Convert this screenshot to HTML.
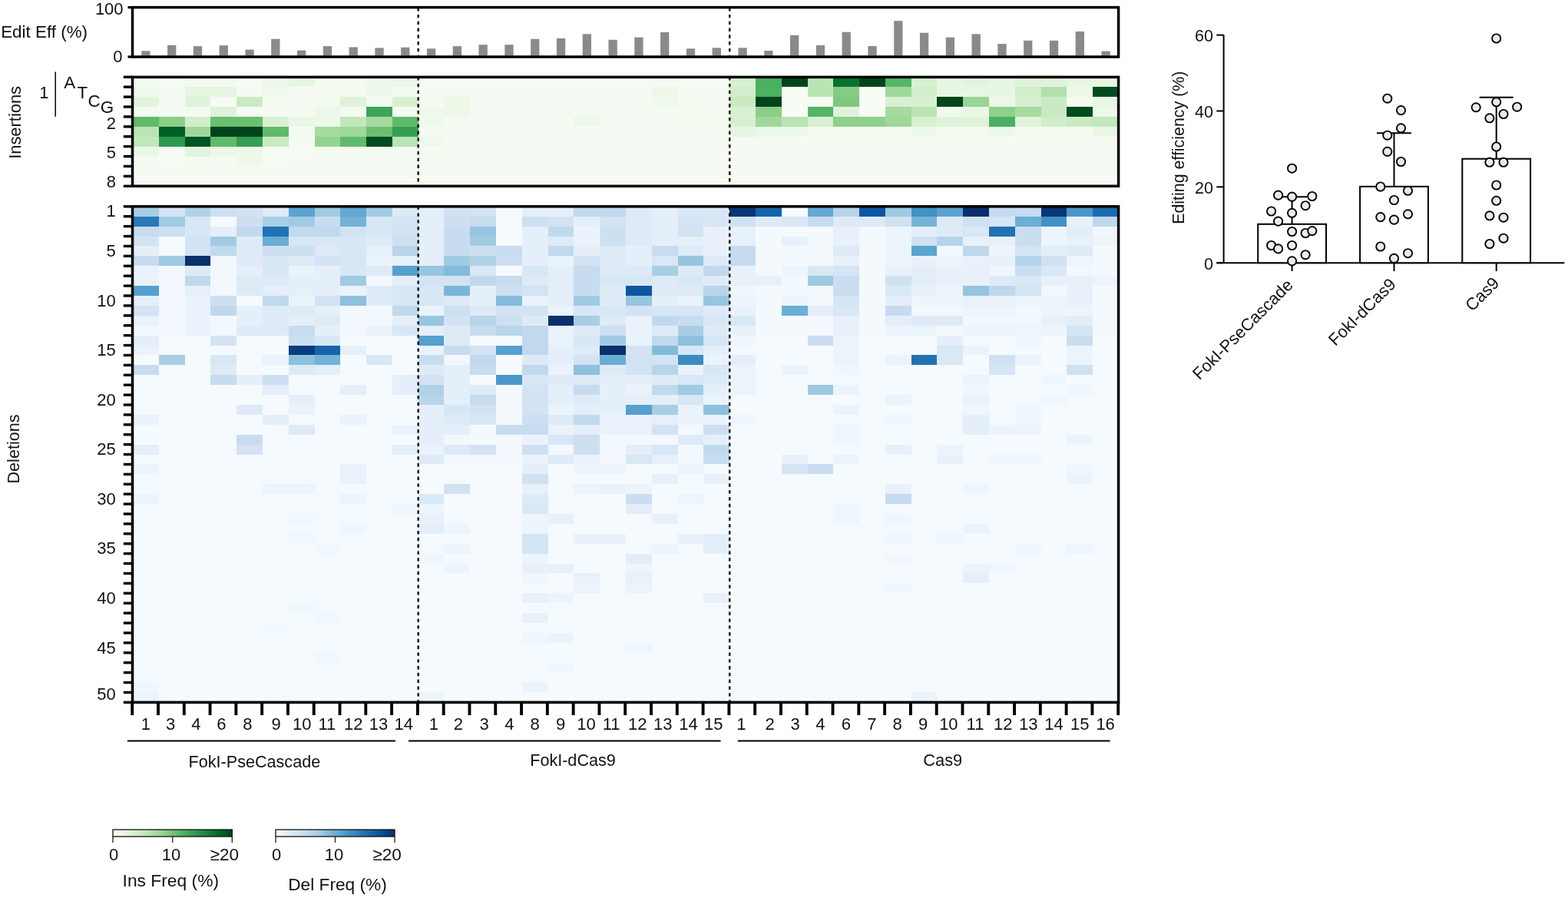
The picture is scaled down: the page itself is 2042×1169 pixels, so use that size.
<!DOCTYPE html>
<html><head><meta charset="utf-8"><title>Editing outcomes heatmap</title>
<style>
html,body{margin:0;padding:0;background:#fff;}
body{width:2042px;height:1169px;overflow:hidden;}
svg{display:block;}
svg text{font-family:'Liberation Sans',Arial,Helvetica,sans-serif;fill:#111;}
</style></head><body>
<svg width="2042" height="1169" viewBox="0 0 2042 1169">
<rect width="2042" height="1169" fill="#fff"/>
<g shape-rendering="crispEdges">
<rect x="173" y="100.3" width="34.39" height="13.51" fill="#f3fbf1"/>
<rect x="206.79" y="100.3" width="34.39" height="13.51" fill="#f5fbf2"/>
<rect x="240.58" y="100.3" width="34.39" height="13.51" fill="#f3fbf1"/>
<rect x="274.37" y="100.3" width="34.39" height="13.51" fill="#f3fbf1"/>
<rect x="308.16" y="100.3" width="34.39" height="13.51" fill="#f5fbf2"/>
<rect x="341.95" y="100.3" width="34.39" height="13.51" fill="#eef9eb"/>
<rect x="375.74" y="100.3" width="34.39" height="13.51" fill="#e7f6e2"/>
<rect x="409.53" y="100.3" width="34.39" height="13.51" fill="#f3fbf1"/>
<rect x="443.32" y="100.3" width="34.39" height="13.51" fill="#f3fbf1"/>
<rect x="477.11" y="100.3" width="34.39" height="13.51" fill="#eef9eb"/>
<rect x="510.9" y="100.3" width="34.39" height="13.51" fill="#ecf8e8"/>
<rect x="544.69" y="100.3" width="34.39" height="13.51" fill="#f5fbf2"/>
<rect x="578.48" y="100.3" width="34.39" height="13.51" fill="#f5fbf2"/>
<rect x="612.27" y="100.3" width="34.39" height="13.51" fill="#f5fbf2"/>
<rect x="646.06" y="100.3" width="34.39" height="13.51" fill="#f5fbf2"/>
<rect x="679.85" y="100.3" width="34.39" height="13.51" fill="#f5fbf2"/>
<rect x="713.64" y="100.3" width="34.39" height="13.51" fill="#f5fbf2"/>
<rect x="747.43" y="100.3" width="34.39" height="13.51" fill="#f5fbf2"/>
<rect x="781.22" y="100.3" width="34.39" height="13.51" fill="#f5fbf2"/>
<rect x="815.01" y="100.3" width="34.39" height="13.51" fill="#f5fbf2"/>
<rect x="848.8" y="100.3" width="34.39" height="13.51" fill="#f5fbf2"/>
<rect x="882.59" y="100.3" width="34.39" height="13.51" fill="#f5fbf2"/>
<rect x="916.38" y="100.3" width="34.39" height="13.51" fill="#f5fbf2"/>
<rect x="950.17" y="100.3" width="34.39" height="13.51" fill="#d8f0d2"/>
<rect x="983.96" y="100.3" width="34.39" height="13.51" fill="#4bb062"/>
<rect x="1017.75" y="100.3" width="34.39" height="13.51" fill="#00441b"/>
<rect x="1051.54" y="100.3" width="34.39" height="13.51" fill="#bae4b3"/>
<rect x="1085.33" y="100.3" width="34.39" height="13.51" fill="#077331"/>
<rect x="1119.12" y="100.3" width="34.39" height="13.51" fill="#00441b"/>
<rect x="1152.91" y="100.3" width="34.39" height="13.51" fill="#55b567"/>
<rect x="1186.7" y="100.3" width="34.39" height="13.51" fill="#d8f0d2"/>
<rect x="1220.49" y="100.3" width="34.39" height="13.51" fill="#e7f6e2"/>
<rect x="1254.28" y="100.3" width="34.39" height="13.51" fill="#e3f4de"/>
<rect x="1288.07" y="100.3" width="34.39" height="13.51" fill="#e7f6e2"/>
<rect x="1321.86" y="100.3" width="34.39" height="13.51" fill="#e0f3da"/>
<rect x="1355.65" y="100.3" width="34.39" height="13.51" fill="#e0f3da"/>
<rect x="1389.44" y="100.3" width="34.39" height="13.51" fill="#e7f6e2"/>
<rect x="1423.23" y="100.3" width="34.39" height="13.51" fill="#e7f6e2"/>
<rect x="173" y="113.21" width="34.39" height="13.51" fill="#eef9eb"/>
<rect x="206.79" y="113.21" width="34.39" height="13.51" fill="#f5fbf2"/>
<rect x="240.58" y="113.21" width="34.39" height="13.51" fill="#e7f6e2"/>
<rect x="274.37" y="113.21" width="34.39" height="13.51" fill="#e7f6e2"/>
<rect x="308.16" y="113.21" width="34.39" height="13.51" fill="#f5fbf2"/>
<rect x="341.95" y="113.21" width="34.39" height="13.51" fill="#eef9eb"/>
<rect x="375.74" y="113.21" width="34.39" height="13.51" fill="#f5fbf2"/>
<rect x="409.53" y="113.21" width="34.39" height="13.51" fill="#f3fbf1"/>
<rect x="443.32" y="113.21" width="34.39" height="13.51" fill="#f3fbf1"/>
<rect x="477.11" y="113.21" width="34.39" height="13.51" fill="#ecf8e8"/>
<rect x="510.9" y="113.21" width="34.39" height="13.51" fill="#f3fbf1"/>
<rect x="544.69" y="113.21" width="34.39" height="13.51" fill="#f5fbf2"/>
<rect x="578.48" y="113.21" width="34.39" height="13.51" fill="#f5fbf2"/>
<rect x="612.27" y="113.21" width="34.39" height="13.51" fill="#f5fbf2"/>
<rect x="646.06" y="113.21" width="34.39" height="13.51" fill="#f5fbf2"/>
<rect x="679.85" y="113.21" width="34.39" height="13.51" fill="#f5fbf2"/>
<rect x="713.64" y="113.21" width="34.39" height="13.51" fill="#f5fbf2"/>
<rect x="747.43" y="113.21" width="34.39" height="13.51" fill="#f5fbf2"/>
<rect x="781.22" y="113.21" width="34.39" height="13.51" fill="#f5fbf2"/>
<rect x="815.01" y="113.21" width="34.39" height="13.51" fill="#f5fbf2"/>
<rect x="848.8" y="113.21" width="34.39" height="13.51" fill="#edf8e9"/>
<rect x="882.59" y="113.21" width="34.39" height="13.51" fill="#f5fbf2"/>
<rect x="916.38" y="113.21" width="34.39" height="13.51" fill="#f5fbf2"/>
<rect x="950.17" y="113.21" width="34.39" height="13.51" fill="#d1edca"/>
<rect x="983.96" y="113.21" width="34.39" height="13.51" fill="#4bb062"/>
<rect x="1017.75" y="113.21" width="34.39" height="13.51" fill="#f7fcf5"/>
<rect x="1051.54" y="113.21" width="34.39" height="13.51" fill="#bae4b3"/>
<rect x="1085.33" y="113.21" width="34.39" height="13.51" fill="#86cc85"/>
<rect x="1119.12" y="113.21" width="34.39" height="13.51" fill="#f7fcf5"/>
<rect x="1152.91" y="113.21" width="34.39" height="13.51" fill="#9fd89a"/>
<rect x="1186.7" y="113.21" width="34.39" height="13.51" fill="#d1edca"/>
<rect x="1220.49" y="113.21" width="34.39" height="13.51" fill="#e7f6e2"/>
<rect x="1254.28" y="113.21" width="34.39" height="13.51" fill="#e7f6e2"/>
<rect x="1288.07" y="113.21" width="34.39" height="13.51" fill="#e7f6e2"/>
<rect x="1321.86" y="113.21" width="34.39" height="13.51" fill="#d1edca"/>
<rect x="1355.65" y="113.21" width="34.39" height="13.51" fill="#b3e0ac"/>
<rect x="1389.44" y="113.21" width="34.39" height="13.51" fill="#ecf8e8"/>
<rect x="1423.23" y="113.21" width="34.39" height="13.51" fill="#004c1e"/>
<rect x="173" y="126.12" width="34.39" height="13.51" fill="#e3f4de"/>
<rect x="206.79" y="126.12" width="34.39" height="13.51" fill="#f5fbf2"/>
<rect x="240.58" y="126.12" width="34.39" height="13.51" fill="#e0f3da"/>
<rect x="274.37" y="126.12" width="34.39" height="13.51" fill="#f6fbf3"/>
<rect x="308.16" y="126.12" width="34.39" height="13.51" fill="#caeac3"/>
<rect x="341.95" y="126.12" width="34.39" height="13.51" fill="#f3fbf1"/>
<rect x="375.74" y="126.12" width="34.39" height="13.51" fill="#f5fbf2"/>
<rect x="409.53" y="126.12" width="34.39" height="13.51" fill="#f3fbf1"/>
<rect x="443.32" y="126.12" width="34.39" height="13.51" fill="#e0f3da"/>
<rect x="477.11" y="126.12" width="34.39" height="13.51" fill="#f3fbf1"/>
<rect x="510.9" y="126.12" width="34.39" height="13.51" fill="#d8f0d2"/>
<rect x="544.69" y="126.12" width="34.39" height="13.51" fill="#f5fbf2"/>
<rect x="578.48" y="126.12" width="34.39" height="13.51" fill="#edf8e9"/>
<rect x="612.27" y="126.12" width="34.39" height="13.51" fill="#f5fbf2"/>
<rect x="646.06" y="126.12" width="34.39" height="13.51" fill="#f5fbf2"/>
<rect x="679.85" y="126.12" width="34.39" height="13.51" fill="#f5fbf2"/>
<rect x="713.64" y="126.12" width="34.39" height="13.51" fill="#f5fbf2"/>
<rect x="747.43" y="126.12" width="34.39" height="13.51" fill="#f5fbf2"/>
<rect x="781.22" y="126.12" width="34.39" height="13.51" fill="#f5fbf2"/>
<rect x="815.01" y="126.12" width="34.39" height="13.51" fill="#f5fbf2"/>
<rect x="848.8" y="126.12" width="34.39" height="13.51" fill="#eff9ec"/>
<rect x="882.59" y="126.12" width="34.39" height="13.51" fill="#f5fbf2"/>
<rect x="916.38" y="126.12" width="34.39" height="13.51" fill="#f5fbf2"/>
<rect x="950.17" y="126.12" width="34.39" height="13.51" fill="#caeac3"/>
<rect x="983.96" y="126.12" width="34.39" height="13.51" fill="#00441b"/>
<rect x="1017.75" y="126.12" width="34.39" height="13.51" fill="#f7fcf5"/>
<rect x="1051.54" y="126.12" width="34.39" height="13.51" fill="#f5fbf2"/>
<rect x="1085.33" y="126.12" width="34.39" height="13.51" fill="#7dc87d"/>
<rect x="1119.12" y="126.12" width="34.39" height="13.51" fill="#f7fcf5"/>
<rect x="1152.91" y="126.12" width="34.39" height="13.51" fill="#d8f0d2"/>
<rect x="1186.7" y="126.12" width="34.39" height="13.51" fill="#d8f0d2"/>
<rect x="1220.49" y="126.12" width="34.39" height="13.51" fill="#00441b"/>
<rect x="1254.28" y="126.12" width="34.39" height="13.51" fill="#99d595"/>
<rect x="1288.07" y="126.12" width="34.39" height="13.51" fill="#ecf8e8"/>
<rect x="1321.86" y="126.12" width="34.39" height="13.51" fill="#d8f0d2"/>
<rect x="1355.65" y="126.12" width="34.39" height="13.51" fill="#caeac3"/>
<rect x="1389.44" y="126.12" width="34.39" height="13.51" fill="#f5fbf2"/>
<rect x="1423.23" y="126.12" width="34.39" height="13.51" fill="#e7f6e2"/>
<rect x="173" y="139.03" width="34.39" height="13.51" fill="#f3fbf1"/>
<rect x="206.79" y="139.03" width="34.39" height="13.51" fill="#f5fbf2"/>
<rect x="240.58" y="139.03" width="34.39" height="13.51" fill="#f3fbf1"/>
<rect x="274.37" y="139.03" width="34.39" height="13.51" fill="#e0f3da"/>
<rect x="308.16" y="139.03" width="34.39" height="13.51" fill="#f5fbf2"/>
<rect x="341.95" y="139.03" width="34.39" height="13.51" fill="#f5fbf2"/>
<rect x="375.74" y="139.03" width="34.39" height="13.51" fill="#f5fbf2"/>
<rect x="409.53" y="139.03" width="34.39" height="13.51" fill="#ecf8e8"/>
<rect x="443.32" y="139.03" width="34.39" height="13.51" fill="#f3fbf1"/>
<rect x="477.11" y="139.03" width="34.39" height="13.51" fill="#3ba558"/>
<rect x="510.9" y="139.03" width="34.39" height="13.51" fill="#f3fbf1"/>
<rect x="544.69" y="139.03" width="34.39" height="13.51" fill="#eef9eb"/>
<rect x="578.48" y="139.03" width="34.39" height="13.51" fill="#edf8e9"/>
<rect x="612.27" y="139.03" width="34.39" height="13.51" fill="#f5fbf2"/>
<rect x="646.06" y="139.03" width="34.39" height="13.51" fill="#f5fbf2"/>
<rect x="679.85" y="139.03" width="34.39" height="13.51" fill="#f5fbf2"/>
<rect x="713.64" y="139.03" width="34.39" height="13.51" fill="#f5fbf2"/>
<rect x="747.43" y="139.03" width="34.39" height="13.51" fill="#f5fbf2"/>
<rect x="781.22" y="139.03" width="34.39" height="13.51" fill="#f5fbf2"/>
<rect x="815.01" y="139.03" width="34.39" height="13.51" fill="#f5fbf2"/>
<rect x="848.8" y="139.03" width="34.39" height="13.51" fill="#f5fbf2"/>
<rect x="882.59" y="139.03" width="34.39" height="13.51" fill="#f3faf0"/>
<rect x="916.38" y="139.03" width="34.39" height="13.51" fill="#f5fbf2"/>
<rect x="950.17" y="139.03" width="34.39" height="13.51" fill="#d8f0d2"/>
<rect x="983.96" y="139.03" width="34.39" height="13.51" fill="#8ace88"/>
<rect x="1017.75" y="139.03" width="34.39" height="13.51" fill="#f7fcf5"/>
<rect x="1051.54" y="139.03" width="34.39" height="13.51" fill="#55b567"/>
<rect x="1085.33" y="139.03" width="34.39" height="13.51" fill="#e0f3da"/>
<rect x="1119.12" y="139.03" width="34.39" height="13.51" fill="#f7fcf5"/>
<rect x="1152.91" y="139.03" width="34.39" height="13.51" fill="#a6db9f"/>
<rect x="1186.7" y="139.03" width="34.39" height="13.51" fill="#bae4b3"/>
<rect x="1220.49" y="139.03" width="34.39" height="13.51" fill="#eef9eb"/>
<rect x="1254.28" y="139.03" width="34.39" height="13.51" fill="#eaf7e6"/>
<rect x="1288.07" y="139.03" width="34.39" height="13.51" fill="#8ed08c"/>
<rect x="1321.86" y="139.03" width="34.39" height="13.51" fill="#a6db9f"/>
<rect x="1355.65" y="139.03" width="34.39" height="13.51" fill="#caeac3"/>
<rect x="1389.44" y="139.03" width="34.39" height="13.51" fill="#004c1e"/>
<rect x="1423.23" y="139.03" width="34.39" height="13.51" fill="#ecf8e8"/>
<rect x="173" y="151.94" width="34.39" height="13.51" fill="#60ba6c"/>
<rect x="206.79" y="151.94" width="34.39" height="13.51" fill="#8ace88"/>
<rect x="240.58" y="151.94" width="34.39" height="13.51" fill="#d1edca"/>
<rect x="274.37" y="151.94" width="34.39" height="13.51" fill="#6abf71"/>
<rect x="308.16" y="151.94" width="34.39" height="13.51" fill="#6abf71"/>
<rect x="341.95" y="151.94" width="34.39" height="13.51" fill="#d8f0d2"/>
<rect x="375.74" y="151.94" width="34.39" height="13.51" fill="#eaf7e6"/>
<rect x="409.53" y="151.94" width="34.39" height="13.51" fill="#ecf8e8"/>
<rect x="443.32" y="151.94" width="34.39" height="13.51" fill="#c2e7bb"/>
<rect x="477.11" y="151.94" width="34.39" height="13.51" fill="#a6db9f"/>
<rect x="510.9" y="151.94" width="34.39" height="13.51" fill="#60ba6c"/>
<rect x="544.69" y="151.94" width="34.39" height="13.51" fill="#eef9eb"/>
<rect x="578.48" y="151.94" width="34.39" height="13.51" fill="#f5fbf2"/>
<rect x="612.27" y="151.94" width="34.39" height="13.51" fill="#f5fbf2"/>
<rect x="646.06" y="151.94" width="34.39" height="13.51" fill="#f5fbf2"/>
<rect x="679.85" y="151.94" width="34.39" height="13.51" fill="#f5fbf2"/>
<rect x="713.64" y="151.94" width="34.39" height="13.51" fill="#f5fbf2"/>
<rect x="747.43" y="151.94" width="34.39" height="13.51" fill="#edf8e9"/>
<rect x="781.22" y="151.94" width="34.39" height="13.51" fill="#f5fbf2"/>
<rect x="815.01" y="151.94" width="34.39" height="13.51" fill="#f5fbf2"/>
<rect x="848.8" y="151.94" width="34.39" height="13.51" fill="#f5fbf2"/>
<rect x="882.59" y="151.94" width="34.39" height="13.51" fill="#f5fbf2"/>
<rect x="916.38" y="151.94" width="34.39" height="13.51" fill="#f3faf0"/>
<rect x="950.17" y="151.94" width="34.39" height="13.51" fill="#d8f0d2"/>
<rect x="983.96" y="151.94" width="34.39" height="13.51" fill="#9fd89a"/>
<rect x="1017.75" y="151.94" width="34.39" height="13.51" fill="#bae4b3"/>
<rect x="1051.54" y="151.94" width="34.39" height="13.51" fill="#d8f0d2"/>
<rect x="1085.33" y="151.94" width="34.39" height="13.51" fill="#8ed08c"/>
<rect x="1119.12" y="151.94" width="34.39" height="13.51" fill="#8ed08c"/>
<rect x="1152.91" y="151.94" width="34.39" height="13.51" fill="#9fd89a"/>
<rect x="1186.7" y="151.94" width="34.39" height="13.51" fill="#d8f0d2"/>
<rect x="1220.49" y="151.94" width="34.39" height="13.51" fill="#e0f3da"/>
<rect x="1254.28" y="151.94" width="34.39" height="13.51" fill="#e0f3da"/>
<rect x="1288.07" y="151.94" width="34.39" height="13.51" fill="#4bb062"/>
<rect x="1321.86" y="151.94" width="34.39" height="13.51" fill="#e0f3da"/>
<rect x="1355.65" y="151.94" width="34.39" height="13.51" fill="#d1edca"/>
<rect x="1389.44" y="151.94" width="34.39" height="13.51" fill="#caeac3"/>
<rect x="1423.23" y="151.94" width="34.39" height="13.51" fill="#c2e7bb"/>
<rect x="173" y="164.85" width="34.39" height="13.51" fill="#bae4b3"/>
<rect x="206.79" y="164.85" width="34.39" height="13.51" fill="#005d25"/>
<rect x="240.58" y="164.85" width="34.39" height="13.51" fill="#9fd89a"/>
<rect x="274.37" y="164.85" width="34.39" height="13.51" fill="#00441b"/>
<rect x="308.16" y="164.85" width="34.39" height="13.51" fill="#00441b"/>
<rect x="341.95" y="164.85" width="34.39" height="13.51" fill="#60ba6c"/>
<rect x="375.74" y="164.85" width="34.39" height="13.51" fill="#f3fbf1"/>
<rect x="409.53" y="164.85" width="34.39" height="13.51" fill="#a6db9f"/>
<rect x="443.32" y="164.85" width="34.39" height="13.51" fill="#9fd89a"/>
<rect x="477.11" y="164.85" width="34.39" height="13.51" fill="#6abf71"/>
<rect x="510.9" y="164.85" width="34.39" height="13.51" fill="#359e53"/>
<rect x="544.69" y="164.85" width="34.39" height="13.51" fill="#f5fbf2"/>
<rect x="578.48" y="164.85" width="34.39" height="13.51" fill="#f5fbf2"/>
<rect x="612.27" y="164.85" width="34.39" height="13.51" fill="#f5fbf2"/>
<rect x="646.06" y="164.85" width="34.39" height="13.51" fill="#f5fbf2"/>
<rect x="679.85" y="164.85" width="34.39" height="13.51" fill="#f5fbf2"/>
<rect x="713.64" y="164.85" width="34.39" height="13.51" fill="#f5fbf2"/>
<rect x="747.43" y="164.85" width="34.39" height="13.51" fill="#f5fbf2"/>
<rect x="781.22" y="164.85" width="34.39" height="13.51" fill="#f5fbf2"/>
<rect x="815.01" y="164.85" width="34.39" height="13.51" fill="#f5fbf2"/>
<rect x="848.8" y="164.85" width="34.39" height="13.51" fill="#f5fbf2"/>
<rect x="882.59" y="164.85" width="34.39" height="13.51" fill="#f5fbf2"/>
<rect x="916.38" y="164.85" width="34.39" height="13.51" fill="#f5fbf2"/>
<rect x="950.17" y="164.85" width="34.39" height="13.51" fill="#e7f6e2"/>
<rect x="983.96" y="164.85" width="34.39" height="13.51" fill="#ecf8e8"/>
<rect x="1017.75" y="164.85" width="34.39" height="13.51" fill="#ecf8e8"/>
<rect x="1051.54" y="164.85" width="34.39" height="13.51" fill="#f3fbf1"/>
<rect x="1085.33" y="164.85" width="34.39" height="13.51" fill="#f3fbf1"/>
<rect x="1119.12" y="164.85" width="34.39" height="13.51" fill="#f3fbf1"/>
<rect x="1152.91" y="164.85" width="34.39" height="13.51" fill="#f3fbf1"/>
<rect x="1186.7" y="164.85" width="34.39" height="13.51" fill="#ecf8e8"/>
<rect x="1220.49" y="164.85" width="34.39" height="13.51" fill="#f3fbf1"/>
<rect x="1254.28" y="164.85" width="34.39" height="13.51" fill="#f3fbf1"/>
<rect x="1288.07" y="164.85" width="34.39" height="13.51" fill="#ecf8e8"/>
<rect x="1321.86" y="164.85" width="34.39" height="13.51" fill="#f3fbf1"/>
<rect x="1355.65" y="164.85" width="34.39" height="13.51" fill="#f3fbf1"/>
<rect x="1389.44" y="164.85" width="34.39" height="13.51" fill="#f3fbf1"/>
<rect x="1423.23" y="164.85" width="34.39" height="13.51" fill="#eaf7e6"/>
<rect x="173" y="177.76" width="34.39" height="13.51" fill="#c2e7bb"/>
<rect x="206.79" y="177.76" width="34.39" height="13.51" fill="#2f984f"/>
<rect x="240.58" y="177.76" width="34.39" height="13.51" fill="#005422"/>
<rect x="274.37" y="177.76" width="34.39" height="13.51" fill="#60ba6c"/>
<rect x="308.16" y="177.76" width="34.39" height="13.51" fill="#359e53"/>
<rect x="341.95" y="177.76" width="34.39" height="13.51" fill="#caeac3"/>
<rect x="375.74" y="177.76" width="34.39" height="13.51" fill="#f5fbf2"/>
<rect x="409.53" y="177.76" width="34.39" height="13.51" fill="#94d390"/>
<rect x="443.32" y="177.76" width="34.39" height="13.51" fill="#60ba6c"/>
<rect x="477.11" y="177.76" width="34.39" height="13.51" fill="#004c1e"/>
<rect x="510.9" y="177.76" width="34.39" height="13.51" fill="#bae4b3"/>
<rect x="544.69" y="177.76" width="34.39" height="13.51" fill="#eef9eb"/>
<rect x="578.48" y="177.76" width="34.39" height="13.51" fill="#f5fbf2"/>
<rect x="612.27" y="177.76" width="34.39" height="13.51" fill="#f5fbf2"/>
<rect x="646.06" y="177.76" width="34.39" height="13.51" fill="#f5fbf2"/>
<rect x="679.85" y="177.76" width="34.39" height="13.51" fill="#f5fbf2"/>
<rect x="713.64" y="177.76" width="34.39" height="13.51" fill="#f5fbf2"/>
<rect x="747.43" y="177.76" width="34.39" height="13.51" fill="#f5fbf2"/>
<rect x="781.22" y="177.76" width="34.39" height="13.51" fill="#f5fbf2"/>
<rect x="815.01" y="177.76" width="34.39" height="13.51" fill="#f5fbf2"/>
<rect x="848.8" y="177.76" width="34.39" height="13.51" fill="#f5fbf2"/>
<rect x="882.59" y="177.76" width="34.39" height="13.51" fill="#f5fbf2"/>
<rect x="916.38" y="177.76" width="34.39" height="13.51" fill="#f5fbf2"/>
<rect x="950.17" y="177.76" width="34.39" height="13.51" fill="#f5fbf2"/>
<rect x="983.96" y="177.76" width="34.39" height="13.51" fill="#f5fbf2"/>
<rect x="1017.75" y="177.76" width="34.39" height="13.51" fill="#f5fbf2"/>
<rect x="1051.54" y="177.76" width="34.39" height="13.51" fill="#f5fbf2"/>
<rect x="1085.33" y="177.76" width="34.39" height="13.51" fill="#f5fbf2"/>
<rect x="1119.12" y="177.76" width="34.39" height="13.51" fill="#f5fbf2"/>
<rect x="1152.91" y="177.76" width="34.39" height="13.51" fill="#f5fbf2"/>
<rect x="1186.7" y="177.76" width="34.39" height="13.51" fill="#f5fbf2"/>
<rect x="1220.49" y="177.76" width="34.39" height="13.51" fill="#f5fbf2"/>
<rect x="1254.28" y="177.76" width="34.39" height="13.51" fill="#f5fbf2"/>
<rect x="1288.07" y="177.76" width="34.39" height="13.51" fill="#f5fbf2"/>
<rect x="1321.86" y="177.76" width="34.39" height="13.51" fill="#f5fbf2"/>
<rect x="1355.65" y="177.76" width="34.39" height="13.51" fill="#f5fbf2"/>
<rect x="1389.44" y="177.76" width="34.39" height="13.51" fill="#f5fbf2"/>
<rect x="1423.23" y="177.76" width="34.39" height="13.51" fill="#f5fbf2"/>
<rect x="173" y="190.67" width="34.39" height="13.51" fill="#eaf7e6"/>
<rect x="206.79" y="190.67" width="34.39" height="13.51" fill="#f5fbf2"/>
<rect x="240.58" y="190.67" width="34.39" height="13.51" fill="#e3f4de"/>
<rect x="274.37" y="190.67" width="34.39" height="13.51" fill="#ecf8e8"/>
<rect x="308.16" y="190.67" width="34.39" height="13.51" fill="#ecf8e8"/>
<rect x="341.95" y="190.67" width="34.39" height="13.51" fill="#f5fbf2"/>
<rect x="375.74" y="190.67" width="34.39" height="13.51" fill="#f6fbf3"/>
<rect x="409.53" y="190.67" width="34.39" height="13.51" fill="#f5fbf2"/>
<rect x="443.32" y="190.67" width="34.39" height="13.51" fill="#f5fbf2"/>
<rect x="477.11" y="190.67" width="34.39" height="13.51" fill="#f3faf0"/>
<rect x="510.9" y="190.67" width="34.39" height="13.51" fill="#f5fbf2"/>
<rect x="544.69" y="190.67" width="34.39" height="13.51" fill="#f5fbf2"/>
<rect x="578.48" y="190.67" width="34.39" height="13.51" fill="#f5fbf2"/>
<rect x="612.27" y="190.67" width="34.39" height="13.51" fill="#f5fbf2"/>
<rect x="646.06" y="190.67" width="34.39" height="13.51" fill="#f5fbf2"/>
<rect x="679.85" y="190.67" width="34.39" height="13.51" fill="#f5fbf2"/>
<rect x="713.64" y="190.67" width="34.39" height="13.51" fill="#f5fbf2"/>
<rect x="747.43" y="190.67" width="34.39" height="13.51" fill="#f5fbf2"/>
<rect x="781.22" y="190.67" width="34.39" height="13.51" fill="#f5fbf2"/>
<rect x="815.01" y="190.67" width="34.39" height="13.51" fill="#f5fbf2"/>
<rect x="848.8" y="190.67" width="34.39" height="13.51" fill="#f5fbf2"/>
<rect x="882.59" y="190.67" width="34.39" height="13.51" fill="#f5fbf2"/>
<rect x="916.38" y="190.67" width="34.39" height="13.51" fill="#f5fbf2"/>
<rect x="950.17" y="190.67" width="34.39" height="13.51" fill="#f5fbf2"/>
<rect x="983.96" y="190.67" width="34.39" height="13.51" fill="#f5fbf2"/>
<rect x="1017.75" y="190.67" width="34.39" height="13.51" fill="#f5fbf2"/>
<rect x="1051.54" y="190.67" width="34.39" height="13.51" fill="#f5fbf2"/>
<rect x="1085.33" y="190.67" width="34.39" height="13.51" fill="#f5fbf2"/>
<rect x="1119.12" y="190.67" width="34.39" height="13.51" fill="#f5fbf2"/>
<rect x="1152.91" y="190.67" width="34.39" height="13.51" fill="#f5fbf2"/>
<rect x="1186.7" y="190.67" width="34.39" height="13.51" fill="#f5fbf2"/>
<rect x="1220.49" y="190.67" width="34.39" height="13.51" fill="#f5fbf2"/>
<rect x="1254.28" y="190.67" width="34.39" height="13.51" fill="#f5fbf2"/>
<rect x="1288.07" y="190.67" width="34.39" height="13.51" fill="#f5fbf2"/>
<rect x="1321.86" y="190.67" width="34.39" height="13.51" fill="#f5fbf2"/>
<rect x="1355.65" y="190.67" width="34.39" height="13.51" fill="#f5fbf2"/>
<rect x="1389.44" y="190.67" width="34.39" height="13.51" fill="#f5fbf2"/>
<rect x="1423.23" y="190.67" width="34.39" height="13.51" fill="#f5fbf2"/>
<rect x="173" y="203.58" width="34.39" height="13.51" fill="#f5fbf2"/>
<rect x="206.79" y="203.58" width="34.39" height="13.51" fill="#f6fbf3"/>
<rect x="240.58" y="203.58" width="34.39" height="13.51" fill="#f3fbf1"/>
<rect x="274.37" y="203.58" width="34.39" height="13.51" fill="#f5fbf2"/>
<rect x="308.16" y="203.58" width="34.39" height="13.51" fill="#eef9eb"/>
<rect x="341.95" y="203.58" width="34.39" height="13.51" fill="#f6fbf3"/>
<rect x="375.74" y="203.58" width="34.39" height="13.51" fill="#f5fbf2"/>
<rect x="409.53" y="203.58" width="34.39" height="13.51" fill="#f5fbf2"/>
<rect x="443.32" y="203.58" width="34.39" height="13.51" fill="#f5fbf2"/>
<rect x="477.11" y="203.58" width="34.39" height="13.51" fill="#f5fbf2"/>
<rect x="510.9" y="203.58" width="34.39" height="13.51" fill="#f5fbf2"/>
<rect x="544.69" y="203.58" width="34.39" height="13.51" fill="#f5fbf2"/>
<rect x="578.48" y="203.58" width="34.39" height="13.51" fill="#f5fbf2"/>
<rect x="612.27" y="203.58" width="34.39" height="13.51" fill="#f5fbf2"/>
<rect x="646.06" y="203.58" width="34.39" height="13.51" fill="#f5fbf2"/>
<rect x="679.85" y="203.58" width="34.39" height="13.51" fill="#f5fbf2"/>
<rect x="713.64" y="203.58" width="34.39" height="13.51" fill="#f5fbf2"/>
<rect x="747.43" y="203.58" width="34.39" height="13.51" fill="#f5fbf2"/>
<rect x="781.22" y="203.58" width="34.39" height="13.51" fill="#f5fbf2"/>
<rect x="815.01" y="203.58" width="34.39" height="13.51" fill="#f5fbf2"/>
<rect x="848.8" y="203.58" width="34.39" height="13.51" fill="#f5fbf2"/>
<rect x="882.59" y="203.58" width="34.39" height="13.51" fill="#f5fbf2"/>
<rect x="916.38" y="203.58" width="34.39" height="13.51" fill="#f5fbf2"/>
<rect x="950.17" y="203.58" width="34.39" height="13.51" fill="#f5fbf2"/>
<rect x="983.96" y="203.58" width="34.39" height="13.51" fill="#f5fbf2"/>
<rect x="1017.75" y="203.58" width="34.39" height="13.51" fill="#f5fbf2"/>
<rect x="1051.54" y="203.58" width="34.39" height="13.51" fill="#f5fbf2"/>
<rect x="1085.33" y="203.58" width="34.39" height="13.51" fill="#f5fbf2"/>
<rect x="1119.12" y="203.58" width="34.39" height="13.51" fill="#f5fbf2"/>
<rect x="1152.91" y="203.58" width="34.39" height="13.51" fill="#f5fbf2"/>
<rect x="1186.7" y="203.58" width="34.39" height="13.51" fill="#f5fbf2"/>
<rect x="1220.49" y="203.58" width="34.39" height="13.51" fill="#f5fbf2"/>
<rect x="1254.28" y="203.58" width="34.39" height="13.51" fill="#f5fbf2"/>
<rect x="1288.07" y="203.58" width="34.39" height="13.51" fill="#f5fbf2"/>
<rect x="1321.86" y="203.58" width="34.39" height="13.51" fill="#f5fbf2"/>
<rect x="1355.65" y="203.58" width="34.39" height="13.51" fill="#f5fbf2"/>
<rect x="1389.44" y="203.58" width="34.39" height="13.51" fill="#f5fbf2"/>
<rect x="1423.23" y="203.58" width="34.39" height="13.51" fill="#f5fbf2"/>
<rect x="173" y="216.49" width="34.39" height="13.51" fill="#f5fbf2"/>
<rect x="206.79" y="216.49" width="34.39" height="13.51" fill="#f5fbf2"/>
<rect x="240.58" y="216.49" width="34.39" height="13.51" fill="#f5fbf2"/>
<rect x="274.37" y="216.49" width="34.39" height="13.51" fill="#f5fbf2"/>
<rect x="308.16" y="216.49" width="34.39" height="13.51" fill="#f5fbf2"/>
<rect x="341.95" y="216.49" width="34.39" height="13.51" fill="#f5fbf2"/>
<rect x="375.74" y="216.49" width="34.39" height="13.51" fill="#f5fbf2"/>
<rect x="409.53" y="216.49" width="34.39" height="13.51" fill="#f5fbf2"/>
<rect x="443.32" y="216.49" width="34.39" height="13.51" fill="#f5fbf2"/>
<rect x="477.11" y="216.49" width="34.39" height="13.51" fill="#f5fbf2"/>
<rect x="510.9" y="216.49" width="34.39" height="13.51" fill="#f5fbf2"/>
<rect x="544.69" y="216.49" width="34.39" height="13.51" fill="#f5fbf2"/>
<rect x="578.48" y="216.49" width="34.39" height="13.51" fill="#f5fbf2"/>
<rect x="612.27" y="216.49" width="34.39" height="13.51" fill="#f5fbf2"/>
<rect x="646.06" y="216.49" width="34.39" height="13.51" fill="#f5fbf2"/>
<rect x="679.85" y="216.49" width="34.39" height="13.51" fill="#f5fbf2"/>
<rect x="713.64" y="216.49" width="34.39" height="13.51" fill="#f5fbf2"/>
<rect x="747.43" y="216.49" width="34.39" height="13.51" fill="#f5fbf2"/>
<rect x="781.22" y="216.49" width="34.39" height="13.51" fill="#f5fbf2"/>
<rect x="815.01" y="216.49" width="34.39" height="13.51" fill="#f5fbf2"/>
<rect x="848.8" y="216.49" width="34.39" height="13.51" fill="#f5fbf2"/>
<rect x="882.59" y="216.49" width="34.39" height="13.51" fill="#f5fbf2"/>
<rect x="916.38" y="216.49" width="34.39" height="13.51" fill="#f5fbf2"/>
<rect x="950.17" y="216.49" width="34.39" height="13.51" fill="#f5fbf2"/>
<rect x="983.96" y="216.49" width="34.39" height="13.51" fill="#f5fbf2"/>
<rect x="1017.75" y="216.49" width="34.39" height="13.51" fill="#f5fbf2"/>
<rect x="1051.54" y="216.49" width="34.39" height="13.51" fill="#f5fbf2"/>
<rect x="1085.33" y="216.49" width="34.39" height="13.51" fill="#f5fbf2"/>
<rect x="1119.12" y="216.49" width="34.39" height="13.51" fill="#f5fbf2"/>
<rect x="1152.91" y="216.49" width="34.39" height="13.51" fill="#f5fbf2"/>
<rect x="1186.7" y="216.49" width="34.39" height="13.51" fill="#f5fbf2"/>
<rect x="1220.49" y="216.49" width="34.39" height="13.51" fill="#f5fbf2"/>
<rect x="1254.28" y="216.49" width="34.39" height="13.51" fill="#f5fbf2"/>
<rect x="1288.07" y="216.49" width="34.39" height="13.51" fill="#f5fbf2"/>
<rect x="1321.86" y="216.49" width="34.39" height="13.51" fill="#f5fbf2"/>
<rect x="1355.65" y="216.49" width="34.39" height="13.51" fill="#f5fbf2"/>
<rect x="1389.44" y="216.49" width="34.39" height="13.51" fill="#f5fbf2"/>
<rect x="1423.23" y="216.49" width="34.39" height="13.51" fill="#f5fbf2"/>
<rect x="173" y="229.4" width="34.39" height="13.51" fill="#f5fbf2"/>
<rect x="206.79" y="229.4" width="34.39" height="13.51" fill="#f5fbf2"/>
<rect x="240.58" y="229.4" width="34.39" height="13.51" fill="#f5fbf2"/>
<rect x="274.37" y="229.4" width="34.39" height="13.51" fill="#f5fbf2"/>
<rect x="308.16" y="229.4" width="34.39" height="13.51" fill="#f5fbf2"/>
<rect x="341.95" y="229.4" width="34.39" height="13.51" fill="#f5fbf2"/>
<rect x="375.74" y="229.4" width="34.39" height="13.51" fill="#f5fbf2"/>
<rect x="409.53" y="229.4" width="34.39" height="13.51" fill="#f5fbf2"/>
<rect x="443.32" y="229.4" width="34.39" height="13.51" fill="#f5fbf2"/>
<rect x="477.11" y="229.4" width="34.39" height="13.51" fill="#f5fbf2"/>
<rect x="510.9" y="229.4" width="34.39" height="13.51" fill="#f5fbf2"/>
<rect x="544.69" y="229.4" width="34.39" height="13.51" fill="#f5fbf2"/>
<rect x="578.48" y="229.4" width="34.39" height="13.51" fill="#f5fbf2"/>
<rect x="612.27" y="229.4" width="34.39" height="13.51" fill="#f5fbf2"/>
<rect x="646.06" y="229.4" width="34.39" height="13.51" fill="#f5fbf2"/>
<rect x="679.85" y="229.4" width="34.39" height="13.51" fill="#f5fbf2"/>
<rect x="713.64" y="229.4" width="34.39" height="13.51" fill="#f5fbf2"/>
<rect x="747.43" y="229.4" width="34.39" height="13.51" fill="#f5fbf2"/>
<rect x="781.22" y="229.4" width="34.39" height="13.51" fill="#f5fbf2"/>
<rect x="815.01" y="229.4" width="34.39" height="13.51" fill="#f5fbf2"/>
<rect x="848.8" y="229.4" width="34.39" height="13.51" fill="#f5fbf2"/>
<rect x="882.59" y="229.4" width="34.39" height="13.51" fill="#f5fbf2"/>
<rect x="916.38" y="229.4" width="34.39" height="13.51" fill="#f5fbf2"/>
<rect x="950.17" y="229.4" width="34.39" height="13.51" fill="#f5fbf2"/>
<rect x="983.96" y="229.4" width="34.39" height="13.51" fill="#f5fbf2"/>
<rect x="1017.75" y="229.4" width="34.39" height="13.51" fill="#f5fbf2"/>
<rect x="1051.54" y="229.4" width="34.39" height="13.51" fill="#f5fbf2"/>
<rect x="1085.33" y="229.4" width="34.39" height="13.51" fill="#f5fbf2"/>
<rect x="1119.12" y="229.4" width="34.39" height="13.51" fill="#f5fbf2"/>
<rect x="1152.91" y="229.4" width="34.39" height="13.51" fill="#f5fbf2"/>
<rect x="1186.7" y="229.4" width="34.39" height="13.51" fill="#f5fbf2"/>
<rect x="1220.49" y="229.4" width="34.39" height="13.51" fill="#f5fbf2"/>
<rect x="1254.28" y="229.4" width="34.39" height="13.51" fill="#f5fbf2"/>
<rect x="1288.07" y="229.4" width="34.39" height="13.51" fill="#f5fbf2"/>
<rect x="1321.86" y="229.4" width="34.39" height="13.51" fill="#f5fbf2"/>
<rect x="1355.65" y="229.4" width="34.39" height="13.51" fill="#f5fbf2"/>
<rect x="1389.44" y="229.4" width="34.39" height="13.51" fill="#f5fbf2"/>
<rect x="1423.23" y="229.4" width="34.39" height="13.51" fill="#f5fbf2"/>
<rect x="173" y="268.8" width="34.39" height="13.51" fill="#a8cee4"/>
<rect x="206.79" y="268.8" width="34.39" height="13.51" fill="#d3e3f3"/>
<rect x="240.58" y="268.8" width="34.39" height="13.51" fill="#b0d2e7"/>
<rect x="274.37" y="268.8" width="34.39" height="13.51" fill="#cde0f1"/>
<rect x="308.16" y="268.8" width="34.39" height="13.51" fill="#d3e3f3"/>
<rect x="341.95" y="268.8" width="34.39" height="13.51" fill="#deebf7"/>
<rect x="375.74" y="268.8" width="34.39" height="13.51" fill="#5ca4d0"/>
<rect x="409.53" y="268.8" width="34.39" height="13.51" fill="#a0cbe2"/>
<rect x="443.32" y="268.8" width="34.39" height="13.51" fill="#63a8d3"/>
<rect x="477.11" y="268.8" width="34.39" height="13.51" fill="#a0cbe2"/>
<rect x="510.9" y="268.8" width="34.39" height="13.51" fill="#deebf7"/>
<rect x="544.69" y="268.8" width="34.39" height="13.51" fill="#e4eff9"/>
<rect x="578.48" y="268.8" width="34.39" height="13.51" fill="#d3e3f3"/>
<rect x="612.27" y="268.8" width="34.39" height="13.51" fill="#d3e3f3"/>
<rect x="646.06" y="268.8" width="34.39" height="13.51" fill="#f5fafe"/>
<rect x="679.85" y="268.8" width="34.39" height="13.51" fill="#e4eff9"/>
<rect x="713.64" y="268.8" width="34.39" height="13.51" fill="#e4eff9"/>
<rect x="747.43" y="268.8" width="34.39" height="13.51" fill="#c0d9ed"/>
<rect x="781.22" y="268.8" width="34.39" height="13.51" fill="#c0d9ed"/>
<rect x="815.01" y="268.8" width="34.39" height="13.51" fill="#deebf7"/>
<rect x="848.8" y="268.8" width="34.39" height="13.51" fill="#e4eff9"/>
<rect x="882.59" y="268.8" width="34.39" height="13.51" fill="#d8e7f5"/>
<rect x="916.38" y="268.8" width="34.39" height="13.51" fill="#d8e7f5"/>
<rect x="950.17" y="268.8" width="34.39" height="13.51" fill="#083775"/>
<rect x="983.96" y="268.8" width="34.39" height="13.51" fill="#1764ab"/>
<rect x="1017.75" y="268.8" width="34.39" height="13.51" fill="#f7fbff"/>
<rect x="1051.54" y="268.8" width="34.39" height="13.51" fill="#63a8d3"/>
<rect x="1085.33" y="268.8" width="34.39" height="13.51" fill="#b6d4e9"/>
<rect x="1119.12" y="268.8" width="34.39" height="13.51" fill="#0d57a1"/>
<rect x="1152.91" y="268.8" width="34.39" height="13.51" fill="#9ecae1"/>
<rect x="1186.7" y="268.8" width="34.39" height="13.51" fill="#4292c6"/>
<rect x="1220.49" y="268.8" width="34.39" height="13.51" fill="#5ba3d0"/>
<rect x="1254.28" y="268.8" width="34.39" height="13.51" fill="#08306b"/>
<rect x="1288.07" y="268.8" width="34.39" height="13.51" fill="#c6dbef"/>
<rect x="1321.86" y="268.8" width="34.39" height="13.51" fill="#c6dbef"/>
<rect x="1355.65" y="268.8" width="34.39" height="13.51" fill="#083775"/>
<rect x="1389.44" y="268.8" width="34.39" height="13.51" fill="#4a98c9"/>
<rect x="1423.23" y="268.8" width="34.39" height="13.51" fill="#1c6bb0"/>
<rect x="173" y="281.71" width="34.39" height="13.51" fill="#2878b8"/>
<rect x="206.79" y="281.71" width="34.39" height="13.51" fill="#a0cbe2"/>
<rect x="240.58" y="281.71" width="34.39" height="13.51" fill="#d8e7f5"/>
<rect x="274.37" y="281.71" width="34.39" height="13.51" fill="#f5fafe"/>
<rect x="308.16" y="281.71" width="34.39" height="13.51" fill="#cde0f1"/>
<rect x="341.95" y="281.71" width="34.39" height="13.51" fill="#a8cee4"/>
<rect x="375.74" y="281.71" width="34.39" height="13.51" fill="#a0cbe2"/>
<rect x="409.53" y="281.71" width="34.39" height="13.51" fill="#c8dcf0"/>
<rect x="443.32" y="281.71" width="34.39" height="13.51" fill="#72b2d7"/>
<rect x="477.11" y="281.71" width="34.39" height="13.51" fill="#d8e7f5"/>
<rect x="510.9" y="281.71" width="34.39" height="13.51" fill="#d3e3f3"/>
<rect x="544.69" y="281.71" width="34.39" height="13.51" fill="#e4eff9"/>
<rect x="578.48" y="281.71" width="34.39" height="13.51" fill="#cde0f1"/>
<rect x="612.27" y="281.71" width="34.39" height="13.51" fill="#c8dcf0"/>
<rect x="646.06" y="281.71" width="34.39" height="13.51" fill="#f5fafe"/>
<rect x="679.85" y="281.71" width="34.39" height="13.51" fill="#cde0f1"/>
<rect x="713.64" y="281.71" width="34.39" height="13.51" fill="#d3e3f3"/>
<rect x="747.43" y="281.71" width="34.39" height="13.51" fill="#e4eff9"/>
<rect x="781.22" y="281.71" width="34.39" height="13.51" fill="#d3e3f3"/>
<rect x="815.01" y="281.71" width="34.39" height="13.51" fill="#deebf7"/>
<rect x="848.8" y="281.71" width="34.39" height="13.51" fill="#e4eff9"/>
<rect x="882.59" y="281.71" width="34.39" height="13.51" fill="#d3e3f3"/>
<rect x="916.38" y="281.71" width="34.39" height="13.51" fill="#d8e7f5"/>
<rect x="950.17" y="281.71" width="34.39" height="13.51" fill="#d0e1f2"/>
<rect x="983.96" y="281.71" width="34.39" height="13.51" fill="#deebf7"/>
<rect x="1017.75" y="281.71" width="34.39" height="13.51" fill="#d9e8f5"/>
<rect x="1051.54" y="281.71" width="34.39" height="13.51" fill="#c6dbef"/>
<rect x="1085.33" y="281.71" width="34.39" height="13.51" fill="#deebf7"/>
<rect x="1119.12" y="281.71" width="34.39" height="13.51" fill="#deebf7"/>
<rect x="1152.91" y="281.71" width="34.39" height="13.51" fill="#d0e1f2"/>
<rect x="1186.7" y="281.71" width="34.39" height="13.51" fill="#75b4d8"/>
<rect x="1220.49" y="281.71" width="34.39" height="13.51" fill="#deebf7"/>
<rect x="1254.28" y="281.71" width="34.39" height="13.51" fill="#d0e1f2"/>
<rect x="1288.07" y="281.71" width="34.39" height="13.51" fill="#d4e5f4"/>
<rect x="1321.86" y="281.71" width="34.39" height="13.51" fill="#6baed6"/>
<rect x="1355.65" y="281.71" width="34.39" height="13.51" fill="#4292c6"/>
<rect x="1389.44" y="281.71" width="34.39" height="13.51" fill="#e8f1fa"/>
<rect x="1423.23" y="281.71" width="34.39" height="13.51" fill="#bed8ec"/>
<rect x="173" y="294.62" width="34.39" height="13.51" fill="#c8dcf0"/>
<rect x="206.79" y="294.62" width="34.39" height="13.51" fill="#cde0f1"/>
<rect x="240.58" y="294.62" width="34.39" height="13.51" fill="#d8e7f5"/>
<rect x="274.37" y="294.62" width="34.39" height="13.51" fill="#e4eff9"/>
<rect x="308.16" y="294.62" width="34.39" height="13.51" fill="#c0d9ed"/>
<rect x="341.95" y="294.62" width="34.39" height="13.51" fill="#2171b5"/>
<rect x="375.74" y="294.62" width="34.39" height="13.51" fill="#c0d9ed"/>
<rect x="409.53" y="294.62" width="34.39" height="13.51" fill="#c0d9ed"/>
<rect x="443.32" y="294.62" width="34.39" height="13.51" fill="#d3e3f3"/>
<rect x="477.11" y="294.62" width="34.39" height="13.51" fill="#d8e7f5"/>
<rect x="510.9" y="294.62" width="34.39" height="13.51" fill="#d3e3f3"/>
<rect x="544.69" y="294.62" width="34.39" height="13.51" fill="#e4eff9"/>
<rect x="578.48" y="294.62" width="34.39" height="13.51" fill="#c8dcf0"/>
<rect x="612.27" y="294.62" width="34.39" height="13.51" fill="#96c6df"/>
<rect x="646.06" y="294.62" width="34.39" height="13.51" fill="#f5fafe"/>
<rect x="679.85" y="294.62" width="34.39" height="13.51" fill="#e4eff9"/>
<rect x="713.64" y="294.62" width="34.39" height="13.51" fill="#c0d9ed"/>
<rect x="747.43" y="294.62" width="34.39" height="13.51" fill="#eaf3fb"/>
<rect x="781.22" y="294.62" width="34.39" height="13.51" fill="#cde0f1"/>
<rect x="815.01" y="294.62" width="34.39" height="13.51" fill="#deebf7"/>
<rect x="848.8" y="294.62" width="34.39" height="13.51" fill="#e4eff9"/>
<rect x="882.59" y="294.62" width="34.39" height="13.51" fill="#d3e3f3"/>
<rect x="916.38" y="294.62" width="34.39" height="13.51" fill="#e8f1fa"/>
<rect x="950.17" y="294.62" width="34.39" height="13.51" fill="#e8f1fa"/>
<rect x="983.96" y="294.62" width="34.39" height="13.51" fill="#f4f9fe"/>
<rect x="1017.75" y="294.62" width="34.39" height="13.51" fill="#f4f9fe"/>
<rect x="1051.54" y="294.62" width="34.39" height="13.51" fill="#f4f9fe"/>
<rect x="1085.33" y="294.62" width="34.39" height="13.51" fill="#e8f1fa"/>
<rect x="1119.12" y="294.62" width="34.39" height="13.51" fill="#f4f9fe"/>
<rect x="1152.91" y="294.62" width="34.39" height="13.51" fill="#edf5fc"/>
<rect x="1186.7" y="294.62" width="34.39" height="13.51" fill="#e3eef9"/>
<rect x="1220.49" y="294.62" width="34.39" height="13.51" fill="#deebf7"/>
<rect x="1254.28" y="294.62" width="34.39" height="13.51" fill="#d9e8f5"/>
<rect x="1288.07" y="294.62" width="34.39" height="13.51" fill="#2171b5"/>
<rect x="1321.86" y="294.62" width="34.39" height="13.51" fill="#cbdef1"/>
<rect x="1355.65" y="294.62" width="34.39" height="13.51" fill="#edf5fc"/>
<rect x="1389.44" y="294.62" width="34.39" height="13.51" fill="#e3eef9"/>
<rect x="1423.23" y="294.62" width="34.39" height="13.51" fill="#eff6fc"/>
<rect x="173" y="307.53" width="34.39" height="13.51" fill="#d3e3f3"/>
<rect x="206.79" y="307.53" width="34.39" height="13.51" fill="#f5fafe"/>
<rect x="240.58" y="307.53" width="34.39" height="13.51" fill="#d3e3f3"/>
<rect x="274.37" y="307.53" width="34.39" height="13.51" fill="#a0cbe2"/>
<rect x="308.16" y="307.53" width="34.39" height="13.51" fill="#deebf7"/>
<rect x="341.95" y="307.53" width="34.39" height="13.51" fill="#69add5"/>
<rect x="375.74" y="307.53" width="34.39" height="13.51" fill="#d8e7f5"/>
<rect x="409.53" y="307.53" width="34.39" height="13.51" fill="#d8e7f5"/>
<rect x="443.32" y="307.53" width="34.39" height="13.51" fill="#d8e7f5"/>
<rect x="477.11" y="307.53" width="34.39" height="13.51" fill="#deebf7"/>
<rect x="510.9" y="307.53" width="34.39" height="13.51" fill="#cde0f1"/>
<rect x="544.69" y="307.53" width="34.39" height="13.51" fill="#e4eff9"/>
<rect x="578.48" y="307.53" width="34.39" height="13.51" fill="#c8dcf0"/>
<rect x="612.27" y="307.53" width="34.39" height="13.51" fill="#a0cbe2"/>
<rect x="646.06" y="307.53" width="34.39" height="13.51" fill="#f5fafe"/>
<rect x="679.85" y="307.53" width="34.39" height="13.51" fill="#e4eff9"/>
<rect x="713.64" y="307.53" width="34.39" height="13.51" fill="#deebf7"/>
<rect x="747.43" y="307.53" width="34.39" height="13.51" fill="#eaf3fb"/>
<rect x="781.22" y="307.53" width="34.39" height="13.51" fill="#cde0f1"/>
<rect x="815.01" y="307.53" width="34.39" height="13.51" fill="#deebf7"/>
<rect x="848.8" y="307.53" width="34.39" height="13.51" fill="#e4eff9"/>
<rect x="882.59" y="307.53" width="34.39" height="13.51" fill="#e4eff9"/>
<rect x="916.38" y="307.53" width="34.39" height="13.51" fill="#e8f1fa"/>
<rect x="950.17" y="307.53" width="34.39" height="13.51" fill="#e8f1fa"/>
<rect x="983.96" y="307.53" width="34.39" height="13.51" fill="#f4f9fe"/>
<rect x="1017.75" y="307.53" width="34.39" height="13.51" fill="#e8f1fa"/>
<rect x="1051.54" y="307.53" width="34.39" height="13.51" fill="#f4f9fe"/>
<rect x="1085.33" y="307.53" width="34.39" height="13.51" fill="#e8f1fa"/>
<rect x="1119.12" y="307.53" width="34.39" height="13.51" fill="#f4f9fe"/>
<rect x="1152.91" y="307.53" width="34.39" height="13.51" fill="#edf5fc"/>
<rect x="1186.7" y="307.53" width="34.39" height="13.51" fill="#d0e1f2"/>
<rect x="1220.49" y="307.53" width="34.39" height="13.51" fill="#b6d4e9"/>
<rect x="1254.28" y="307.53" width="34.39" height="13.51" fill="#e8f1fa"/>
<rect x="1288.07" y="307.53" width="34.39" height="13.51" fill="#e8f1fa"/>
<rect x="1321.86" y="307.53" width="34.39" height="13.51" fill="#cbdef1"/>
<rect x="1355.65" y="307.53" width="34.39" height="13.51" fill="#edf5fc"/>
<rect x="1389.44" y="307.53" width="34.39" height="13.51" fill="#e8f1fa"/>
<rect x="1423.23" y="307.53" width="34.39" height="13.51" fill="#edf5fc"/>
<rect x="173" y="320.44" width="34.39" height="13.51" fill="#e4eff9"/>
<rect x="206.79" y="320.44" width="34.39" height="13.51" fill="#f5fafe"/>
<rect x="240.58" y="320.44" width="34.39" height="13.51" fill="#d3e3f3"/>
<rect x="274.37" y="320.44" width="34.39" height="13.51" fill="#c0d9ed"/>
<rect x="308.16" y="320.44" width="34.39" height="13.51" fill="#deebf7"/>
<rect x="341.95" y="320.44" width="34.39" height="13.51" fill="#cde0f1"/>
<rect x="375.74" y="320.44" width="34.39" height="13.51" fill="#cde0f1"/>
<rect x="409.53" y="320.44" width="34.39" height="13.51" fill="#deebf7"/>
<rect x="443.32" y="320.44" width="34.39" height="13.51" fill="#d8e7f5"/>
<rect x="477.11" y="320.44" width="34.39" height="13.51" fill="#e4eff9"/>
<rect x="510.9" y="320.44" width="34.39" height="13.51" fill="#b8d5ea"/>
<rect x="544.69" y="320.44" width="34.39" height="13.51" fill="#e4eff9"/>
<rect x="578.48" y="320.44" width="34.39" height="13.51" fill="#c8dcf0"/>
<rect x="612.27" y="320.44" width="34.39" height="13.51" fill="#cde0f1"/>
<rect x="646.06" y="320.44" width="34.39" height="13.51" fill="#c8dcf0"/>
<rect x="679.85" y="320.44" width="34.39" height="13.51" fill="#e4eff9"/>
<rect x="713.64" y="320.44" width="34.39" height="13.51" fill="#c0d9ed"/>
<rect x="747.43" y="320.44" width="34.39" height="13.51" fill="#e4eff9"/>
<rect x="781.22" y="320.44" width="34.39" height="13.51" fill="#deebf7"/>
<rect x="815.01" y="320.44" width="34.39" height="13.51" fill="#e4eff9"/>
<rect x="848.8" y="320.44" width="34.39" height="13.51" fill="#c8dcf0"/>
<rect x="882.59" y="320.44" width="34.39" height="13.51" fill="#deebf7"/>
<rect x="916.38" y="320.44" width="34.39" height="13.51" fill="#e8f1fa"/>
<rect x="950.17" y="320.44" width="34.39" height="13.51" fill="#c6dbef"/>
<rect x="983.96" y="320.44" width="34.39" height="13.51" fill="#f4f9fe"/>
<rect x="1017.75" y="320.44" width="34.39" height="13.51" fill="#f4f9fe"/>
<rect x="1051.54" y="320.44" width="34.39" height="13.51" fill="#f4f9fe"/>
<rect x="1085.33" y="320.44" width="34.39" height="13.51" fill="#deebf7"/>
<rect x="1119.12" y="320.44" width="34.39" height="13.51" fill="#f4f9fe"/>
<rect x="1152.91" y="320.44" width="34.39" height="13.51" fill="#edf5fc"/>
<rect x="1186.7" y="320.44" width="34.39" height="13.51" fill="#5ba3d0"/>
<rect x="1220.49" y="320.44" width="34.39" height="13.51" fill="#f2f8fd"/>
<rect x="1254.28" y="320.44" width="34.39" height="13.51" fill="#bed8ec"/>
<rect x="1288.07" y="320.44" width="34.39" height="13.51" fill="#edf5fc"/>
<rect x="1321.86" y="320.44" width="34.39" height="13.51" fill="#d4e5f4"/>
<rect x="1355.65" y="320.44" width="34.39" height="13.51" fill="#e3eef9"/>
<rect x="1389.44" y="320.44" width="34.39" height="13.51" fill="#deebf7"/>
<rect x="1423.23" y="320.44" width="34.39" height="13.51" fill="#f4f9fe"/>
<rect x="173" y="333.35" width="34.39" height="13.51" fill="#c8dcf0"/>
<rect x="206.79" y="333.35" width="34.39" height="13.51" fill="#a0cbe2"/>
<rect x="240.58" y="333.35" width="34.39" height="13.51" fill="#08306b"/>
<rect x="274.37" y="333.35" width="34.39" height="13.51" fill="#f2f8fd"/>
<rect x="308.16" y="333.35" width="34.39" height="13.51" fill="#deebf7"/>
<rect x="341.95" y="333.35" width="34.39" height="13.51" fill="#d8e7f5"/>
<rect x="375.74" y="333.35" width="34.39" height="13.51" fill="#deebf7"/>
<rect x="409.53" y="333.35" width="34.39" height="13.51" fill="#d3e3f3"/>
<rect x="443.32" y="333.35" width="34.39" height="13.51" fill="#d8e7f5"/>
<rect x="477.11" y="333.35" width="34.39" height="13.51" fill="#eaf3fb"/>
<rect x="510.9" y="333.35" width="34.39" height="13.51" fill="#e4eff9"/>
<rect x="544.69" y="333.35" width="34.39" height="13.51" fill="#e4eff9"/>
<rect x="578.48" y="333.35" width="34.39" height="13.51" fill="#a0cbe2"/>
<rect x="612.27" y="333.35" width="34.39" height="13.51" fill="#b0d2e7"/>
<rect x="646.06" y="333.35" width="34.39" height="13.51" fill="#cde0f1"/>
<rect x="679.85" y="333.35" width="34.39" height="13.51" fill="#e4eff9"/>
<rect x="713.64" y="333.35" width="34.39" height="13.51" fill="#eaf3fb"/>
<rect x="747.43" y="333.35" width="34.39" height="13.51" fill="#d3e3f3"/>
<rect x="781.22" y="333.35" width="34.39" height="13.51" fill="#deebf7"/>
<rect x="815.01" y="333.35" width="34.39" height="13.51" fill="#e4eff9"/>
<rect x="848.8" y="333.35" width="34.39" height="13.51" fill="#d8e7f5"/>
<rect x="882.59" y="333.35" width="34.39" height="13.51" fill="#96c6df"/>
<rect x="916.38" y="333.35" width="34.39" height="13.51" fill="#deebf7"/>
<rect x="950.17" y="333.35" width="34.39" height="13.51" fill="#c6dbef"/>
<rect x="983.96" y="333.35" width="34.39" height="13.51" fill="#f4f9fe"/>
<rect x="1017.75" y="333.35" width="34.39" height="13.51" fill="#f4f9fe"/>
<rect x="1051.54" y="333.35" width="34.39" height="13.51" fill="#f4f9fe"/>
<rect x="1085.33" y="333.35" width="34.39" height="13.51" fill="#e8f1fa"/>
<rect x="1119.12" y="333.35" width="34.39" height="13.51" fill="#f4f9fe"/>
<rect x="1152.91" y="333.35" width="34.39" height="13.51" fill="#edf5fc"/>
<rect x="1186.7" y="333.35" width="34.39" height="13.51" fill="#e8f1fa"/>
<rect x="1220.49" y="333.35" width="34.39" height="13.51" fill="#edf5fc"/>
<rect x="1254.28" y="333.35" width="34.39" height="13.51" fill="#e8f1fa"/>
<rect x="1288.07" y="333.35" width="34.39" height="13.51" fill="#e8f1fa"/>
<rect x="1321.86" y="333.35" width="34.39" height="13.51" fill="#b6d4e9"/>
<rect x="1355.65" y="333.35" width="34.39" height="13.51" fill="#d0e1f2"/>
<rect x="1389.44" y="333.35" width="34.39" height="13.51" fill="#edf5fc"/>
<rect x="1423.23" y="333.35" width="34.39" height="13.51" fill="#f4f9fe"/>
<rect x="173" y="346.26" width="34.39" height="13.51" fill="#eaf3fb"/>
<rect x="206.79" y="346.26" width="34.39" height="13.51" fill="#f2f8fd"/>
<rect x="240.58" y="346.26" width="34.39" height="13.51" fill="#deebf7"/>
<rect x="274.37" y="346.26" width="34.39" height="13.51" fill="#f2f8fd"/>
<rect x="308.16" y="346.26" width="34.39" height="13.51" fill="#e4eff9"/>
<rect x="341.95" y="346.26" width="34.39" height="13.51" fill="#d8e7f5"/>
<rect x="375.74" y="346.26" width="34.39" height="13.51" fill="#eaf3fb"/>
<rect x="409.53" y="346.26" width="34.39" height="13.51" fill="#e4eff9"/>
<rect x="443.32" y="346.26" width="34.39" height="13.51" fill="#d8e7f5"/>
<rect x="477.11" y="346.26" width="34.39" height="13.51" fill="#deebf7"/>
<rect x="510.9" y="346.26" width="34.39" height="13.51" fill="#56a0ce"/>
<rect x="544.69" y="346.26" width="34.39" height="13.51" fill="#96c6df"/>
<rect x="578.48" y="346.26" width="34.39" height="13.51" fill="#83bbdb"/>
<rect x="612.27" y="346.26" width="34.39" height="13.51" fill="#d8e7f5"/>
<rect x="646.06" y="346.26" width="34.39" height="13.51" fill="#f5fafe"/>
<rect x="679.85" y="346.26" width="34.39" height="13.51" fill="#d8e7f5"/>
<rect x="713.64" y="346.26" width="34.39" height="13.51" fill="#e4eff9"/>
<rect x="747.43" y="346.26" width="34.39" height="13.51" fill="#c8dcf0"/>
<rect x="781.22" y="346.26" width="34.39" height="13.51" fill="#deebf7"/>
<rect x="815.01" y="346.26" width="34.39" height="13.51" fill="#deebf7"/>
<rect x="848.8" y="346.26" width="34.39" height="13.51" fill="#a8cee4"/>
<rect x="882.59" y="346.26" width="34.39" height="13.51" fill="#deebf7"/>
<rect x="916.38" y="346.26" width="34.39" height="13.51" fill="#c0d9ed"/>
<rect x="950.17" y="346.26" width="34.39" height="13.51" fill="#e8f1fa"/>
<rect x="983.96" y="346.26" width="34.39" height="13.51" fill="#f4f9fe"/>
<rect x="1017.75" y="346.26" width="34.39" height="13.51" fill="#edf5fc"/>
<rect x="1051.54" y="346.26" width="34.39" height="13.51" fill="#d9e8f5"/>
<rect x="1085.33" y="346.26" width="34.39" height="13.51" fill="#d4e5f4"/>
<rect x="1119.12" y="346.26" width="34.39" height="13.51" fill="#f4f9fe"/>
<rect x="1152.91" y="346.26" width="34.39" height="13.51" fill="#e8f1fa"/>
<rect x="1186.7" y="346.26" width="34.39" height="13.51" fill="#e3eef9"/>
<rect x="1220.49" y="346.26" width="34.39" height="13.51" fill="#e8f1fa"/>
<rect x="1254.28" y="346.26" width="34.39" height="13.51" fill="#e8f1fa"/>
<rect x="1288.07" y="346.26" width="34.39" height="13.51" fill="#eff6fc"/>
<rect x="1321.86" y="346.26" width="34.39" height="13.51" fill="#cbdef1"/>
<rect x="1355.65" y="346.26" width="34.39" height="13.51" fill="#d9e8f5"/>
<rect x="1389.44" y="346.26" width="34.39" height="13.51" fill="#f2f8fd"/>
<rect x="1423.23" y="346.26" width="34.39" height="13.51" fill="#f4f9fe"/>
<rect x="173" y="359.17" width="34.39" height="13.51" fill="#eaf3fb"/>
<rect x="206.79" y="359.17" width="34.39" height="13.51" fill="#f2f8fd"/>
<rect x="240.58" y="359.17" width="34.39" height="13.51" fill="#c0d9ed"/>
<rect x="274.37" y="359.17" width="34.39" height="13.51" fill="#f2f8fd"/>
<rect x="308.16" y="359.17" width="34.39" height="13.51" fill="#deebf7"/>
<rect x="341.95" y="359.17" width="34.39" height="13.51" fill="#deebf7"/>
<rect x="375.74" y="359.17" width="34.39" height="13.51" fill="#e4eff9"/>
<rect x="409.53" y="359.17" width="34.39" height="13.51" fill="#e4eff9"/>
<rect x="443.32" y="359.17" width="34.39" height="13.51" fill="#a0cbe2"/>
<rect x="477.11" y="359.17" width="34.39" height="13.51" fill="#f2f8fd"/>
<rect x="510.9" y="359.17" width="34.39" height="13.51" fill="#e4eff9"/>
<rect x="544.69" y="359.17" width="34.39" height="13.51" fill="#d3e3f3"/>
<rect x="578.48" y="359.17" width="34.39" height="13.51" fill="#d3e3f3"/>
<rect x="612.27" y="359.17" width="34.39" height="13.51" fill="#c0d9ed"/>
<rect x="646.06" y="359.17" width="34.39" height="13.51" fill="#c8dcf0"/>
<rect x="679.85" y="359.17" width="34.39" height="13.51" fill="#deebf7"/>
<rect x="713.64" y="359.17" width="34.39" height="13.51" fill="#e4eff9"/>
<rect x="747.43" y="359.17" width="34.39" height="13.51" fill="#c8dcf0"/>
<rect x="781.22" y="359.17" width="34.39" height="13.51" fill="#d8e7f5"/>
<rect x="815.01" y="359.17" width="34.39" height="13.51" fill="#d8e7f5"/>
<rect x="848.8" y="359.17" width="34.39" height="13.51" fill="#deebf7"/>
<rect x="882.59" y="359.17" width="34.39" height="13.51" fill="#d8e7f5"/>
<rect x="916.38" y="359.17" width="34.39" height="13.51" fill="#deebf7"/>
<rect x="950.17" y="359.17" width="34.39" height="13.51" fill="#e8f1fa"/>
<rect x="983.96" y="359.17" width="34.39" height="13.51" fill="#e8f1fa"/>
<rect x="1017.75" y="359.17" width="34.39" height="13.51" fill="#f4f9fe"/>
<rect x="1051.54" y="359.17" width="34.39" height="13.51" fill="#9ecae1"/>
<rect x="1085.33" y="359.17" width="34.39" height="13.51" fill="#cbdef1"/>
<rect x="1119.12" y="359.17" width="34.39" height="13.51" fill="#f4f9fe"/>
<rect x="1152.91" y="359.17" width="34.39" height="13.51" fill="#d0e1f2"/>
<rect x="1186.7" y="359.17" width="34.39" height="13.51" fill="#e3eef9"/>
<rect x="1220.49" y="359.17" width="34.39" height="13.51" fill="#e8f1fa"/>
<rect x="1254.28" y="359.17" width="34.39" height="13.51" fill="#e8f1fa"/>
<rect x="1288.07" y="359.17" width="34.39" height="13.51" fill="#deebf7"/>
<rect x="1321.86" y="359.17" width="34.39" height="13.51" fill="#d9e8f5"/>
<rect x="1355.65" y="359.17" width="34.39" height="13.51" fill="#e8f1fa"/>
<rect x="1389.44" y="359.17" width="34.39" height="13.51" fill="#e8f1fa"/>
<rect x="1423.23" y="359.17" width="34.39" height="13.51" fill="#edf5fc"/>
<rect x="173" y="372.08" width="34.39" height="13.51" fill="#56a0ce"/>
<rect x="206.79" y="372.08" width="34.39" height="13.51" fill="#f2f8fd"/>
<rect x="240.58" y="372.08" width="34.39" height="13.51" fill="#e4eff9"/>
<rect x="274.37" y="372.08" width="34.39" height="13.51" fill="#f2f8fd"/>
<rect x="308.16" y="372.08" width="34.39" height="13.51" fill="#deebf7"/>
<rect x="341.95" y="372.08" width="34.39" height="13.51" fill="#e4eff9"/>
<rect x="375.74" y="372.08" width="34.39" height="13.51" fill="#e4eff9"/>
<rect x="409.53" y="372.08" width="34.39" height="13.51" fill="#e4eff9"/>
<rect x="443.32" y="372.08" width="34.39" height="13.51" fill="#eaf3fb"/>
<rect x="477.11" y="372.08" width="34.39" height="13.51" fill="#deebf7"/>
<rect x="510.9" y="372.08" width="34.39" height="13.51" fill="#d8e7f5"/>
<rect x="544.69" y="372.08" width="34.39" height="13.51" fill="#d8e7f5"/>
<rect x="578.48" y="372.08" width="34.39" height="13.51" fill="#7ab6d9"/>
<rect x="612.27" y="372.08" width="34.39" height="13.51" fill="#e4eff9"/>
<rect x="646.06" y="372.08" width="34.39" height="13.51" fill="#cde0f1"/>
<rect x="679.85" y="372.08" width="34.39" height="13.51" fill="#d3e3f3"/>
<rect x="713.64" y="372.08" width="34.39" height="13.51" fill="#e4eff9"/>
<rect x="747.43" y="372.08" width="34.39" height="13.51" fill="#c8dcf0"/>
<rect x="781.22" y="372.08" width="34.39" height="13.51" fill="#deebf7"/>
<rect x="815.01" y="372.08" width="34.39" height="13.51" fill="#0d57a1"/>
<rect x="848.8" y="372.08" width="34.39" height="13.51" fill="#deebf7"/>
<rect x="882.59" y="372.08" width="34.39" height="13.51" fill="#deebf7"/>
<rect x="916.38" y="372.08" width="34.39" height="13.51" fill="#b8d5ea"/>
<rect x="950.17" y="372.08" width="34.39" height="13.51" fill="#eff6fc"/>
<rect x="983.96" y="372.08" width="34.39" height="13.51" fill="#f4f9fe"/>
<rect x="1017.75" y="372.08" width="34.39" height="13.51" fill="#f4f9fe"/>
<rect x="1051.54" y="372.08" width="34.39" height="13.51" fill="#f4f9fe"/>
<rect x="1085.33" y="372.08" width="34.39" height="13.51" fill="#cbdef1"/>
<rect x="1119.12" y="372.08" width="34.39" height="13.51" fill="#f4f9fe"/>
<rect x="1152.91" y="372.08" width="34.39" height="13.51" fill="#d9e8f5"/>
<rect x="1186.7" y="372.08" width="34.39" height="13.51" fill="#e8f1fa"/>
<rect x="1220.49" y="372.08" width="34.39" height="13.51" fill="#edf5fc"/>
<rect x="1254.28" y="372.08" width="34.39" height="13.51" fill="#94c4df"/>
<rect x="1288.07" y="372.08" width="34.39" height="13.51" fill="#bed8ec"/>
<rect x="1321.86" y="372.08" width="34.39" height="13.51" fill="#d4e5f4"/>
<rect x="1355.65" y="372.08" width="34.39" height="13.51" fill="#f2f8fd"/>
<rect x="1389.44" y="372.08" width="34.39" height="13.51" fill="#e8f1fa"/>
<rect x="1423.23" y="372.08" width="34.39" height="13.51" fill="#f4f9fe"/>
<rect x="173" y="384.99" width="34.39" height="13.51" fill="#e4eff9"/>
<rect x="206.79" y="384.99" width="34.39" height="13.51" fill="#f2f8fd"/>
<rect x="240.58" y="384.99" width="34.39" height="13.51" fill="#eaf3fb"/>
<rect x="274.37" y="384.99" width="34.39" height="13.51" fill="#cde0f1"/>
<rect x="308.16" y="384.99" width="34.39" height="13.51" fill="#f5fafe"/>
<rect x="341.95" y="384.99" width="34.39" height="13.51" fill="#c0d9ed"/>
<rect x="375.74" y="384.99" width="34.39" height="13.51" fill="#eaf3fb"/>
<rect x="409.53" y="384.99" width="34.39" height="13.51" fill="#d3e3f3"/>
<rect x="443.32" y="384.99" width="34.39" height="13.51" fill="#8dc1dd"/>
<rect x="477.11" y="384.99" width="34.39" height="13.51" fill="#deebf7"/>
<rect x="510.9" y="384.99" width="34.39" height="13.51" fill="#d8e7f5"/>
<rect x="544.69" y="384.99" width="34.39" height="13.51" fill="#d8e7f5"/>
<rect x="578.48" y="384.99" width="34.39" height="13.51" fill="#deebf7"/>
<rect x="612.27" y="384.99" width="34.39" height="13.51" fill="#e4eff9"/>
<rect x="646.06" y="384.99" width="34.39" height="13.51" fill="#83bbdb"/>
<rect x="679.85" y="384.99" width="34.39" height="13.51" fill="#eaf3fb"/>
<rect x="713.64" y="384.99" width="34.39" height="13.51" fill="#e4eff9"/>
<rect x="747.43" y="384.99" width="34.39" height="13.51" fill="#a0cbe2"/>
<rect x="781.22" y="384.99" width="34.39" height="13.51" fill="#deebf7"/>
<rect x="815.01" y="384.99" width="34.39" height="13.51" fill="#96c6df"/>
<rect x="848.8" y="384.99" width="34.39" height="13.51" fill="#e4eff9"/>
<rect x="882.59" y="384.99" width="34.39" height="13.51" fill="#eaf3fb"/>
<rect x="916.38" y="384.99" width="34.39" height="13.51" fill="#96c6df"/>
<rect x="950.17" y="384.99" width="34.39" height="13.51" fill="#edf5fc"/>
<rect x="983.96" y="384.99" width="34.39" height="13.51" fill="#f4f9fe"/>
<rect x="1017.75" y="384.99" width="34.39" height="13.51" fill="#edf5fc"/>
<rect x="1051.54" y="384.99" width="34.39" height="13.51" fill="#f4f9fe"/>
<rect x="1085.33" y="384.99" width="34.39" height="13.51" fill="#d4e5f4"/>
<rect x="1119.12" y="384.99" width="34.39" height="13.51" fill="#f4f9fe"/>
<rect x="1152.91" y="384.99" width="34.39" height="13.51" fill="#e3eef9"/>
<rect x="1186.7" y="384.99" width="34.39" height="13.51" fill="#edf5fc"/>
<rect x="1220.49" y="384.99" width="34.39" height="13.51" fill="#edf5fc"/>
<rect x="1254.28" y="384.99" width="34.39" height="13.51" fill="#e8f1fa"/>
<rect x="1288.07" y="384.99" width="34.39" height="13.51" fill="#e8f1fa"/>
<rect x="1321.86" y="384.99" width="34.39" height="13.51" fill="#edf5fc"/>
<rect x="1355.65" y="384.99" width="34.39" height="13.51" fill="#edf5fc"/>
<rect x="1389.44" y="384.99" width="34.39" height="13.51" fill="#e8f1fa"/>
<rect x="1423.23" y="384.99" width="34.39" height="13.51" fill="#f4f9fe"/>
<rect x="173" y="397.9" width="34.39" height="13.51" fill="#d3e3f3"/>
<rect x="206.79" y="397.9" width="34.39" height="13.51" fill="#f2f8fd"/>
<rect x="240.58" y="397.9" width="34.39" height="13.51" fill="#eaf3fb"/>
<rect x="274.37" y="397.9" width="34.39" height="13.51" fill="#c0d9ed"/>
<rect x="308.16" y="397.9" width="34.39" height="13.51" fill="#e4eff9"/>
<rect x="341.95" y="397.9" width="34.39" height="13.51" fill="#deebf7"/>
<rect x="375.74" y="397.9" width="34.39" height="13.51" fill="#deebf7"/>
<rect x="409.53" y="397.9" width="34.39" height="13.51" fill="#e4eff9"/>
<rect x="443.32" y="397.9" width="34.39" height="13.51" fill="#f2f8fd"/>
<rect x="477.11" y="397.9" width="34.39" height="13.51" fill="#f2f8fd"/>
<rect x="510.9" y="397.9" width="34.39" height="13.51" fill="#c0d9ed"/>
<rect x="544.69" y="397.9" width="34.39" height="13.51" fill="#eaf3fb"/>
<rect x="578.48" y="397.9" width="34.39" height="13.51" fill="#cde0f1"/>
<rect x="612.27" y="397.9" width="34.39" height="13.51" fill="#deebf7"/>
<rect x="646.06" y="397.9" width="34.39" height="13.51" fill="#d3e3f3"/>
<rect x="679.85" y="397.9" width="34.39" height="13.51" fill="#d3e3f3"/>
<rect x="713.64" y="397.9" width="34.39" height="13.51" fill="#eaf3fb"/>
<rect x="747.43" y="397.9" width="34.39" height="13.51" fill="#d8e7f5"/>
<rect x="781.22" y="397.9" width="34.39" height="13.51" fill="#d8e7f5"/>
<rect x="815.01" y="397.9" width="34.39" height="13.51" fill="#d3e3f3"/>
<rect x="848.8" y="397.9" width="34.39" height="13.51" fill="#d8e7f5"/>
<rect x="882.59" y="397.9" width="34.39" height="13.51" fill="#d8e7f5"/>
<rect x="916.38" y="397.9" width="34.39" height="13.51" fill="#deebf7"/>
<rect x="950.17" y="397.9" width="34.39" height="13.51" fill="#e8f1fa"/>
<rect x="983.96" y="397.9" width="34.39" height="13.51" fill="#f4f9fe"/>
<rect x="1017.75" y="397.9" width="34.39" height="13.51" fill="#6baed6"/>
<rect x="1051.54" y="397.9" width="34.39" height="13.51" fill="#e3eef9"/>
<rect x="1085.33" y="397.9" width="34.39" height="13.51" fill="#d9e8f5"/>
<rect x="1119.12" y="397.9" width="34.39" height="13.51" fill="#f4f9fe"/>
<rect x="1152.91" y="397.9" width="34.39" height="13.51" fill="#c6dbef"/>
<rect x="1186.7" y="397.9" width="34.39" height="13.51" fill="#f2f8fd"/>
<rect x="1220.49" y="397.9" width="34.39" height="13.51" fill="#f2f8fd"/>
<rect x="1254.28" y="397.9" width="34.39" height="13.51" fill="#edf5fc"/>
<rect x="1288.07" y="397.9" width="34.39" height="13.51" fill="#edf5fc"/>
<rect x="1321.86" y="397.9" width="34.39" height="13.51" fill="#f2f8fd"/>
<rect x="1355.65" y="397.9" width="34.39" height="13.51" fill="#edf5fc"/>
<rect x="1389.44" y="397.9" width="34.39" height="13.51" fill="#edf5fc"/>
<rect x="1423.23" y="397.9" width="34.39" height="13.51" fill="#f4f9fe"/>
<rect x="173" y="410.81" width="34.39" height="13.51" fill="#eaf3fb"/>
<rect x="206.79" y="410.81" width="34.39" height="13.51" fill="#f2f8fd"/>
<rect x="240.58" y="410.81" width="34.39" height="13.51" fill="#eaf3fb"/>
<rect x="274.37" y="410.81" width="34.39" height="13.51" fill="#f2f8fd"/>
<rect x="308.16" y="410.81" width="34.39" height="13.51" fill="#e4eff9"/>
<rect x="341.95" y="410.81" width="34.39" height="13.51" fill="#deebf7"/>
<rect x="375.74" y="410.81" width="34.39" height="13.51" fill="#e4eff9"/>
<rect x="409.53" y="410.81" width="34.39" height="13.51" fill="#deebf7"/>
<rect x="443.32" y="410.81" width="34.39" height="13.51" fill="#f2f8fd"/>
<rect x="477.11" y="410.81" width="34.39" height="13.51" fill="#f2f8fd"/>
<rect x="510.9" y="410.81" width="34.39" height="13.51" fill="#e4eff9"/>
<rect x="544.69" y="410.81" width="34.39" height="13.51" fill="#96c6df"/>
<rect x="578.48" y="410.81" width="34.39" height="13.51" fill="#d3e3f3"/>
<rect x="612.27" y="410.81" width="34.39" height="13.51" fill="#b8d5ea"/>
<rect x="646.06" y="410.81" width="34.39" height="13.51" fill="#cde0f1"/>
<rect x="679.85" y="410.81" width="34.39" height="13.51" fill="#deebf7"/>
<rect x="713.64" y="410.81" width="34.39" height="13.51" fill="#08306b"/>
<rect x="747.43" y="410.81" width="34.39" height="13.51" fill="#a8cee4"/>
<rect x="781.22" y="410.81" width="34.39" height="13.51" fill="#deebf7"/>
<rect x="815.01" y="410.81" width="34.39" height="13.51" fill="#eaf3fb"/>
<rect x="848.8" y="410.81" width="34.39" height="13.51" fill="#c0d9ed"/>
<rect x="882.59" y="410.81" width="34.39" height="13.51" fill="#c8dcf0"/>
<rect x="916.38" y="410.81" width="34.39" height="13.51" fill="#d8e7f5"/>
<rect x="950.17" y="410.81" width="34.39" height="13.51" fill="#d9e8f5"/>
<rect x="983.96" y="410.81" width="34.39" height="13.51" fill="#f4f9fe"/>
<rect x="1017.75" y="410.81" width="34.39" height="13.51" fill="#f4f9fe"/>
<rect x="1051.54" y="410.81" width="34.39" height="13.51" fill="#f4f9fe"/>
<rect x="1085.33" y="410.81" width="34.39" height="13.51" fill="#e8f1fa"/>
<rect x="1119.12" y="410.81" width="34.39" height="13.51" fill="#f4f9fe"/>
<rect x="1152.91" y="410.81" width="34.39" height="13.51" fill="#e3eef9"/>
<rect x="1186.7" y="410.81" width="34.39" height="13.51" fill="#deebf7"/>
<rect x="1220.49" y="410.81" width="34.39" height="13.51" fill="#deebf7"/>
<rect x="1254.28" y="410.81" width="34.39" height="13.51" fill="#f2f8fd"/>
<rect x="1288.07" y="410.81" width="34.39" height="13.51" fill="#f2f8fd"/>
<rect x="1321.86" y="410.81" width="34.39" height="13.51" fill="#f2f8fd"/>
<rect x="1355.65" y="410.81" width="34.39" height="13.51" fill="#e8f1fa"/>
<rect x="1389.44" y="410.81" width="34.39" height="13.51" fill="#e3eef9"/>
<rect x="1423.23" y="410.81" width="34.39" height="13.51" fill="#f4f9fe"/>
<rect x="173" y="423.72" width="34.39" height="13.51" fill="#f2f8fd"/>
<rect x="206.79" y="423.72" width="34.39" height="13.51" fill="#f2f8fd"/>
<rect x="240.58" y="423.72" width="34.39" height="13.51" fill="#eaf3fb"/>
<rect x="274.37" y="423.72" width="34.39" height="13.51" fill="#f2f8fd"/>
<rect x="308.16" y="423.72" width="34.39" height="13.51" fill="#deebf7"/>
<rect x="341.95" y="423.72" width="34.39" height="13.51" fill="#deebf7"/>
<rect x="375.74" y="423.72" width="34.39" height="13.51" fill="#c8dcf0"/>
<rect x="409.53" y="423.72" width="34.39" height="13.51" fill="#e4eff9"/>
<rect x="443.32" y="423.72" width="34.39" height="13.51" fill="#f2f8fd"/>
<rect x="477.11" y="423.72" width="34.39" height="13.51" fill="#eaf3fb"/>
<rect x="510.9" y="423.72" width="34.39" height="13.51" fill="#d8e7f5"/>
<rect x="544.69" y="423.72" width="34.39" height="13.51" fill="#e4eff9"/>
<rect x="578.48" y="423.72" width="34.39" height="13.51" fill="#deebf7"/>
<rect x="612.27" y="423.72" width="34.39" height="13.51" fill="#c8dcf0"/>
<rect x="646.06" y="423.72" width="34.39" height="13.51" fill="#b8d5ea"/>
<rect x="679.85" y="423.72" width="34.39" height="13.51" fill="#c0d9ed"/>
<rect x="713.64" y="423.72" width="34.39" height="13.51" fill="#eaf3fb"/>
<rect x="747.43" y="423.72" width="34.39" height="13.51" fill="#deebf7"/>
<rect x="781.22" y="423.72" width="34.39" height="13.51" fill="#cde0f1"/>
<rect x="815.01" y="423.72" width="34.39" height="13.51" fill="#eaf3fb"/>
<rect x="848.8" y="423.72" width="34.39" height="13.51" fill="#deebf7"/>
<rect x="882.59" y="423.72" width="34.39" height="13.51" fill="#a8cee4"/>
<rect x="916.38" y="423.72" width="34.39" height="13.51" fill="#deebf7"/>
<rect x="950.17" y="423.72" width="34.39" height="13.51" fill="#e8f1fa"/>
<rect x="983.96" y="423.72" width="34.39" height="13.51" fill="#f4f9fe"/>
<rect x="1017.75" y="423.72" width="34.39" height="13.51" fill="#f4f9fe"/>
<rect x="1051.54" y="423.72" width="34.39" height="13.51" fill="#f4f9fe"/>
<rect x="1085.33" y="423.72" width="34.39" height="13.51" fill="#e8f1fa"/>
<rect x="1119.12" y="423.72" width="34.39" height="13.51" fill="#f4f9fe"/>
<rect x="1152.91" y="423.72" width="34.39" height="13.51" fill="#edf5fc"/>
<rect x="1186.7" y="423.72" width="34.39" height="13.51" fill="#edf5fc"/>
<rect x="1220.49" y="423.72" width="34.39" height="13.51" fill="#f2f8fd"/>
<rect x="1254.28" y="423.72" width="34.39" height="13.51" fill="#edf5fc"/>
<rect x="1288.07" y="423.72" width="34.39" height="13.51" fill="#edf5fc"/>
<rect x="1321.86" y="423.72" width="34.39" height="13.51" fill="#edf5fc"/>
<rect x="1355.65" y="423.72" width="34.39" height="13.51" fill="#edf5fc"/>
<rect x="1389.44" y="423.72" width="34.39" height="13.51" fill="#d4e5f4"/>
<rect x="1423.23" y="423.72" width="34.39" height="13.51" fill="#f4f9fe"/>
<rect x="173" y="436.63" width="34.39" height="13.51" fill="#e4eff9"/>
<rect x="206.79" y="436.63" width="34.39" height="13.51" fill="#f5fafe"/>
<rect x="240.58" y="436.63" width="34.39" height="13.51" fill="#f5fafe"/>
<rect x="274.37" y="436.63" width="34.39" height="13.51" fill="#d3e3f3"/>
<rect x="308.16" y="436.63" width="34.39" height="13.51" fill="#f5fafe"/>
<rect x="341.95" y="436.63" width="34.39" height="13.51" fill="#f5fafe"/>
<rect x="375.74" y="436.63" width="34.39" height="13.51" fill="#cde0f1"/>
<rect x="409.53" y="436.63" width="34.39" height="13.51" fill="#d8e7f5"/>
<rect x="443.32" y="436.63" width="34.39" height="13.51" fill="#f5fafe"/>
<rect x="477.11" y="436.63" width="34.39" height="13.51" fill="#f5fafe"/>
<rect x="510.9" y="436.63" width="34.39" height="13.51" fill="#f5fafe"/>
<rect x="544.69" y="436.63" width="34.39" height="13.51" fill="#56a0ce"/>
<rect x="578.48" y="436.63" width="34.39" height="13.51" fill="#deebf7"/>
<rect x="612.27" y="436.63" width="34.39" height="13.51" fill="#f5fafe"/>
<rect x="646.06" y="436.63" width="34.39" height="13.51" fill="#f5fafe"/>
<rect x="679.85" y="436.63" width="34.39" height="13.51" fill="#c0d9ed"/>
<rect x="713.64" y="436.63" width="34.39" height="13.51" fill="#eaf3fb"/>
<rect x="747.43" y="436.63" width="34.39" height="13.51" fill="#d8e7f5"/>
<rect x="781.22" y="436.63" width="34.39" height="13.51" fill="#a0cbe2"/>
<rect x="815.01" y="436.63" width="34.39" height="13.51" fill="#eaf3fb"/>
<rect x="848.8" y="436.63" width="34.39" height="13.51" fill="#c0d9ed"/>
<rect x="882.59" y="436.63" width="34.39" height="13.51" fill="#8dc1dd"/>
<rect x="916.38" y="436.63" width="34.39" height="13.51" fill="#d8e7f5"/>
<rect x="950.17" y="436.63" width="34.39" height="13.51" fill="#f0f6fd"/>
<rect x="983.96" y="436.63" width="34.39" height="13.51" fill="#f5fafe"/>
<rect x="1017.75" y="436.63" width="34.39" height="13.51" fill="#f5fafe"/>
<rect x="1051.54" y="436.63" width="34.39" height="13.51" fill="#cbdef1"/>
<rect x="1085.33" y="436.63" width="34.39" height="13.51" fill="#ecf4fb"/>
<rect x="1119.12" y="436.63" width="34.39" height="13.51" fill="#f5fafe"/>
<rect x="1152.91" y="436.63" width="34.39" height="13.51" fill="#f5fafe"/>
<rect x="1186.7" y="436.63" width="34.39" height="13.51" fill="#f5fafe"/>
<rect x="1220.49" y="436.63" width="34.39" height="13.51" fill="#e4eff9"/>
<rect x="1254.28" y="436.63" width="34.39" height="13.51" fill="#f5fafe"/>
<rect x="1288.07" y="436.63" width="34.39" height="13.51" fill="#f5fafe"/>
<rect x="1321.86" y="436.63" width="34.39" height="13.51" fill="#f0f6fd"/>
<rect x="1355.65" y="436.63" width="34.39" height="13.51" fill="#f5fafe"/>
<rect x="1389.44" y="436.63" width="34.39" height="13.51" fill="#cbdef1"/>
<rect x="1423.23" y="436.63" width="34.39" height="13.51" fill="#f5fafe"/>
<rect x="173" y="449.54" width="34.39" height="13.51" fill="#eaf3fb"/>
<rect x="206.79" y="449.54" width="34.39" height="13.51" fill="#f5fafe"/>
<rect x="240.58" y="449.54" width="34.39" height="13.51" fill="#f5fafe"/>
<rect x="274.37" y="449.54" width="34.39" height="13.51" fill="#f5fafe"/>
<rect x="308.16" y="449.54" width="34.39" height="13.51" fill="#f5fafe"/>
<rect x="341.95" y="449.54" width="34.39" height="13.51" fill="#f5fafe"/>
<rect x="375.74" y="449.54" width="34.39" height="13.51" fill="#083d7f"/>
<rect x="409.53" y="449.54" width="34.39" height="13.51" fill="#1764ab"/>
<rect x="443.32" y="449.54" width="34.39" height="13.51" fill="#e4eff9"/>
<rect x="477.11" y="449.54" width="34.39" height="13.51" fill="#f5fafe"/>
<rect x="510.9" y="449.54" width="34.39" height="13.51" fill="#f5fafe"/>
<rect x="544.69" y="449.54" width="34.39" height="13.51" fill="#eaf3fb"/>
<rect x="578.48" y="449.54" width="34.39" height="13.51" fill="#c8dcf0"/>
<rect x="612.27" y="449.54" width="34.39" height="13.51" fill="#d3e3f3"/>
<rect x="646.06" y="449.54" width="34.39" height="13.51" fill="#56a0ce"/>
<rect x="679.85" y="449.54" width="34.39" height="13.51" fill="#c0d9ed"/>
<rect x="713.64" y="449.54" width="34.39" height="13.51" fill="#e4eff9"/>
<rect x="747.43" y="449.54" width="34.39" height="13.51" fill="#deebf7"/>
<rect x="781.22" y="449.54" width="34.39" height="13.51" fill="#08306b"/>
<rect x="815.01" y="449.54" width="34.39" height="13.51" fill="#d3e3f3"/>
<rect x="848.8" y="449.54" width="34.39" height="13.51" fill="#83bbdb"/>
<rect x="882.59" y="449.54" width="34.39" height="13.51" fill="#d8e7f5"/>
<rect x="916.38" y="449.54" width="34.39" height="13.51" fill="#e4eff9"/>
<rect x="950.17" y="449.54" width="34.39" height="13.51" fill="#f5fafe"/>
<rect x="983.96" y="449.54" width="34.39" height="13.51" fill="#f5fafe"/>
<rect x="1017.75" y="449.54" width="34.39" height="13.51" fill="#f5fafe"/>
<rect x="1051.54" y="449.54" width="34.39" height="13.51" fill="#f5fafe"/>
<rect x="1085.33" y="449.54" width="34.39" height="13.51" fill="#ecf4fb"/>
<rect x="1119.12" y="449.54" width="34.39" height="13.51" fill="#f5fafe"/>
<rect x="1152.91" y="449.54" width="34.39" height="13.51" fill="#f5fafe"/>
<rect x="1186.7" y="449.54" width="34.39" height="13.51" fill="#f5fafe"/>
<rect x="1220.49" y="449.54" width="34.39" height="13.51" fill="#d9e8f5"/>
<rect x="1254.28" y="449.54" width="34.39" height="13.51" fill="#ecf4fb"/>
<rect x="1288.07" y="449.54" width="34.39" height="13.51" fill="#f5fafe"/>
<rect x="1321.86" y="449.54" width="34.39" height="13.51" fill="#f5fafe"/>
<rect x="1355.65" y="449.54" width="34.39" height="13.51" fill="#f5fafe"/>
<rect x="1389.44" y="449.54" width="34.39" height="13.51" fill="#ecf4fb"/>
<rect x="1423.23" y="449.54" width="34.39" height="13.51" fill="#f5fafe"/>
<rect x="173" y="462.45" width="34.39" height="13.51" fill="#f5fafe"/>
<rect x="206.79" y="462.45" width="34.39" height="13.51" fill="#a8cee4"/>
<rect x="240.58" y="462.45" width="34.39" height="13.51" fill="#f5fafe"/>
<rect x="274.37" y="462.45" width="34.39" height="13.51" fill="#d8e7f5"/>
<rect x="308.16" y="462.45" width="34.39" height="13.51" fill="#f5fafe"/>
<rect x="341.95" y="462.45" width="34.39" height="13.51" fill="#eaf3fb"/>
<rect x="375.74" y="462.45" width="34.39" height="13.51" fill="#8dc1dd"/>
<rect x="409.53" y="462.45" width="34.39" height="13.51" fill="#72b2d7"/>
<rect x="443.32" y="462.45" width="34.39" height="13.51" fill="#f5fafe"/>
<rect x="477.11" y="462.45" width="34.39" height="13.51" fill="#d8e7f5"/>
<rect x="510.9" y="462.45" width="34.39" height="13.51" fill="#f5fafe"/>
<rect x="544.69" y="462.45" width="34.39" height="13.51" fill="#c8dcf0"/>
<rect x="578.48" y="462.45" width="34.39" height="13.51" fill="#f2f8fd"/>
<rect x="612.27" y="462.45" width="34.39" height="13.51" fill="#c0d9ed"/>
<rect x="646.06" y="462.45" width="34.39" height="13.51" fill="#f5fafe"/>
<rect x="679.85" y="462.45" width="34.39" height="13.51" fill="#deebf7"/>
<rect x="713.64" y="462.45" width="34.39" height="13.51" fill="#e4eff9"/>
<rect x="747.43" y="462.45" width="34.39" height="13.51" fill="#d3e3f3"/>
<rect x="781.22" y="462.45" width="34.39" height="13.51" fill="#69add5"/>
<rect x="815.01" y="462.45" width="34.39" height="13.51" fill="#d3e3f3"/>
<rect x="848.8" y="462.45" width="34.39" height="13.51" fill="#d3e3f3"/>
<rect x="882.59" y="462.45" width="34.39" height="13.51" fill="#3b8bc3"/>
<rect x="916.38" y="462.45" width="34.39" height="13.51" fill="#eaf3fb"/>
<rect x="950.17" y="462.45" width="34.39" height="13.51" fill="#e4eff9"/>
<rect x="983.96" y="462.45" width="34.39" height="13.51" fill="#f5fafe"/>
<rect x="1017.75" y="462.45" width="34.39" height="13.51" fill="#f5fafe"/>
<rect x="1051.54" y="462.45" width="34.39" height="13.51" fill="#f5fafe"/>
<rect x="1085.33" y="462.45" width="34.39" height="13.51" fill="#ecf4fb"/>
<rect x="1119.12" y="462.45" width="34.39" height="13.51" fill="#f5fafe"/>
<rect x="1152.91" y="462.45" width="34.39" height="13.51" fill="#ecf4fb"/>
<rect x="1186.7" y="462.45" width="34.39" height="13.51" fill="#2171b5"/>
<rect x="1220.49" y="462.45" width="34.39" height="13.51" fill="#d9e8f5"/>
<rect x="1254.28" y="462.45" width="34.39" height="13.51" fill="#f5fafe"/>
<rect x="1288.07" y="462.45" width="34.39" height="13.51" fill="#d0e1f2"/>
<rect x="1321.86" y="462.45" width="34.39" height="13.51" fill="#ecf4fb"/>
<rect x="1355.65" y="462.45" width="34.39" height="13.51" fill="#f5fafe"/>
<rect x="1389.44" y="462.45" width="34.39" height="13.51" fill="#ecf4fb"/>
<rect x="1423.23" y="462.45" width="34.39" height="13.51" fill="#f5fafe"/>
<rect x="173" y="475.36" width="34.39" height="13.51" fill="#c8dcf0"/>
<rect x="206.79" y="475.36" width="34.39" height="13.51" fill="#f5fafe"/>
<rect x="240.58" y="475.36" width="34.39" height="13.51" fill="#f5fafe"/>
<rect x="274.37" y="475.36" width="34.39" height="13.51" fill="#deebf7"/>
<rect x="308.16" y="475.36" width="34.39" height="13.51" fill="#f5fafe"/>
<rect x="341.95" y="475.36" width="34.39" height="13.51" fill="#f5fafe"/>
<rect x="375.74" y="475.36" width="34.39" height="13.51" fill="#deebf7"/>
<rect x="409.53" y="475.36" width="34.39" height="13.51" fill="#e4eff9"/>
<rect x="443.32" y="475.36" width="34.39" height="13.51" fill="#f5fafe"/>
<rect x="477.11" y="475.36" width="34.39" height="13.51" fill="#f5fafe"/>
<rect x="510.9" y="475.36" width="34.39" height="13.51" fill="#f5fafe"/>
<rect x="544.69" y="475.36" width="34.39" height="13.51" fill="#deebf7"/>
<rect x="578.48" y="475.36" width="34.39" height="13.51" fill="#e4eff9"/>
<rect x="612.27" y="475.36" width="34.39" height="13.51" fill="#c8dcf0"/>
<rect x="646.06" y="475.36" width="34.39" height="13.51" fill="#f5fafe"/>
<rect x="679.85" y="475.36" width="34.39" height="13.51" fill="#c0d9ed"/>
<rect x="713.64" y="475.36" width="34.39" height="13.51" fill="#eaf3fb"/>
<rect x="747.43" y="475.36" width="34.39" height="13.51" fill="#8dc1dd"/>
<rect x="781.22" y="475.36" width="34.39" height="13.51" fill="#deebf7"/>
<rect x="815.01" y="475.36" width="34.39" height="13.51" fill="#d3e3f3"/>
<rect x="848.8" y="475.36" width="34.39" height="13.51" fill="#b8d5ea"/>
<rect x="882.59" y="475.36" width="34.39" height="13.51" fill="#eaf3fb"/>
<rect x="916.38" y="475.36" width="34.39" height="13.51" fill="#d8e7f5"/>
<rect x="950.17" y="475.36" width="34.39" height="13.51" fill="#ecf4fb"/>
<rect x="983.96" y="475.36" width="34.39" height="13.51" fill="#f5fafe"/>
<rect x="1017.75" y="475.36" width="34.39" height="13.51" fill="#ecf4fb"/>
<rect x="1051.54" y="475.36" width="34.39" height="13.51" fill="#f5fafe"/>
<rect x="1085.33" y="475.36" width="34.39" height="13.51" fill="#f0f6fd"/>
<rect x="1119.12" y="475.36" width="34.39" height="13.51" fill="#f5fafe"/>
<rect x="1152.91" y="475.36" width="34.39" height="13.51" fill="#f5fafe"/>
<rect x="1186.7" y="475.36" width="34.39" height="13.51" fill="#f5fafe"/>
<rect x="1220.49" y="475.36" width="34.39" height="13.51" fill="#f5fafe"/>
<rect x="1254.28" y="475.36" width="34.39" height="13.51" fill="#f5fafe"/>
<rect x="1288.07" y="475.36" width="34.39" height="13.51" fill="#d4e5f4"/>
<rect x="1321.86" y="475.36" width="34.39" height="13.51" fill="#f5fafe"/>
<rect x="1355.65" y="475.36" width="34.39" height="13.51" fill="#f5fafe"/>
<rect x="1389.44" y="475.36" width="34.39" height="13.51" fill="#d0e1f2"/>
<rect x="1423.23" y="475.36" width="34.39" height="13.51" fill="#f5fafe"/>
<rect x="173" y="488.27" width="34.39" height="13.51" fill="#f5fafe"/>
<rect x="206.79" y="488.27" width="34.39" height="13.51" fill="#f5fafe"/>
<rect x="240.58" y="488.27" width="34.39" height="13.51" fill="#f5fafe"/>
<rect x="274.37" y="488.27" width="34.39" height="13.51" fill="#c8dcf0"/>
<rect x="308.16" y="488.27" width="34.39" height="13.51" fill="#e4eff9"/>
<rect x="341.95" y="488.27" width="34.39" height="13.51" fill="#cde0f1"/>
<rect x="375.74" y="488.27" width="34.39" height="13.51" fill="#f5fafe"/>
<rect x="409.53" y="488.27" width="34.39" height="13.51" fill="#f5fafe"/>
<rect x="443.32" y="488.27" width="34.39" height="13.51" fill="#f5fafe"/>
<rect x="477.11" y="488.27" width="34.39" height="13.51" fill="#f5fafe"/>
<rect x="510.9" y="488.27" width="34.39" height="13.51" fill="#e4eff9"/>
<rect x="544.69" y="488.27" width="34.39" height="13.51" fill="#d3e3f3"/>
<rect x="578.48" y="488.27" width="34.39" height="13.51" fill="#e4eff9"/>
<rect x="612.27" y="488.27" width="34.39" height="13.51" fill="#f5fafe"/>
<rect x="646.06" y="488.27" width="34.39" height="13.51" fill="#4a98c9"/>
<rect x="679.85" y="488.27" width="34.39" height="13.51" fill="#d8e7f5"/>
<rect x="713.64" y="488.27" width="34.39" height="13.51" fill="#deebf7"/>
<rect x="747.43" y="488.27" width="34.39" height="13.51" fill="#deebf7"/>
<rect x="781.22" y="488.27" width="34.39" height="13.51" fill="#e4eff9"/>
<rect x="815.01" y="488.27" width="34.39" height="13.51" fill="#e4eff9"/>
<rect x="848.8" y="488.27" width="34.39" height="13.51" fill="#deebf7"/>
<rect x="882.59" y="488.27" width="34.39" height="13.51" fill="#d8e7f5"/>
<rect x="916.38" y="488.27" width="34.39" height="13.51" fill="#deebf7"/>
<rect x="950.17" y="488.27" width="34.39" height="13.51" fill="#ecf4fb"/>
<rect x="983.96" y="488.27" width="34.39" height="13.51" fill="#f5fafe"/>
<rect x="1017.75" y="488.27" width="34.39" height="13.51" fill="#f5fafe"/>
<rect x="1051.54" y="488.27" width="34.39" height="13.51" fill="#f5fafe"/>
<rect x="1085.33" y="488.27" width="34.39" height="13.51" fill="#f5fafe"/>
<rect x="1119.12" y="488.27" width="34.39" height="13.51" fill="#f5fafe"/>
<rect x="1152.91" y="488.27" width="34.39" height="13.51" fill="#f5fafe"/>
<rect x="1186.7" y="488.27" width="34.39" height="13.51" fill="#f5fafe"/>
<rect x="1220.49" y="488.27" width="34.39" height="13.51" fill="#f5fafe"/>
<rect x="1254.28" y="488.27" width="34.39" height="13.51" fill="#ecf4fb"/>
<rect x="1288.07" y="488.27" width="34.39" height="13.51" fill="#f5fafe"/>
<rect x="1321.86" y="488.27" width="34.39" height="13.51" fill="#f5fafe"/>
<rect x="1355.65" y="488.27" width="34.39" height="13.51" fill="#f0f6fd"/>
<rect x="1389.44" y="488.27" width="34.39" height="13.51" fill="#f5fafe"/>
<rect x="1423.23" y="488.27" width="34.39" height="13.51" fill="#f5fafe"/>
<rect x="173" y="501.18" width="34.39" height="13.51" fill="#f5fafe"/>
<rect x="206.79" y="501.18" width="34.39" height="13.51" fill="#f5fafe"/>
<rect x="240.58" y="501.18" width="34.39" height="13.51" fill="#f5fafe"/>
<rect x="274.37" y="501.18" width="34.39" height="13.51" fill="#f5fafe"/>
<rect x="308.16" y="501.18" width="34.39" height="13.51" fill="#f5fafe"/>
<rect x="341.95" y="501.18" width="34.39" height="13.51" fill="#e4eff9"/>
<rect x="375.74" y="501.18" width="34.39" height="13.51" fill="#f5fafe"/>
<rect x="409.53" y="501.18" width="34.39" height="13.51" fill="#f5fafe"/>
<rect x="443.32" y="501.18" width="34.39" height="13.51" fill="#e4eff9"/>
<rect x="477.11" y="501.18" width="34.39" height="13.51" fill="#f5fafe"/>
<rect x="510.9" y="501.18" width="34.39" height="13.51" fill="#e4eff9"/>
<rect x="544.69" y="501.18" width="34.39" height="13.51" fill="#b0d2e7"/>
<rect x="578.48" y="501.18" width="34.39" height="13.51" fill="#e4eff9"/>
<rect x="612.27" y="501.18" width="34.39" height="13.51" fill="#deebf7"/>
<rect x="646.06" y="501.18" width="34.39" height="13.51" fill="#f4f9fe"/>
<rect x="679.85" y="501.18" width="34.39" height="13.51" fill="#d3e3f3"/>
<rect x="713.64" y="501.18" width="34.39" height="13.51" fill="#e4eff9"/>
<rect x="747.43" y="501.18" width="34.39" height="13.51" fill="#c8dcf0"/>
<rect x="781.22" y="501.18" width="34.39" height="13.51" fill="#e4eff9"/>
<rect x="815.01" y="501.18" width="34.39" height="13.51" fill="#eaf3fb"/>
<rect x="848.8" y="501.18" width="34.39" height="13.51" fill="#c0d9ed"/>
<rect x="882.59" y="501.18" width="34.39" height="13.51" fill="#a0cbe2"/>
<rect x="916.38" y="501.18" width="34.39" height="13.51" fill="#e4eff9"/>
<rect x="950.17" y="501.18" width="34.39" height="13.51" fill="#ecf4fb"/>
<rect x="983.96" y="501.18" width="34.39" height="13.51" fill="#f5fafe"/>
<rect x="1017.75" y="501.18" width="34.39" height="13.51" fill="#f5fafe"/>
<rect x="1051.54" y="501.18" width="34.39" height="13.51" fill="#9ecae1"/>
<rect x="1085.33" y="501.18" width="34.39" height="13.51" fill="#ecf4fb"/>
<rect x="1119.12" y="501.18" width="34.39" height="13.51" fill="#f5fafe"/>
<rect x="1152.91" y="501.18" width="34.39" height="13.51" fill="#f5fafe"/>
<rect x="1186.7" y="501.18" width="34.39" height="13.51" fill="#f5fafe"/>
<rect x="1220.49" y="501.18" width="34.39" height="13.51" fill="#f5fafe"/>
<rect x="1254.28" y="501.18" width="34.39" height="13.51" fill="#f0f6fd"/>
<rect x="1288.07" y="501.18" width="34.39" height="13.51" fill="#f5fafe"/>
<rect x="1321.86" y="501.18" width="34.39" height="13.51" fill="#f5fafe"/>
<rect x="1355.65" y="501.18" width="34.39" height="13.51" fill="#f5fafe"/>
<rect x="1389.44" y="501.18" width="34.39" height="13.51" fill="#f0f6fd"/>
<rect x="1423.23" y="501.18" width="34.39" height="13.51" fill="#f5fafe"/>
<rect x="173" y="514.09" width="34.39" height="13.51" fill="#f5fafe"/>
<rect x="206.79" y="514.09" width="34.39" height="13.51" fill="#f5fafe"/>
<rect x="240.58" y="514.09" width="34.39" height="13.51" fill="#f5fafe"/>
<rect x="274.37" y="514.09" width="34.39" height="13.51" fill="#f5fafe"/>
<rect x="308.16" y="514.09" width="34.39" height="13.51" fill="#f5fafe"/>
<rect x="341.95" y="514.09" width="34.39" height="13.51" fill="#f5fafe"/>
<rect x="375.74" y="514.09" width="34.39" height="13.51" fill="#e4eff9"/>
<rect x="409.53" y="514.09" width="34.39" height="13.51" fill="#f5fafe"/>
<rect x="443.32" y="514.09" width="34.39" height="13.51" fill="#f5fafe"/>
<rect x="477.11" y="514.09" width="34.39" height="13.51" fill="#f5fafe"/>
<rect x="510.9" y="514.09" width="34.39" height="13.51" fill="#f5fafe"/>
<rect x="544.69" y="514.09" width="34.39" height="13.51" fill="#b8d5ea"/>
<rect x="578.48" y="514.09" width="34.39" height="13.51" fill="#e4eff9"/>
<rect x="612.27" y="514.09" width="34.39" height="13.51" fill="#c8dcf0"/>
<rect x="646.06" y="514.09" width="34.39" height="13.51" fill="#f4f9fe"/>
<rect x="679.85" y="514.09" width="34.39" height="13.51" fill="#d3e3f3"/>
<rect x="713.64" y="514.09" width="34.39" height="13.51" fill="#e4eff9"/>
<rect x="747.43" y="514.09" width="34.39" height="13.51" fill="#deebf7"/>
<rect x="781.22" y="514.09" width="34.39" height="13.51" fill="#e4eff9"/>
<rect x="815.01" y="514.09" width="34.39" height="13.51" fill="#e4eff9"/>
<rect x="848.8" y="514.09" width="34.39" height="13.51" fill="#e4eff9"/>
<rect x="882.59" y="514.09" width="34.39" height="13.51" fill="#d8e7f5"/>
<rect x="916.38" y="514.09" width="34.39" height="13.51" fill="#eaf3fb"/>
<rect x="950.17" y="514.09" width="34.39" height="13.51" fill="#f5fafe"/>
<rect x="983.96" y="514.09" width="34.39" height="13.51" fill="#f5fafe"/>
<rect x="1017.75" y="514.09" width="34.39" height="13.51" fill="#f5fafe"/>
<rect x="1051.54" y="514.09" width="34.39" height="13.51" fill="#f5fafe"/>
<rect x="1085.33" y="514.09" width="34.39" height="13.51" fill="#f5fafe"/>
<rect x="1119.12" y="514.09" width="34.39" height="13.51" fill="#f5fafe"/>
<rect x="1152.91" y="514.09" width="34.39" height="13.51" fill="#ecf4fb"/>
<rect x="1186.7" y="514.09" width="34.39" height="13.51" fill="#f5fafe"/>
<rect x="1220.49" y="514.09" width="34.39" height="13.51" fill="#f5fafe"/>
<rect x="1254.28" y="514.09" width="34.39" height="13.51" fill="#ecf4fb"/>
<rect x="1288.07" y="514.09" width="34.39" height="13.51" fill="#f5fafe"/>
<rect x="1321.86" y="514.09" width="34.39" height="13.51" fill="#f5fafe"/>
<rect x="1355.65" y="514.09" width="34.39" height="13.51" fill="#f0f6fd"/>
<rect x="1389.44" y="514.09" width="34.39" height="13.51" fill="#f5fafe"/>
<rect x="1423.23" y="514.09" width="34.39" height="13.51" fill="#f5fafe"/>
<rect x="173" y="527" width="34.39" height="13.51" fill="#f5fafe"/>
<rect x="206.79" y="527" width="34.39" height="13.51" fill="#f5fafe"/>
<rect x="240.58" y="527" width="34.39" height="13.51" fill="#f5fafe"/>
<rect x="274.37" y="527" width="34.39" height="13.51" fill="#f5fafe"/>
<rect x="308.16" y="527" width="34.39" height="13.51" fill="#deebf7"/>
<rect x="341.95" y="527" width="34.39" height="13.51" fill="#f5fafe"/>
<rect x="375.74" y="527" width="34.39" height="13.51" fill="#eaf3fb"/>
<rect x="409.53" y="527" width="34.39" height="13.51" fill="#f5fafe"/>
<rect x="443.32" y="527" width="34.39" height="13.51" fill="#f5fafe"/>
<rect x="477.11" y="527" width="34.39" height="13.51" fill="#f5fafe"/>
<rect x="510.9" y="527" width="34.39" height="13.51" fill="#f5fafe"/>
<rect x="544.69" y="527" width="34.39" height="13.51" fill="#e4eff9"/>
<rect x="578.48" y="527" width="34.39" height="13.51" fill="#d8e7f5"/>
<rect x="612.27" y="527" width="34.39" height="13.51" fill="#d3e3f3"/>
<rect x="646.06" y="527" width="34.39" height="13.51" fill="#f4f9fe"/>
<rect x="679.85" y="527" width="34.39" height="13.51" fill="#d3e3f3"/>
<rect x="713.64" y="527" width="34.39" height="13.51" fill="#eaf3fb"/>
<rect x="747.43" y="527" width="34.39" height="13.51" fill="#e4eff9"/>
<rect x="781.22" y="527" width="34.39" height="13.51" fill="#e4eff9"/>
<rect x="815.01" y="527" width="34.39" height="13.51" fill="#56a0ce"/>
<rect x="848.8" y="527" width="34.39" height="13.51" fill="#a8cee4"/>
<rect x="882.59" y="527" width="34.39" height="13.51" fill="#eaf3fb"/>
<rect x="916.38" y="527" width="34.39" height="13.51" fill="#8dc1dd"/>
<rect x="950.17" y="527" width="34.39" height="13.51" fill="#f5fafe"/>
<rect x="983.96" y="527" width="34.39" height="13.51" fill="#f5fafe"/>
<rect x="1017.75" y="527" width="34.39" height="13.51" fill="#f5fafe"/>
<rect x="1051.54" y="527" width="34.39" height="13.51" fill="#f5fafe"/>
<rect x="1085.33" y="527" width="34.39" height="13.51" fill="#ecf4fb"/>
<rect x="1119.12" y="527" width="34.39" height="13.51" fill="#f5fafe"/>
<rect x="1152.91" y="527" width="34.39" height="13.51" fill="#f5fafe"/>
<rect x="1186.7" y="527" width="34.39" height="13.51" fill="#f5fafe"/>
<rect x="1220.49" y="527" width="34.39" height="13.51" fill="#f5fafe"/>
<rect x="1254.28" y="527" width="34.39" height="13.51" fill="#f0f6fd"/>
<rect x="1288.07" y="527" width="34.39" height="13.51" fill="#f5fafe"/>
<rect x="1321.86" y="527" width="34.39" height="13.51" fill="#f0f6fd"/>
<rect x="1355.65" y="527" width="34.39" height="13.51" fill="#f5fafe"/>
<rect x="1389.44" y="527" width="34.39" height="13.51" fill="#f5fafe"/>
<rect x="1423.23" y="527" width="34.39" height="13.51" fill="#f5fafe"/>
<rect x="173" y="539.91" width="34.39" height="13.51" fill="#eaf3fb"/>
<rect x="206.79" y="539.91" width="34.39" height="13.51" fill="#f5fafe"/>
<rect x="240.58" y="539.91" width="34.39" height="13.51" fill="#f5fafe"/>
<rect x="274.37" y="539.91" width="34.39" height="13.51" fill="#f5fafe"/>
<rect x="308.16" y="539.91" width="34.39" height="13.51" fill="#f5fafe"/>
<rect x="341.95" y="539.91" width="34.39" height="13.51" fill="#e4eff9"/>
<rect x="375.74" y="539.91" width="34.39" height="13.51" fill="#f5fafe"/>
<rect x="409.53" y="539.91" width="34.39" height="13.51" fill="#f5fafe"/>
<rect x="443.32" y="539.91" width="34.39" height="13.51" fill="#eaf3fb"/>
<rect x="477.11" y="539.91" width="34.39" height="13.51" fill="#f5fafe"/>
<rect x="510.9" y="539.91" width="34.39" height="13.51" fill="#f5fafe"/>
<rect x="544.69" y="539.91" width="34.39" height="13.51" fill="#e4eff9"/>
<rect x="578.48" y="539.91" width="34.39" height="13.51" fill="#deebf7"/>
<rect x="612.27" y="539.91" width="34.39" height="13.51" fill="#d8e7f5"/>
<rect x="646.06" y="539.91" width="34.39" height="13.51" fill="#f4f9fe"/>
<rect x="679.85" y="539.91" width="34.39" height="13.51" fill="#cde0f1"/>
<rect x="713.64" y="539.91" width="34.39" height="13.51" fill="#deebf7"/>
<rect x="747.43" y="539.91" width="34.39" height="13.51" fill="#c0d9ed"/>
<rect x="781.22" y="539.91" width="34.39" height="13.51" fill="#eaf3fb"/>
<rect x="815.01" y="539.91" width="34.39" height="13.51" fill="#eaf3fb"/>
<rect x="848.8" y="539.91" width="34.39" height="13.51" fill="#e4eff9"/>
<rect x="882.59" y="539.91" width="34.39" height="13.51" fill="#eaf3fb"/>
<rect x="916.38" y="539.91" width="34.39" height="13.51" fill="#eaf3fb"/>
<rect x="950.17" y="539.91" width="34.39" height="13.51" fill="#f0f6fd"/>
<rect x="983.96" y="539.91" width="34.39" height="13.51" fill="#f5fafe"/>
<rect x="1017.75" y="539.91" width="34.39" height="13.51" fill="#f5fafe"/>
<rect x="1051.54" y="539.91" width="34.39" height="13.51" fill="#f5fafe"/>
<rect x="1085.33" y="539.91" width="34.39" height="13.51" fill="#f5fafe"/>
<rect x="1119.12" y="539.91" width="34.39" height="13.51" fill="#f5fafe"/>
<rect x="1152.91" y="539.91" width="34.39" height="13.51" fill="#f0f6fd"/>
<rect x="1186.7" y="539.91" width="34.39" height="13.51" fill="#f5fafe"/>
<rect x="1220.49" y="539.91" width="34.39" height="13.51" fill="#f5fafe"/>
<rect x="1254.28" y="539.91" width="34.39" height="13.51" fill="#e4eff9"/>
<rect x="1288.07" y="539.91" width="34.39" height="13.51" fill="#f5fafe"/>
<rect x="1321.86" y="539.91" width="34.39" height="13.51" fill="#f0f6fd"/>
<rect x="1355.65" y="539.91" width="34.39" height="13.51" fill="#f5fafe"/>
<rect x="1389.44" y="539.91" width="34.39" height="13.51" fill="#f5fafe"/>
<rect x="1423.23" y="539.91" width="34.39" height="13.51" fill="#f5fafe"/>
<rect x="173" y="552.82" width="34.39" height="13.51" fill="#f5fafe"/>
<rect x="206.79" y="552.82" width="34.39" height="13.51" fill="#f5fafe"/>
<rect x="240.58" y="552.82" width="34.39" height="13.51" fill="#f5fafe"/>
<rect x="274.37" y="552.82" width="34.39" height="13.51" fill="#f5fafe"/>
<rect x="308.16" y="552.82" width="34.39" height="13.51" fill="#f5fafe"/>
<rect x="341.95" y="552.82" width="34.39" height="13.51" fill="#f5fafe"/>
<rect x="375.74" y="552.82" width="34.39" height="13.51" fill="#deebf7"/>
<rect x="409.53" y="552.82" width="34.39" height="13.51" fill="#f5fafe"/>
<rect x="443.32" y="552.82" width="34.39" height="13.51" fill="#f5fafe"/>
<rect x="477.11" y="552.82" width="34.39" height="13.51" fill="#f5fafe"/>
<rect x="510.9" y="552.82" width="34.39" height="13.51" fill="#eaf3fb"/>
<rect x="544.69" y="552.82" width="34.39" height="13.51" fill="#e4eff9"/>
<rect x="578.48" y="552.82" width="34.39" height="13.51" fill="#e4eff9"/>
<rect x="612.27" y="552.82" width="34.39" height="13.51" fill="#f4f9fe"/>
<rect x="646.06" y="552.82" width="34.39" height="13.51" fill="#c8dcf0"/>
<rect x="679.85" y="552.82" width="34.39" height="13.51" fill="#c8dcf0"/>
<rect x="713.64" y="552.82" width="34.39" height="13.51" fill="#eaf3fb"/>
<rect x="747.43" y="552.82" width="34.39" height="13.51" fill="#e4eff9"/>
<rect x="781.22" y="552.82" width="34.39" height="13.51" fill="#eaf3fb"/>
<rect x="815.01" y="552.82" width="34.39" height="13.51" fill="#eaf3fb"/>
<rect x="848.8" y="552.82" width="34.39" height="13.51" fill="#d3e3f3"/>
<rect x="882.59" y="552.82" width="34.39" height="13.51" fill="#f2f8fd"/>
<rect x="916.38" y="552.82" width="34.39" height="13.51" fill="#cde0f1"/>
<rect x="950.17" y="552.82" width="34.39" height="13.51" fill="#f5fafe"/>
<rect x="983.96" y="552.82" width="34.39" height="13.51" fill="#f5fafe"/>
<rect x="1017.75" y="552.82" width="34.39" height="13.51" fill="#f5fafe"/>
<rect x="1051.54" y="552.82" width="34.39" height="13.51" fill="#f5fafe"/>
<rect x="1085.33" y="552.82" width="34.39" height="13.51" fill="#f0f6fd"/>
<rect x="1119.12" y="552.82" width="34.39" height="13.51" fill="#f5fafe"/>
<rect x="1152.91" y="552.82" width="34.39" height="13.51" fill="#f5fafe"/>
<rect x="1186.7" y="552.82" width="34.39" height="13.51" fill="#f5fafe"/>
<rect x="1220.49" y="552.82" width="34.39" height="13.51" fill="#f5fafe"/>
<rect x="1254.28" y="552.82" width="34.39" height="13.51" fill="#e4eff9"/>
<rect x="1288.07" y="552.82" width="34.39" height="13.51" fill="#ecf4fb"/>
<rect x="1321.86" y="552.82" width="34.39" height="13.51" fill="#ecf4fb"/>
<rect x="1355.65" y="552.82" width="34.39" height="13.51" fill="#f5fafe"/>
<rect x="1389.44" y="552.82" width="34.39" height="13.51" fill="#f5fafe"/>
<rect x="1423.23" y="552.82" width="34.39" height="13.51" fill="#f5fafe"/>
<rect x="173" y="565.73" width="34.39" height="13.51" fill="#f5fafe"/>
<rect x="206.79" y="565.73" width="34.39" height="13.51" fill="#f5fafe"/>
<rect x="240.58" y="565.73" width="34.39" height="13.51" fill="#f5fafe"/>
<rect x="274.37" y="565.73" width="34.39" height="13.51" fill="#f5fafe"/>
<rect x="308.16" y="565.73" width="34.39" height="13.51" fill="#c8dcf0"/>
<rect x="341.95" y="565.73" width="34.39" height="13.51" fill="#f5fafe"/>
<rect x="375.74" y="565.73" width="34.39" height="13.51" fill="#f5fafe"/>
<rect x="409.53" y="565.73" width="34.39" height="13.51" fill="#f5fafe"/>
<rect x="443.32" y="565.73" width="34.39" height="13.51" fill="#f5fafe"/>
<rect x="477.11" y="565.73" width="34.39" height="13.51" fill="#f5fafe"/>
<rect x="510.9" y="565.73" width="34.39" height="13.51" fill="#f5fafe"/>
<rect x="544.69" y="565.73" width="34.39" height="13.51" fill="#e4eff9"/>
<rect x="578.48" y="565.73" width="34.39" height="13.51" fill="#f2f8fd"/>
<rect x="612.27" y="565.73" width="34.39" height="13.51" fill="#f4f9fe"/>
<rect x="646.06" y="565.73" width="34.39" height="13.51" fill="#f2f8fd"/>
<rect x="679.85" y="565.73" width="34.39" height="13.51" fill="#eaf3fb"/>
<rect x="713.64" y="565.73" width="34.39" height="13.51" fill="#d8e7f5"/>
<rect x="747.43" y="565.73" width="34.39" height="13.51" fill="#cde0f1"/>
<rect x="781.22" y="565.73" width="34.39" height="13.51" fill="#f2f8fd"/>
<rect x="815.01" y="565.73" width="34.39" height="13.51" fill="#f2f8fd"/>
<rect x="848.8" y="565.73" width="34.39" height="13.51" fill="#f2f8fd"/>
<rect x="882.59" y="565.73" width="34.39" height="13.51" fill="#deebf7"/>
<rect x="916.38" y="565.73" width="34.39" height="13.51" fill="#e4eff9"/>
<rect x="950.17" y="565.73" width="34.39" height="13.51" fill="#f5fafe"/>
<rect x="983.96" y="565.73" width="34.39" height="13.51" fill="#f5fafe"/>
<rect x="1017.75" y="565.73" width="34.39" height="13.51" fill="#f5fafe"/>
<rect x="1051.54" y="565.73" width="34.39" height="13.51" fill="#f5fafe"/>
<rect x="1085.33" y="565.73" width="34.39" height="13.51" fill="#f0f6fd"/>
<rect x="1119.12" y="565.73" width="34.39" height="13.51" fill="#f5fafe"/>
<rect x="1152.91" y="565.73" width="34.39" height="13.51" fill="#f5fafe"/>
<rect x="1186.7" y="565.73" width="34.39" height="13.51" fill="#f5fafe"/>
<rect x="1220.49" y="565.73" width="34.39" height="13.51" fill="#f5fafe"/>
<rect x="1254.28" y="565.73" width="34.39" height="13.51" fill="#f5fafe"/>
<rect x="1288.07" y="565.73" width="34.39" height="13.51" fill="#f5fafe"/>
<rect x="1321.86" y="565.73" width="34.39" height="13.51" fill="#f5fafe"/>
<rect x="1355.65" y="565.73" width="34.39" height="13.51" fill="#f5fafe"/>
<rect x="1389.44" y="565.73" width="34.39" height="13.51" fill="#ecf4fb"/>
<rect x="1423.23" y="565.73" width="34.39" height="13.51" fill="#f5fafe"/>
<rect x="173" y="578.64" width="34.39" height="13.51" fill="#e4eff9"/>
<rect x="206.79" y="578.64" width="34.39" height="13.51" fill="#f5fafe"/>
<rect x="240.58" y="578.64" width="34.39" height="13.51" fill="#f5fafe"/>
<rect x="274.37" y="578.64" width="34.39" height="13.51" fill="#f5fafe"/>
<rect x="308.16" y="578.64" width="34.39" height="13.51" fill="#d3e3f3"/>
<rect x="341.95" y="578.64" width="34.39" height="13.51" fill="#f5fafe"/>
<rect x="375.74" y="578.64" width="34.39" height="13.51" fill="#f5fafe"/>
<rect x="409.53" y="578.64" width="34.39" height="13.51" fill="#f5fafe"/>
<rect x="443.32" y="578.64" width="34.39" height="13.51" fill="#f5fafe"/>
<rect x="477.11" y="578.64" width="34.39" height="13.51" fill="#f5fafe"/>
<rect x="510.9" y="578.64" width="34.39" height="13.51" fill="#e4eff9"/>
<rect x="544.69" y="578.64" width="34.39" height="13.51" fill="#eaf3fb"/>
<rect x="578.48" y="578.64" width="34.39" height="13.51" fill="#deebf7"/>
<rect x="612.27" y="578.64" width="34.39" height="13.51" fill="#d3e3f3"/>
<rect x="646.06" y="578.64" width="34.39" height="13.51" fill="#f2f8fd"/>
<rect x="679.85" y="578.64" width="34.39" height="13.51" fill="#cde0f1"/>
<rect x="713.64" y="578.64" width="34.39" height="13.51" fill="#f2f8fd"/>
<rect x="747.43" y="578.64" width="34.39" height="13.51" fill="#cde0f1"/>
<rect x="781.22" y="578.64" width="34.39" height="13.51" fill="#f2f8fd"/>
<rect x="815.01" y="578.64" width="34.39" height="13.51" fill="#e4eff9"/>
<rect x="848.8" y="578.64" width="34.39" height="13.51" fill="#d8e7f5"/>
<rect x="882.59" y="578.64" width="34.39" height="13.51" fill="#f2f8fd"/>
<rect x="916.38" y="578.64" width="34.39" height="13.51" fill="#c0d9ed"/>
<rect x="950.17" y="578.64" width="34.39" height="13.51" fill="#f5fafe"/>
<rect x="983.96" y="578.64" width="34.39" height="13.51" fill="#f5fafe"/>
<rect x="1017.75" y="578.64" width="34.39" height="13.51" fill="#f5fafe"/>
<rect x="1051.54" y="578.64" width="34.39" height="13.51" fill="#f5fafe"/>
<rect x="1085.33" y="578.64" width="34.39" height="13.51" fill="#f5fafe"/>
<rect x="1119.12" y="578.64" width="34.39" height="13.51" fill="#f5fafe"/>
<rect x="1152.91" y="578.64" width="34.39" height="13.51" fill="#e8f1fa"/>
<rect x="1186.7" y="578.64" width="34.39" height="13.51" fill="#f5fafe"/>
<rect x="1220.49" y="578.64" width="34.39" height="13.51" fill="#ecf4fb"/>
<rect x="1254.28" y="578.64" width="34.39" height="13.51" fill="#f5fafe"/>
<rect x="1288.07" y="578.64" width="34.39" height="13.51" fill="#f5fafe"/>
<rect x="1321.86" y="578.64" width="34.39" height="13.51" fill="#f5fafe"/>
<rect x="1355.65" y="578.64" width="34.39" height="13.51" fill="#f5fafe"/>
<rect x="1389.44" y="578.64" width="34.39" height="13.51" fill="#f5fafe"/>
<rect x="1423.23" y="578.64" width="34.39" height="13.51" fill="#f5fafe"/>
<rect x="173" y="591.55" width="34.39" height="13.51" fill="#f5fafe"/>
<rect x="206.79" y="591.55" width="34.39" height="13.51" fill="#f5fafe"/>
<rect x="240.58" y="591.55" width="34.39" height="13.51" fill="#f5fafe"/>
<rect x="274.37" y="591.55" width="34.39" height="13.51" fill="#f5fafe"/>
<rect x="308.16" y="591.55" width="34.39" height="13.51" fill="#f5fafe"/>
<rect x="341.95" y="591.55" width="34.39" height="13.51" fill="#f5fafe"/>
<rect x="375.74" y="591.55" width="34.39" height="13.51" fill="#f5fafe"/>
<rect x="409.53" y="591.55" width="34.39" height="13.51" fill="#f5fafe"/>
<rect x="443.32" y="591.55" width="34.39" height="13.51" fill="#f5fafe"/>
<rect x="477.11" y="591.55" width="34.39" height="13.51" fill="#f5fafe"/>
<rect x="510.9" y="591.55" width="34.39" height="13.51" fill="#f5fafe"/>
<rect x="544.69" y="591.55" width="34.39" height="13.51" fill="#deebf7"/>
<rect x="578.48" y="591.55" width="34.39" height="13.51" fill="#f2f8fd"/>
<rect x="612.27" y="591.55" width="34.39" height="13.51" fill="#f4f9fe"/>
<rect x="646.06" y="591.55" width="34.39" height="13.51" fill="#f4f9fe"/>
<rect x="679.85" y="591.55" width="34.39" height="13.51" fill="#eaf3fb"/>
<rect x="713.64" y="591.55" width="34.39" height="13.51" fill="#deebf7"/>
<rect x="747.43" y="591.55" width="34.39" height="13.51" fill="#eaf3fb"/>
<rect x="781.22" y="591.55" width="34.39" height="13.51" fill="#f2f8fd"/>
<rect x="815.01" y="591.55" width="34.39" height="13.51" fill="#d8e7f5"/>
<rect x="848.8" y="591.55" width="34.39" height="13.51" fill="#e4eff9"/>
<rect x="882.59" y="591.55" width="34.39" height="13.51" fill="#f2f8fd"/>
<rect x="916.38" y="591.55" width="34.39" height="13.51" fill="#c8dcf0"/>
<rect x="950.17" y="591.55" width="34.39" height="13.51" fill="#f5fafe"/>
<rect x="983.96" y="591.55" width="34.39" height="13.51" fill="#f5fafe"/>
<rect x="1017.75" y="591.55" width="34.39" height="13.51" fill="#e8f1fa"/>
<rect x="1051.54" y="591.55" width="34.39" height="13.51" fill="#f5fafe"/>
<rect x="1085.33" y="591.55" width="34.39" height="13.51" fill="#ecf4fb"/>
<rect x="1119.12" y="591.55" width="34.39" height="13.51" fill="#f5fafe"/>
<rect x="1152.91" y="591.55" width="34.39" height="13.51" fill="#f5fafe"/>
<rect x="1186.7" y="591.55" width="34.39" height="13.51" fill="#f5fafe"/>
<rect x="1220.49" y="591.55" width="34.39" height="13.51" fill="#e8f1fa"/>
<rect x="1254.28" y="591.55" width="34.39" height="13.51" fill="#f5fafe"/>
<rect x="1288.07" y="591.55" width="34.39" height="13.51" fill="#f0f6fd"/>
<rect x="1321.86" y="591.55" width="34.39" height="13.51" fill="#f0f6fd"/>
<rect x="1355.65" y="591.55" width="34.39" height="13.51" fill="#f5fafe"/>
<rect x="1389.44" y="591.55" width="34.39" height="13.51" fill="#f5fafe"/>
<rect x="1423.23" y="591.55" width="34.39" height="13.51" fill="#f5fafe"/>
<rect x="173" y="604.46" width="34.39" height="13.51" fill="#ecf4fc"/>
<rect x="206.79" y="604.46" width="34.39" height="13.51" fill="#f5faff"/>
<rect x="240.58" y="604.46" width="34.39" height="13.51" fill="#f5faff"/>
<rect x="274.37" y="604.46" width="34.39" height="13.51" fill="#f5faff"/>
<rect x="308.16" y="604.46" width="34.39" height="13.51" fill="#f5faff"/>
<rect x="341.95" y="604.46" width="34.39" height="13.51" fill="#f5faff"/>
<rect x="375.74" y="604.46" width="34.39" height="13.51" fill="#f5faff"/>
<rect x="409.53" y="604.46" width="34.39" height="13.51" fill="#f5faff"/>
<rect x="443.32" y="604.46" width="34.39" height="13.51" fill="#e9f2fb"/>
<rect x="477.11" y="604.46" width="34.39" height="13.51" fill="#f5faff"/>
<rect x="510.9" y="604.46" width="34.39" height="13.51" fill="#f5faff"/>
<rect x="544.69" y="604.46" width="34.39" height="13.51" fill="#f5fafe"/>
<rect x="578.48" y="604.46" width="34.39" height="13.51" fill="#f5fafe"/>
<rect x="612.27" y="604.46" width="34.39" height="13.51" fill="#f6faff"/>
<rect x="646.06" y="604.46" width="34.39" height="13.51" fill="#f6faff"/>
<rect x="679.85" y="604.46" width="34.39" height="13.51" fill="#e3eef9"/>
<rect x="713.64" y="604.46" width="34.39" height="13.51" fill="#f5fafe"/>
<rect x="747.43" y="604.46" width="34.39" height="13.51" fill="#edf5fc"/>
<rect x="781.22" y="604.46" width="34.39" height="13.51" fill="#edf5fc"/>
<rect x="815.01" y="604.46" width="34.39" height="13.51" fill="#f5fafe"/>
<rect x="848.8" y="604.46" width="34.39" height="13.51" fill="#f5fafe"/>
<rect x="882.59" y="604.46" width="34.39" height="13.51" fill="#edf5fc"/>
<rect x="916.38" y="604.46" width="34.39" height="13.51" fill="#f5fafe"/>
<rect x="950.17" y="604.46" width="34.39" height="13.51" fill="#f5fafe"/>
<rect x="983.96" y="604.46" width="34.39" height="13.51" fill="#f5fafe"/>
<rect x="1017.75" y="604.46" width="34.39" height="13.51" fill="#d4e5f4"/>
<rect x="1051.54" y="604.46" width="34.39" height="13.51" fill="#cbdef1"/>
<rect x="1085.33" y="604.46" width="34.39" height="13.51" fill="#f5fafe"/>
<rect x="1119.12" y="604.46" width="34.39" height="13.51" fill="#f5fafe"/>
<rect x="1152.91" y="604.46" width="34.39" height="13.51" fill="#f5fafe"/>
<rect x="1186.7" y="604.46" width="34.39" height="13.51" fill="#f5fafe"/>
<rect x="1220.49" y="604.46" width="34.39" height="13.51" fill="#f5fafe"/>
<rect x="1254.28" y="604.46" width="34.39" height="13.51" fill="#f5fafe"/>
<rect x="1288.07" y="604.46" width="34.39" height="13.51" fill="#f5fafe"/>
<rect x="1321.86" y="604.46" width="34.39" height="13.51" fill="#f5fafe"/>
<rect x="1355.65" y="604.46" width="34.39" height="13.51" fill="#f5fafe"/>
<rect x="1389.44" y="604.46" width="34.39" height="13.51" fill="#f0f6fd"/>
<rect x="1423.23" y="604.46" width="34.39" height="13.51" fill="#f5fafe"/>
<rect x="173" y="617.37" width="34.39" height="13.51" fill="#f5faff"/>
<rect x="206.79" y="617.37" width="34.39" height="13.51" fill="#f5faff"/>
<rect x="240.58" y="617.37" width="34.39" height="13.51" fill="#f5faff"/>
<rect x="274.37" y="617.37" width="34.39" height="13.51" fill="#f5faff"/>
<rect x="308.16" y="617.37" width="34.39" height="13.51" fill="#f5faff"/>
<rect x="341.95" y="617.37" width="34.39" height="13.51" fill="#f5faff"/>
<rect x="375.74" y="617.37" width="34.39" height="13.51" fill="#f5faff"/>
<rect x="409.53" y="617.37" width="34.39" height="13.51" fill="#f5faff"/>
<rect x="443.32" y="617.37" width="34.39" height="13.51" fill="#e9f2fb"/>
<rect x="477.11" y="617.37" width="34.39" height="13.51" fill="#f5faff"/>
<rect x="510.9" y="617.37" width="34.39" height="13.51" fill="#f5faff"/>
<rect x="544.69" y="617.37" width="34.39" height="13.51" fill="#f5fafe"/>
<rect x="578.48" y="617.37" width="34.39" height="13.51" fill="#f5fafe"/>
<rect x="612.27" y="617.37" width="34.39" height="13.51" fill="#f6faff"/>
<rect x="646.06" y="617.37" width="34.39" height="13.51" fill="#f6faff"/>
<rect x="679.85" y="617.37" width="34.39" height="13.51" fill="#d0e1f2"/>
<rect x="713.64" y="617.37" width="34.39" height="13.51" fill="#f5fafe"/>
<rect x="747.43" y="617.37" width="34.39" height="13.51" fill="#f5fafe"/>
<rect x="781.22" y="617.37" width="34.39" height="13.51" fill="#f5fafe"/>
<rect x="815.01" y="617.37" width="34.39" height="13.51" fill="#f5fafe"/>
<rect x="848.8" y="617.37" width="34.39" height="13.51" fill="#e8f1fa"/>
<rect x="882.59" y="617.37" width="34.39" height="13.51" fill="#f5fafe"/>
<rect x="916.38" y="617.37" width="34.39" height="13.51" fill="#e8f1fa"/>
<rect x="950.17" y="617.37" width="34.39" height="13.51" fill="#f5fafe"/>
<rect x="983.96" y="617.37" width="34.39" height="13.51" fill="#f5fafe"/>
<rect x="1017.75" y="617.37" width="34.39" height="13.51" fill="#f5fafe"/>
<rect x="1051.54" y="617.37" width="34.39" height="13.51" fill="#f5fafe"/>
<rect x="1085.33" y="617.37" width="34.39" height="13.51" fill="#f5fafe"/>
<rect x="1119.12" y="617.37" width="34.39" height="13.51" fill="#f5fafe"/>
<rect x="1152.91" y="617.37" width="34.39" height="13.51" fill="#f5fafe"/>
<rect x="1186.7" y="617.37" width="34.39" height="13.51" fill="#f5fafe"/>
<rect x="1220.49" y="617.37" width="34.39" height="13.51" fill="#f5fafe"/>
<rect x="1254.28" y="617.37" width="34.39" height="13.51" fill="#f5fafe"/>
<rect x="1288.07" y="617.37" width="34.39" height="13.51" fill="#f5fafe"/>
<rect x="1321.86" y="617.37" width="34.39" height="13.51" fill="#f5fafe"/>
<rect x="1355.65" y="617.37" width="34.39" height="13.51" fill="#f5fafe"/>
<rect x="1389.44" y="617.37" width="34.39" height="13.51" fill="#ecf4fb"/>
<rect x="1423.23" y="617.37" width="34.39" height="13.51" fill="#f5fafe"/>
<rect x="173" y="630.28" width="34.39" height="13.51" fill="#f5faff"/>
<rect x="206.79" y="630.28" width="34.39" height="13.51" fill="#f5faff"/>
<rect x="240.58" y="630.28" width="34.39" height="13.51" fill="#f5faff"/>
<rect x="274.37" y="630.28" width="34.39" height="13.51" fill="#f5faff"/>
<rect x="308.16" y="630.28" width="34.39" height="13.51" fill="#f5faff"/>
<rect x="341.95" y="630.28" width="34.39" height="13.51" fill="#ecf4fc"/>
<rect x="375.74" y="630.28" width="34.39" height="13.51" fill="#ecf4fc"/>
<rect x="409.53" y="630.28" width="34.39" height="13.51" fill="#f5faff"/>
<rect x="443.32" y="630.28" width="34.39" height="13.51" fill="#f5faff"/>
<rect x="477.11" y="630.28" width="34.39" height="13.51" fill="#f5faff"/>
<rect x="510.9" y="630.28" width="34.39" height="13.51" fill="#f5faff"/>
<rect x="544.69" y="630.28" width="34.39" height="13.51" fill="#f5fafe"/>
<rect x="578.48" y="630.28" width="34.39" height="13.51" fill="#d0e1f2"/>
<rect x="612.27" y="630.28" width="34.39" height="13.51" fill="#f6faff"/>
<rect x="646.06" y="630.28" width="34.39" height="13.51" fill="#f6faff"/>
<rect x="679.85" y="630.28" width="34.39" height="13.51" fill="#e8f1fa"/>
<rect x="713.64" y="630.28" width="34.39" height="13.51" fill="#f5fafe"/>
<rect x="747.43" y="630.28" width="34.39" height="13.51" fill="#edf5fc"/>
<rect x="781.22" y="630.28" width="34.39" height="13.51" fill="#e8f1fa"/>
<rect x="815.01" y="630.28" width="34.39" height="13.51" fill="#edf5fc"/>
<rect x="848.8" y="630.28" width="34.39" height="13.51" fill="#f5fafe"/>
<rect x="882.59" y="630.28" width="34.39" height="13.51" fill="#f5fafe"/>
<rect x="916.38" y="630.28" width="34.39" height="13.51" fill="#f5fafe"/>
<rect x="950.17" y="630.28" width="34.39" height="13.51" fill="#f5fafe"/>
<rect x="983.96" y="630.28" width="34.39" height="13.51" fill="#f5fafe"/>
<rect x="1017.75" y="630.28" width="34.39" height="13.51" fill="#f5fafe"/>
<rect x="1051.54" y="630.28" width="34.39" height="13.51" fill="#f5fafe"/>
<rect x="1085.33" y="630.28" width="34.39" height="13.51" fill="#f5fafe"/>
<rect x="1119.12" y="630.28" width="34.39" height="13.51" fill="#f5fafe"/>
<rect x="1152.91" y="630.28" width="34.39" height="13.51" fill="#e8f1fa"/>
<rect x="1186.7" y="630.28" width="34.39" height="13.51" fill="#f5fafe"/>
<rect x="1220.49" y="630.28" width="34.39" height="13.51" fill="#f5fafe"/>
<rect x="1254.28" y="630.28" width="34.39" height="13.51" fill="#f0f6fd"/>
<rect x="1288.07" y="630.28" width="34.39" height="13.51" fill="#f5fafe"/>
<rect x="1321.86" y="630.28" width="34.39" height="13.51" fill="#f5fafe"/>
<rect x="1355.65" y="630.28" width="34.39" height="13.51" fill="#f5fafe"/>
<rect x="1389.44" y="630.28" width="34.39" height="13.51" fill="#f5fafe"/>
<rect x="1423.23" y="630.28" width="34.39" height="13.51" fill="#f5fafe"/>
<rect x="173" y="643.19" width="34.39" height="13.51" fill="#ecf4fc"/>
<rect x="206.79" y="643.19" width="34.39" height="13.51" fill="#f5faff"/>
<rect x="240.58" y="643.19" width="34.39" height="13.51" fill="#f5faff"/>
<rect x="274.37" y="643.19" width="34.39" height="13.51" fill="#f5faff"/>
<rect x="308.16" y="643.19" width="34.39" height="13.51" fill="#f5faff"/>
<rect x="341.95" y="643.19" width="34.39" height="13.51" fill="#f5faff"/>
<rect x="375.74" y="643.19" width="34.39" height="13.51" fill="#f5faff"/>
<rect x="409.53" y="643.19" width="34.39" height="13.51" fill="#f5faff"/>
<rect x="443.32" y="643.19" width="34.39" height="13.51" fill="#ecf4fc"/>
<rect x="477.11" y="643.19" width="34.39" height="13.51" fill="#f5faff"/>
<rect x="510.9" y="643.19" width="34.39" height="13.51" fill="#f5faff"/>
<rect x="544.69" y="643.19" width="34.39" height="13.51" fill="#d9e8f5"/>
<rect x="578.48" y="643.19" width="34.39" height="13.51" fill="#f5fafe"/>
<rect x="612.27" y="643.19" width="34.39" height="13.51" fill="#f6faff"/>
<rect x="646.06" y="643.19" width="34.39" height="13.51" fill="#f6faff"/>
<rect x="679.85" y="643.19" width="34.39" height="13.51" fill="#deebf7"/>
<rect x="713.64" y="643.19" width="34.39" height="13.51" fill="#f5fafe"/>
<rect x="747.43" y="643.19" width="34.39" height="13.51" fill="#f5fafe"/>
<rect x="781.22" y="643.19" width="34.39" height="13.51" fill="#f5fafe"/>
<rect x="815.01" y="643.19" width="34.39" height="13.51" fill="#cbdef1"/>
<rect x="848.8" y="643.19" width="34.39" height="13.51" fill="#f5fafe"/>
<rect x="882.59" y="643.19" width="34.39" height="13.51" fill="#edf5fc"/>
<rect x="916.38" y="643.19" width="34.39" height="13.51" fill="#f5fafe"/>
<rect x="950.17" y="643.19" width="34.39" height="13.51" fill="#f5fafe"/>
<rect x="983.96" y="643.19" width="34.39" height="13.51" fill="#f5fafe"/>
<rect x="1017.75" y="643.19" width="34.39" height="13.51" fill="#f5fafe"/>
<rect x="1051.54" y="643.19" width="34.39" height="13.51" fill="#f5fafe"/>
<rect x="1085.33" y="643.19" width="34.39" height="13.51" fill="#f5fafe"/>
<rect x="1119.12" y="643.19" width="34.39" height="13.51" fill="#f5fafe"/>
<rect x="1152.91" y="643.19" width="34.39" height="13.51" fill="#c6dbef"/>
<rect x="1186.7" y="643.19" width="34.39" height="13.51" fill="#f5fafe"/>
<rect x="1220.49" y="643.19" width="34.39" height="13.51" fill="#f5fafe"/>
<rect x="1254.28" y="643.19" width="34.39" height="13.51" fill="#f5fafe"/>
<rect x="1288.07" y="643.19" width="34.39" height="13.51" fill="#f5fafe"/>
<rect x="1321.86" y="643.19" width="34.39" height="13.51" fill="#f5fafe"/>
<rect x="1355.65" y="643.19" width="34.39" height="13.51" fill="#f5fafe"/>
<rect x="1389.44" y="643.19" width="34.39" height="13.51" fill="#f5fafe"/>
<rect x="1423.23" y="643.19" width="34.39" height="13.51" fill="#f5fafe"/>
<rect x="173" y="656.1" width="34.39" height="13.51" fill="#f5faff"/>
<rect x="206.79" y="656.1" width="34.39" height="13.51" fill="#f5faff"/>
<rect x="240.58" y="656.1" width="34.39" height="13.51" fill="#f5faff"/>
<rect x="274.37" y="656.1" width="34.39" height="13.51" fill="#f5faff"/>
<rect x="308.16" y="656.1" width="34.39" height="13.51" fill="#f5faff"/>
<rect x="341.95" y="656.1" width="34.39" height="13.51" fill="#f5faff"/>
<rect x="375.74" y="656.1" width="34.39" height="13.51" fill="#f5faff"/>
<rect x="409.53" y="656.1" width="34.39" height="13.51" fill="#f5faff"/>
<rect x="443.32" y="656.1" width="34.39" height="13.51" fill="#f5faff"/>
<rect x="477.11" y="656.1" width="34.39" height="13.51" fill="#f5faff"/>
<rect x="510.9" y="656.1" width="34.39" height="13.51" fill="#eff6fc"/>
<rect x="544.69" y="656.1" width="34.39" height="13.51" fill="#edf5fc"/>
<rect x="578.48" y="656.1" width="34.39" height="13.51" fill="#f5fafe"/>
<rect x="612.27" y="656.1" width="34.39" height="13.51" fill="#f6faff"/>
<rect x="646.06" y="656.1" width="34.39" height="13.51" fill="#f6faff"/>
<rect x="679.85" y="656.1" width="34.39" height="13.51" fill="#d9e8f5"/>
<rect x="713.64" y="656.1" width="34.39" height="13.51" fill="#f5fafe"/>
<rect x="747.43" y="656.1" width="34.39" height="13.51" fill="#f5fafe"/>
<rect x="781.22" y="656.1" width="34.39" height="13.51" fill="#f5fafe"/>
<rect x="815.01" y="656.1" width="34.39" height="13.51" fill="#e3eef9"/>
<rect x="848.8" y="656.1" width="34.39" height="13.51" fill="#f5fafe"/>
<rect x="882.59" y="656.1" width="34.39" height="13.51" fill="#f5fafe"/>
<rect x="916.38" y="656.1" width="34.39" height="13.51" fill="#f5fafe"/>
<rect x="950.17" y="656.1" width="34.39" height="13.51" fill="#f5fafe"/>
<rect x="983.96" y="656.1" width="34.39" height="13.51" fill="#f5fafe"/>
<rect x="1017.75" y="656.1" width="34.39" height="13.51" fill="#f5fafe"/>
<rect x="1051.54" y="656.1" width="34.39" height="13.51" fill="#f5fafe"/>
<rect x="1085.33" y="656.1" width="34.39" height="13.51" fill="#f0f6fd"/>
<rect x="1119.12" y="656.1" width="34.39" height="13.51" fill="#f5fafe"/>
<rect x="1152.91" y="656.1" width="34.39" height="13.51" fill="#f5fafe"/>
<rect x="1186.7" y="656.1" width="34.39" height="13.51" fill="#f5fafe"/>
<rect x="1220.49" y="656.1" width="34.39" height="13.51" fill="#f5fafe"/>
<rect x="1254.28" y="656.1" width="34.39" height="13.51" fill="#f5fafe"/>
<rect x="1288.07" y="656.1" width="34.39" height="13.51" fill="#f5fafe"/>
<rect x="1321.86" y="656.1" width="34.39" height="13.51" fill="#f5fafe"/>
<rect x="1355.65" y="656.1" width="34.39" height="13.51" fill="#f5fafe"/>
<rect x="1389.44" y="656.1" width="34.39" height="13.51" fill="#f5fafe"/>
<rect x="1423.23" y="656.1" width="34.39" height="13.51" fill="#f5fafe"/>
<rect x="173" y="669.01" width="34.39" height="13.51" fill="#f5faff"/>
<rect x="206.79" y="669.01" width="34.39" height="13.51" fill="#f5faff"/>
<rect x="240.58" y="669.01" width="34.39" height="13.51" fill="#f5faff"/>
<rect x="274.37" y="669.01" width="34.39" height="13.51" fill="#f5faff"/>
<rect x="308.16" y="669.01" width="34.39" height="13.51" fill="#f5faff"/>
<rect x="341.95" y="669.01" width="34.39" height="13.51" fill="#f5faff"/>
<rect x="375.74" y="669.01" width="34.39" height="13.51" fill="#f0f7fd"/>
<rect x="409.53" y="669.01" width="34.39" height="13.51" fill="#f5faff"/>
<rect x="443.32" y="669.01" width="34.39" height="13.51" fill="#f5faff"/>
<rect x="477.11" y="669.01" width="34.39" height="13.51" fill="#f5faff"/>
<rect x="510.9" y="669.01" width="34.39" height="13.51" fill="#f5faff"/>
<rect x="544.69" y="669.01" width="34.39" height="13.51" fill="#e8f1fa"/>
<rect x="578.48" y="669.01" width="34.39" height="13.51" fill="#f5fafe"/>
<rect x="612.27" y="669.01" width="34.39" height="13.51" fill="#f6faff"/>
<rect x="646.06" y="669.01" width="34.39" height="13.51" fill="#f6faff"/>
<rect x="679.85" y="669.01" width="34.39" height="13.51" fill="#edf5fc"/>
<rect x="713.64" y="669.01" width="34.39" height="13.51" fill="#e8f1fa"/>
<rect x="747.43" y="669.01" width="34.39" height="13.51" fill="#f5fafe"/>
<rect x="781.22" y="669.01" width="34.39" height="13.51" fill="#f5fafe"/>
<rect x="815.01" y="669.01" width="34.39" height="13.51" fill="#f5fafe"/>
<rect x="848.8" y="669.01" width="34.39" height="13.51" fill="#e8f1fa"/>
<rect x="882.59" y="669.01" width="34.39" height="13.51" fill="#f5fafe"/>
<rect x="916.38" y="669.01" width="34.39" height="13.51" fill="#f5fafe"/>
<rect x="950.17" y="669.01" width="34.39" height="13.51" fill="#f5fafe"/>
<rect x="983.96" y="669.01" width="34.39" height="13.51" fill="#f5fafe"/>
<rect x="1017.75" y="669.01" width="34.39" height="13.51" fill="#f5fafe"/>
<rect x="1051.54" y="669.01" width="34.39" height="13.51" fill="#f5fafe"/>
<rect x="1085.33" y="669.01" width="34.39" height="13.51" fill="#f0f6fd"/>
<rect x="1119.12" y="669.01" width="34.39" height="13.51" fill="#f5fafe"/>
<rect x="1152.91" y="669.01" width="34.39" height="13.51" fill="#f0f6fd"/>
<rect x="1186.7" y="669.01" width="34.39" height="13.51" fill="#f5fafe"/>
<rect x="1220.49" y="669.01" width="34.39" height="13.51" fill="#f5fafe"/>
<rect x="1254.28" y="669.01" width="34.39" height="13.51" fill="#f5fafe"/>
<rect x="1288.07" y="669.01" width="34.39" height="13.51" fill="#f5fafe"/>
<rect x="1321.86" y="669.01" width="34.39" height="13.51" fill="#f5fafe"/>
<rect x="1355.65" y="669.01" width="34.39" height="13.51" fill="#f5fafe"/>
<rect x="1389.44" y="669.01" width="34.39" height="13.51" fill="#f5fafe"/>
<rect x="1423.23" y="669.01" width="34.39" height="13.51" fill="#f5fafe"/>
<rect x="173" y="681.92" width="34.39" height="13.51" fill="#f5faff"/>
<rect x="206.79" y="681.92" width="34.39" height="13.51" fill="#f5faff"/>
<rect x="240.58" y="681.92" width="34.39" height="13.51" fill="#f5faff"/>
<rect x="274.37" y="681.92" width="34.39" height="13.51" fill="#f5faff"/>
<rect x="308.16" y="681.92" width="34.39" height="13.51" fill="#f5faff"/>
<rect x="341.95" y="681.92" width="34.39" height="13.51" fill="#f5faff"/>
<rect x="375.74" y="681.92" width="34.39" height="13.51" fill="#f5faff"/>
<rect x="409.53" y="681.92" width="34.39" height="13.51" fill="#f5faff"/>
<rect x="443.32" y="681.92" width="34.39" height="13.51" fill="#eff6fc"/>
<rect x="477.11" y="681.92" width="34.39" height="13.51" fill="#f5faff"/>
<rect x="510.9" y="681.92" width="34.39" height="13.51" fill="#f5faff"/>
<rect x="544.69" y="681.92" width="34.39" height="13.51" fill="#e3eef9"/>
<rect x="578.48" y="681.92" width="34.39" height="13.51" fill="#edf5fc"/>
<rect x="612.27" y="681.92" width="34.39" height="13.51" fill="#f6faff"/>
<rect x="646.06" y="681.92" width="34.39" height="13.51" fill="#f6faff"/>
<rect x="679.85" y="681.92" width="34.39" height="13.51" fill="#edf5fc"/>
<rect x="713.64" y="681.92" width="34.39" height="13.51" fill="#f5fafe"/>
<rect x="747.43" y="681.92" width="34.39" height="13.51" fill="#f5fafe"/>
<rect x="781.22" y="681.92" width="34.39" height="13.51" fill="#f5fafe"/>
<rect x="815.01" y="681.92" width="34.39" height="13.51" fill="#f5fafe"/>
<rect x="848.8" y="681.92" width="34.39" height="13.51" fill="#f5fafe"/>
<rect x="882.59" y="681.92" width="34.39" height="13.51" fill="#f5fafe"/>
<rect x="916.38" y="681.92" width="34.39" height="13.51" fill="#f5fafe"/>
<rect x="950.17" y="681.92" width="34.39" height="13.51" fill="#f5fafe"/>
<rect x="983.96" y="681.92" width="34.39" height="13.51" fill="#f5fafe"/>
<rect x="1017.75" y="681.92" width="34.39" height="13.51" fill="#f5fafe"/>
<rect x="1051.54" y="681.92" width="34.39" height="13.51" fill="#f5fafe"/>
<rect x="1085.33" y="681.92" width="34.39" height="13.51" fill="#f5fafe"/>
<rect x="1119.12" y="681.92" width="34.39" height="13.51" fill="#f5fafe"/>
<rect x="1152.91" y="681.92" width="34.39" height="13.51" fill="#f5fafe"/>
<rect x="1186.7" y="681.92" width="34.39" height="13.51" fill="#f5fafe"/>
<rect x="1220.49" y="681.92" width="34.39" height="13.51" fill="#f5fafe"/>
<rect x="1254.28" y="681.92" width="34.39" height="13.51" fill="#ecf4fb"/>
<rect x="1288.07" y="681.92" width="34.39" height="13.51" fill="#f5fafe"/>
<rect x="1321.86" y="681.92" width="34.39" height="13.51" fill="#f5fafe"/>
<rect x="1355.65" y="681.92" width="34.39" height="13.51" fill="#f5fafe"/>
<rect x="1389.44" y="681.92" width="34.39" height="13.51" fill="#f5fafe"/>
<rect x="1423.23" y="681.92" width="34.39" height="13.51" fill="#f5fafe"/>
<rect x="173" y="694.83" width="34.39" height="13.51" fill="#f5faff"/>
<rect x="206.79" y="694.83" width="34.39" height="13.51" fill="#f5faff"/>
<rect x="240.58" y="694.83" width="34.39" height="13.51" fill="#f5faff"/>
<rect x="274.37" y="694.83" width="34.39" height="13.51" fill="#f5faff"/>
<rect x="308.16" y="694.83" width="34.39" height="13.51" fill="#f5faff"/>
<rect x="341.95" y="694.83" width="34.39" height="13.51" fill="#f5faff"/>
<rect x="375.74" y="694.83" width="34.39" height="13.51" fill="#f0f7fd"/>
<rect x="409.53" y="694.83" width="34.39" height="13.51" fill="#f5faff"/>
<rect x="443.32" y="694.83" width="34.39" height="13.51" fill="#f5faff"/>
<rect x="477.11" y="694.83" width="34.39" height="13.51" fill="#f5faff"/>
<rect x="510.9" y="694.83" width="34.39" height="13.51" fill="#f5faff"/>
<rect x="544.69" y="694.83" width="34.39" height="13.51" fill="#f5fafe"/>
<rect x="578.48" y="694.83" width="34.39" height="13.51" fill="#f5fafe"/>
<rect x="612.27" y="694.83" width="34.39" height="13.51" fill="#f6faff"/>
<rect x="646.06" y="694.83" width="34.39" height="13.51" fill="#f6faff"/>
<rect x="679.85" y="694.83" width="34.39" height="13.51" fill="#d4e5f4"/>
<rect x="713.64" y="694.83" width="34.39" height="13.51" fill="#f5fafe"/>
<rect x="747.43" y="694.83" width="34.39" height="13.51" fill="#e8f1fa"/>
<rect x="781.22" y="694.83" width="34.39" height="13.51" fill="#e8f1fa"/>
<rect x="815.01" y="694.83" width="34.39" height="13.51" fill="#f5fafe"/>
<rect x="848.8" y="694.83" width="34.39" height="13.51" fill="#f5fafe"/>
<rect x="882.59" y="694.83" width="34.39" height="13.51" fill="#e8f1fa"/>
<rect x="916.38" y="694.83" width="34.39" height="13.51" fill="#e3eef9"/>
<rect x="950.17" y="694.83" width="34.39" height="13.51" fill="#f5fafe"/>
<rect x="983.96" y="694.83" width="34.39" height="13.51" fill="#f5fafe"/>
<rect x="1017.75" y="694.83" width="34.39" height="13.51" fill="#f5fafe"/>
<rect x="1051.54" y="694.83" width="34.39" height="13.51" fill="#f5fafe"/>
<rect x="1085.33" y="694.83" width="34.39" height="13.51" fill="#f5fafe"/>
<rect x="1119.12" y="694.83" width="34.39" height="13.51" fill="#f5fafe"/>
<rect x="1152.91" y="694.83" width="34.39" height="13.51" fill="#f0f6fd"/>
<rect x="1186.7" y="694.83" width="34.39" height="13.51" fill="#f5fafe"/>
<rect x="1220.49" y="694.83" width="34.39" height="13.51" fill="#f0f6fd"/>
<rect x="1254.28" y="694.83" width="34.39" height="13.51" fill="#f5fafe"/>
<rect x="1288.07" y="694.83" width="34.39" height="13.51" fill="#f5fafe"/>
<rect x="1321.86" y="694.83" width="34.39" height="13.51" fill="#f5fafe"/>
<rect x="1355.65" y="694.83" width="34.39" height="13.51" fill="#f5fafe"/>
<rect x="1389.44" y="694.83" width="34.39" height="13.51" fill="#f5fafe"/>
<rect x="1423.23" y="694.83" width="34.39" height="13.51" fill="#f5fafe"/>
<rect x="173" y="707.74" width="34.39" height="13.51" fill="#f5faff"/>
<rect x="206.79" y="707.74" width="34.39" height="13.51" fill="#f5faff"/>
<rect x="240.58" y="707.74" width="34.39" height="13.51" fill="#f5faff"/>
<rect x="274.37" y="707.74" width="34.39" height="13.51" fill="#f5faff"/>
<rect x="308.16" y="707.74" width="34.39" height="13.51" fill="#f5faff"/>
<rect x="341.95" y="707.74" width="34.39" height="13.51" fill="#f5faff"/>
<rect x="375.74" y="707.74" width="34.39" height="13.51" fill="#f5faff"/>
<rect x="409.53" y="707.74" width="34.39" height="13.51" fill="#f0f7fd"/>
<rect x="443.32" y="707.74" width="34.39" height="13.51" fill="#f5faff"/>
<rect x="477.11" y="707.74" width="34.39" height="13.51" fill="#f5faff"/>
<rect x="510.9" y="707.74" width="34.39" height="13.51" fill="#f5faff"/>
<rect x="544.69" y="707.74" width="34.39" height="13.51" fill="#f5fafe"/>
<rect x="578.48" y="707.74" width="34.39" height="13.51" fill="#edf5fc"/>
<rect x="612.27" y="707.74" width="34.39" height="13.51" fill="#f6faff"/>
<rect x="646.06" y="707.74" width="34.39" height="13.51" fill="#f6faff"/>
<rect x="679.85" y="707.74" width="34.39" height="13.51" fill="#d4e5f4"/>
<rect x="713.64" y="707.74" width="34.39" height="13.51" fill="#f5fafe"/>
<rect x="747.43" y="707.74" width="34.39" height="13.51" fill="#f5fafe"/>
<rect x="781.22" y="707.74" width="34.39" height="13.51" fill="#f5fafe"/>
<rect x="815.01" y="707.74" width="34.39" height="13.51" fill="#f5fafe"/>
<rect x="848.8" y="707.74" width="34.39" height="13.51" fill="#edf5fc"/>
<rect x="882.59" y="707.74" width="34.39" height="13.51" fill="#f5fafe"/>
<rect x="916.38" y="707.74" width="34.39" height="13.51" fill="#e3eef9"/>
<rect x="950.17" y="707.74" width="34.39" height="13.51" fill="#f5fafe"/>
<rect x="983.96" y="707.74" width="34.39" height="13.51" fill="#f5fafe"/>
<rect x="1017.75" y="707.74" width="34.39" height="13.51" fill="#f5fafe"/>
<rect x="1051.54" y="707.74" width="34.39" height="13.51" fill="#f5fafe"/>
<rect x="1085.33" y="707.74" width="34.39" height="13.51" fill="#f5fafe"/>
<rect x="1119.12" y="707.74" width="34.39" height="13.51" fill="#f5fafe"/>
<rect x="1152.91" y="707.74" width="34.39" height="13.51" fill="#f5fafe"/>
<rect x="1186.7" y="707.74" width="34.39" height="13.51" fill="#f5fafe"/>
<rect x="1220.49" y="707.74" width="34.39" height="13.51" fill="#f5fafe"/>
<rect x="1254.28" y="707.74" width="34.39" height="13.51" fill="#f5fafe"/>
<rect x="1288.07" y="707.74" width="34.39" height="13.51" fill="#f5fafe"/>
<rect x="1321.86" y="707.74" width="34.39" height="13.51" fill="#f0f6fd"/>
<rect x="1355.65" y="707.74" width="34.39" height="13.51" fill="#f5fafe"/>
<rect x="1389.44" y="707.74" width="34.39" height="13.51" fill="#eef5fc"/>
<rect x="1423.23" y="707.74" width="34.39" height="13.51" fill="#f5fafe"/>
<rect x="173" y="720.65" width="34.39" height="13.51" fill="#f5faff"/>
<rect x="206.79" y="720.65" width="34.39" height="13.51" fill="#f5faff"/>
<rect x="240.58" y="720.65" width="34.39" height="13.51" fill="#f5faff"/>
<rect x="274.37" y="720.65" width="34.39" height="13.51" fill="#f5faff"/>
<rect x="308.16" y="720.65" width="34.39" height="13.51" fill="#f5faff"/>
<rect x="341.95" y="720.65" width="34.39" height="13.51" fill="#f5faff"/>
<rect x="375.74" y="720.65" width="34.39" height="13.51" fill="#f5faff"/>
<rect x="409.53" y="720.65" width="34.39" height="13.51" fill="#f5faff"/>
<rect x="443.32" y="720.65" width="34.39" height="13.51" fill="#f5faff"/>
<rect x="477.11" y="720.65" width="34.39" height="13.51" fill="#f5faff"/>
<rect x="510.9" y="720.65" width="34.39" height="13.51" fill="#f5faff"/>
<rect x="544.69" y="720.65" width="34.39" height="13.51" fill="#eff6fc"/>
<rect x="578.48" y="720.65" width="34.39" height="13.51" fill="#f5fafe"/>
<rect x="612.27" y="720.65" width="34.39" height="13.51" fill="#f6faff"/>
<rect x="646.06" y="720.65" width="34.39" height="13.51" fill="#f6faff"/>
<rect x="679.85" y="720.65" width="34.39" height="13.51" fill="#edf5fc"/>
<rect x="713.64" y="720.65" width="34.39" height="13.51" fill="#f5fafe"/>
<rect x="747.43" y="720.65" width="34.39" height="13.51" fill="#f5fafe"/>
<rect x="781.22" y="720.65" width="34.39" height="13.51" fill="#f5fafe"/>
<rect x="815.01" y="720.65" width="34.39" height="13.51" fill="#e3eef9"/>
<rect x="848.8" y="720.65" width="34.39" height="13.51" fill="#f5fafe"/>
<rect x="882.59" y="720.65" width="34.39" height="13.51" fill="#f5fafe"/>
<rect x="916.38" y="720.65" width="34.39" height="13.51" fill="#f5fafe"/>
<rect x="950.17" y="720.65" width="34.39" height="13.51" fill="#f5fafe"/>
<rect x="983.96" y="720.65" width="34.39" height="13.51" fill="#f5fafe"/>
<rect x="1017.75" y="720.65" width="34.39" height="13.51" fill="#f5fafe"/>
<rect x="1051.54" y="720.65" width="34.39" height="13.51" fill="#f5fafe"/>
<rect x="1085.33" y="720.65" width="34.39" height="13.51" fill="#f5fafe"/>
<rect x="1119.12" y="720.65" width="34.39" height="13.51" fill="#f5fafe"/>
<rect x="1152.91" y="720.65" width="34.39" height="13.51" fill="#f1f7fd"/>
<rect x="1186.7" y="720.65" width="34.39" height="13.51" fill="#f5fafe"/>
<rect x="1220.49" y="720.65" width="34.39" height="13.51" fill="#f5fafe"/>
<rect x="1254.28" y="720.65" width="34.39" height="13.51" fill="#f5fafe"/>
<rect x="1288.07" y="720.65" width="34.39" height="13.51" fill="#f5fafe"/>
<rect x="1321.86" y="720.65" width="34.39" height="13.51" fill="#f5fafe"/>
<rect x="1355.65" y="720.65" width="34.39" height="13.51" fill="#f5fafe"/>
<rect x="1389.44" y="720.65" width="34.39" height="13.51" fill="#f5fafe"/>
<rect x="1423.23" y="720.65" width="34.39" height="13.51" fill="#f5fafe"/>
<rect x="173" y="733.56" width="34.39" height="13.51" fill="#f5faff"/>
<rect x="206.79" y="733.56" width="34.39" height="13.51" fill="#f5faff"/>
<rect x="240.58" y="733.56" width="34.39" height="13.51" fill="#f5faff"/>
<rect x="274.37" y="733.56" width="34.39" height="13.51" fill="#f5faff"/>
<rect x="308.16" y="733.56" width="34.39" height="13.51" fill="#f5faff"/>
<rect x="341.95" y="733.56" width="34.39" height="13.51" fill="#f5faff"/>
<rect x="375.74" y="733.56" width="34.39" height="13.51" fill="#f5faff"/>
<rect x="409.53" y="733.56" width="34.39" height="13.51" fill="#f5faff"/>
<rect x="443.32" y="733.56" width="34.39" height="13.51" fill="#f5faff"/>
<rect x="477.11" y="733.56" width="34.39" height="13.51" fill="#f5faff"/>
<rect x="510.9" y="733.56" width="34.39" height="13.51" fill="#f5faff"/>
<rect x="544.69" y="733.56" width="34.39" height="13.51" fill="#f5fafe"/>
<rect x="578.48" y="733.56" width="34.39" height="13.51" fill="#edf5fc"/>
<rect x="612.27" y="733.56" width="34.39" height="13.51" fill="#f6faff"/>
<rect x="646.06" y="733.56" width="34.39" height="13.51" fill="#f6faff"/>
<rect x="679.85" y="733.56" width="34.39" height="13.51" fill="#e8f1fa"/>
<rect x="713.64" y="733.56" width="34.39" height="13.51" fill="#e8f1fa"/>
<rect x="747.43" y="733.56" width="34.39" height="13.51" fill="#f5fafe"/>
<rect x="781.22" y="733.56" width="34.39" height="13.51" fill="#f5fafe"/>
<rect x="815.01" y="733.56" width="34.39" height="13.51" fill="#edf5fc"/>
<rect x="848.8" y="733.56" width="34.39" height="13.51" fill="#f5fafe"/>
<rect x="882.59" y="733.56" width="34.39" height="13.51" fill="#f5fafe"/>
<rect x="916.38" y="733.56" width="34.39" height="13.51" fill="#f5fafe"/>
<rect x="950.17" y="733.56" width="34.39" height="13.51" fill="#f5fafe"/>
<rect x="983.96" y="733.56" width="34.39" height="13.51" fill="#f5fafe"/>
<rect x="1017.75" y="733.56" width="34.39" height="13.51" fill="#f5fafe"/>
<rect x="1051.54" y="733.56" width="34.39" height="13.51" fill="#f5fafe"/>
<rect x="1085.33" y="733.56" width="34.39" height="13.51" fill="#f5fafe"/>
<rect x="1119.12" y="733.56" width="34.39" height="13.51" fill="#f5fafe"/>
<rect x="1152.91" y="733.56" width="34.39" height="13.51" fill="#f5fafe"/>
<rect x="1186.7" y="733.56" width="34.39" height="13.51" fill="#f5fafe"/>
<rect x="1220.49" y="733.56" width="34.39" height="13.51" fill="#f5fafe"/>
<rect x="1254.28" y="733.56" width="34.39" height="13.51" fill="#ecf4fb"/>
<rect x="1288.07" y="733.56" width="34.39" height="13.51" fill="#f0f6fd"/>
<rect x="1321.86" y="733.56" width="34.39" height="13.51" fill="#f5fafe"/>
<rect x="1355.65" y="733.56" width="34.39" height="13.51" fill="#f5fafe"/>
<rect x="1389.44" y="733.56" width="34.39" height="13.51" fill="#f5fafe"/>
<rect x="1423.23" y="733.56" width="34.39" height="13.51" fill="#f5fafe"/>
<rect x="173" y="746.47" width="34.39" height="13.51" fill="#f5faff"/>
<rect x="206.79" y="746.47" width="34.39" height="13.51" fill="#f5faff"/>
<rect x="240.58" y="746.47" width="34.39" height="13.51" fill="#f5faff"/>
<rect x="274.37" y="746.47" width="34.39" height="13.51" fill="#f5faff"/>
<rect x="308.16" y="746.47" width="34.39" height="13.51" fill="#f5faff"/>
<rect x="341.95" y="746.47" width="34.39" height="13.51" fill="#f5faff"/>
<rect x="375.74" y="746.47" width="34.39" height="13.51" fill="#f5faff"/>
<rect x="409.53" y="746.47" width="34.39" height="13.51" fill="#f5faff"/>
<rect x="443.32" y="746.47" width="34.39" height="13.51" fill="#f5faff"/>
<rect x="477.11" y="746.47" width="34.39" height="13.51" fill="#f5faff"/>
<rect x="510.9" y="746.47" width="34.39" height="13.51" fill="#f5faff"/>
<rect x="544.69" y="746.47" width="34.39" height="13.51" fill="#f5fafe"/>
<rect x="578.48" y="746.47" width="34.39" height="13.51" fill="#f5fafe"/>
<rect x="612.27" y="746.47" width="34.39" height="13.51" fill="#f6faff"/>
<rect x="646.06" y="746.47" width="34.39" height="13.51" fill="#f6faff"/>
<rect x="679.85" y="746.47" width="34.39" height="13.51" fill="#eff6fc"/>
<rect x="713.64" y="746.47" width="34.39" height="13.51" fill="#f5fafe"/>
<rect x="747.43" y="746.47" width="34.39" height="13.51" fill="#e8f1fa"/>
<rect x="781.22" y="746.47" width="34.39" height="13.51" fill="#f5fafe"/>
<rect x="815.01" y="746.47" width="34.39" height="13.51" fill="#e8f1fa"/>
<rect x="848.8" y="746.47" width="34.39" height="13.51" fill="#f5fafe"/>
<rect x="882.59" y="746.47" width="34.39" height="13.51" fill="#f5fafe"/>
<rect x="916.38" y="746.47" width="34.39" height="13.51" fill="#f5fafe"/>
<rect x="950.17" y="746.47" width="34.39" height="13.51" fill="#f5fafe"/>
<rect x="983.96" y="746.47" width="34.39" height="13.51" fill="#f5fafe"/>
<rect x="1017.75" y="746.47" width="34.39" height="13.51" fill="#f5fafe"/>
<rect x="1051.54" y="746.47" width="34.39" height="13.51" fill="#f5fafe"/>
<rect x="1085.33" y="746.47" width="34.39" height="13.51" fill="#f5fafe"/>
<rect x="1119.12" y="746.47" width="34.39" height="13.51" fill="#f5fafe"/>
<rect x="1152.91" y="746.47" width="34.39" height="13.51" fill="#f5fafe"/>
<rect x="1186.7" y="746.47" width="34.39" height="13.51" fill="#f5fafe"/>
<rect x="1220.49" y="746.47" width="34.39" height="13.51" fill="#f5fafe"/>
<rect x="1254.28" y="746.47" width="34.39" height="13.51" fill="#e4eff9"/>
<rect x="1288.07" y="746.47" width="34.39" height="13.51" fill="#f5fafe"/>
<rect x="1321.86" y="746.47" width="34.39" height="13.51" fill="#f5fafe"/>
<rect x="1355.65" y="746.47" width="34.39" height="13.51" fill="#f5fafe"/>
<rect x="1389.44" y="746.47" width="34.39" height="13.51" fill="#f5fafe"/>
<rect x="1423.23" y="746.47" width="34.39" height="13.51" fill="#f5fafe"/>
<rect x="173" y="759.38" width="34.39" height="13.51" fill="#f5faff"/>
<rect x="206.79" y="759.38" width="34.39" height="13.51" fill="#f5faff"/>
<rect x="240.58" y="759.38" width="34.39" height="13.51" fill="#f5faff"/>
<rect x="274.37" y="759.38" width="34.39" height="13.51" fill="#f5faff"/>
<rect x="308.16" y="759.38" width="34.39" height="13.51" fill="#f5faff"/>
<rect x="341.95" y="759.38" width="34.39" height="13.51" fill="#f5faff"/>
<rect x="375.74" y="759.38" width="34.39" height="13.51" fill="#f5faff"/>
<rect x="409.53" y="759.38" width="34.39" height="13.51" fill="#f5faff"/>
<rect x="443.32" y="759.38" width="34.39" height="13.51" fill="#f5faff"/>
<rect x="477.11" y="759.38" width="34.39" height="13.51" fill="#f5faff"/>
<rect x="510.9" y="759.38" width="34.39" height="13.51" fill="#f5faff"/>
<rect x="544.69" y="759.38" width="34.39" height="13.51" fill="#f5fafe"/>
<rect x="578.48" y="759.38" width="34.39" height="13.51" fill="#f5fafe"/>
<rect x="612.27" y="759.38" width="34.39" height="13.51" fill="#f6faff"/>
<rect x="646.06" y="759.38" width="34.39" height="13.51" fill="#f6faff"/>
<rect x="679.85" y="759.38" width="34.39" height="13.51" fill="#f5fafe"/>
<rect x="713.64" y="759.38" width="34.39" height="13.51" fill="#f5fafe"/>
<rect x="747.43" y="759.38" width="34.39" height="13.51" fill="#ebf3fb"/>
<rect x="781.22" y="759.38" width="34.39" height="13.51" fill="#f5fafe"/>
<rect x="815.01" y="759.38" width="34.39" height="13.51" fill="#ebf3fb"/>
<rect x="848.8" y="759.38" width="34.39" height="13.51" fill="#f5fafe"/>
<rect x="882.59" y="759.38" width="34.39" height="13.51" fill="#f5fafe"/>
<rect x="916.38" y="759.38" width="34.39" height="13.51" fill="#f5fafe"/>
<rect x="950.17" y="759.38" width="34.39" height="13.51" fill="#f5fafe"/>
<rect x="983.96" y="759.38" width="34.39" height="13.51" fill="#f5fafe"/>
<rect x="1017.75" y="759.38" width="34.39" height="13.51" fill="#f5fafe"/>
<rect x="1051.54" y="759.38" width="34.39" height="13.51" fill="#f5fafe"/>
<rect x="1085.33" y="759.38" width="34.39" height="13.51" fill="#f5fafe"/>
<rect x="1119.12" y="759.38" width="34.39" height="13.51" fill="#f5fafe"/>
<rect x="1152.91" y="759.38" width="34.39" height="13.51" fill="#f0f6fd"/>
<rect x="1186.7" y="759.38" width="34.39" height="13.51" fill="#f5fafe"/>
<rect x="1220.49" y="759.38" width="34.39" height="13.51" fill="#f5fafe"/>
<rect x="1254.28" y="759.38" width="34.39" height="13.51" fill="#f5fafe"/>
<rect x="1288.07" y="759.38" width="34.39" height="13.51" fill="#f5fafe"/>
<rect x="1321.86" y="759.38" width="34.39" height="13.51" fill="#f5fafe"/>
<rect x="1355.65" y="759.38" width="34.39" height="13.51" fill="#f5fafe"/>
<rect x="1389.44" y="759.38" width="34.39" height="13.51" fill="#f5fafe"/>
<rect x="1423.23" y="759.38" width="34.39" height="13.51" fill="#f5fafe"/>
<rect x="173" y="772.29" width="34.39" height="13.51" fill="#f5faff"/>
<rect x="206.79" y="772.29" width="34.39" height="13.51" fill="#f5faff"/>
<rect x="240.58" y="772.29" width="34.39" height="13.51" fill="#f5faff"/>
<rect x="274.37" y="772.29" width="34.39" height="13.51" fill="#f5faff"/>
<rect x="308.16" y="772.29" width="34.39" height="13.51" fill="#f5faff"/>
<rect x="341.95" y="772.29" width="34.39" height="13.51" fill="#f5faff"/>
<rect x="375.74" y="772.29" width="34.39" height="13.51" fill="#f5faff"/>
<rect x="409.53" y="772.29" width="34.39" height="13.51" fill="#f5faff"/>
<rect x="443.32" y="772.29" width="34.39" height="13.51" fill="#f5faff"/>
<rect x="477.11" y="772.29" width="34.39" height="13.51" fill="#f5faff"/>
<rect x="510.9" y="772.29" width="34.39" height="13.51" fill="#f5faff"/>
<rect x="544.69" y="772.29" width="34.39" height="13.51" fill="#f5fafe"/>
<rect x="578.48" y="772.29" width="34.39" height="13.51" fill="#f5fafe"/>
<rect x="612.27" y="772.29" width="34.39" height="13.51" fill="#f6faff"/>
<rect x="646.06" y="772.29" width="34.39" height="13.51" fill="#f6faff"/>
<rect x="679.85" y="772.29" width="34.39" height="13.51" fill="#e8f1fa"/>
<rect x="713.64" y="772.29" width="34.39" height="13.51" fill="#edf5fc"/>
<rect x="747.43" y="772.29" width="34.39" height="13.51" fill="#f5fafe"/>
<rect x="781.22" y="772.29" width="34.39" height="13.51" fill="#f5fafe"/>
<rect x="815.01" y="772.29" width="34.39" height="13.51" fill="#f5fafe"/>
<rect x="848.8" y="772.29" width="34.39" height="13.51" fill="#f5fafe"/>
<rect x="882.59" y="772.29" width="34.39" height="13.51" fill="#f5fafe"/>
<rect x="916.38" y="772.29" width="34.39" height="13.51" fill="#e8f1fa"/>
<rect x="950.17" y="772.29" width="34.39" height="13.51" fill="#f5fafe"/>
<rect x="983.96" y="772.29" width="34.39" height="13.51" fill="#f5fafe"/>
<rect x="1017.75" y="772.29" width="34.39" height="13.51" fill="#f5fafe"/>
<rect x="1051.54" y="772.29" width="34.39" height="13.51" fill="#f5fafe"/>
<rect x="1085.33" y="772.29" width="34.39" height="13.51" fill="#f5fafe"/>
<rect x="1119.12" y="772.29" width="34.39" height="13.51" fill="#f5fafe"/>
<rect x="1152.91" y="772.29" width="34.39" height="13.51" fill="#f5fafe"/>
<rect x="1186.7" y="772.29" width="34.39" height="13.51" fill="#f5fafe"/>
<rect x="1220.49" y="772.29" width="34.39" height="13.51" fill="#f5fafe"/>
<rect x="1254.28" y="772.29" width="34.39" height="13.51" fill="#f5fafe"/>
<rect x="1288.07" y="772.29" width="34.39" height="13.51" fill="#f5fafe"/>
<rect x="1321.86" y="772.29" width="34.39" height="13.51" fill="#f5fafe"/>
<rect x="1355.65" y="772.29" width="34.39" height="13.51" fill="#f5fafe"/>
<rect x="1389.44" y="772.29" width="34.39" height="13.51" fill="#f5fafe"/>
<rect x="1423.23" y="772.29" width="34.39" height="13.51" fill="#f5fafe"/>
<rect x="173" y="785.2" width="34.39" height="13.51" fill="#f5faff"/>
<rect x="206.79" y="785.2" width="34.39" height="13.51" fill="#f5faff"/>
<rect x="240.58" y="785.2" width="34.39" height="13.51" fill="#f5faff"/>
<rect x="274.37" y="785.2" width="34.39" height="13.51" fill="#f5faff"/>
<rect x="308.16" y="785.2" width="34.39" height="13.51" fill="#f5faff"/>
<rect x="341.95" y="785.2" width="34.39" height="13.51" fill="#f5faff"/>
<rect x="375.74" y="785.2" width="34.39" height="13.51" fill="#f0f7fd"/>
<rect x="409.53" y="785.2" width="34.39" height="13.51" fill="#f5faff"/>
<rect x="443.32" y="785.2" width="34.39" height="13.51" fill="#f5faff"/>
<rect x="477.11" y="785.2" width="34.39" height="13.51" fill="#f5faff"/>
<rect x="510.9" y="785.2" width="34.39" height="13.51" fill="#f5faff"/>
<rect x="544.69" y="785.2" width="34.39" height="13.51" fill="#f5fafe"/>
<rect x="578.48" y="785.2" width="34.39" height="13.51" fill="#f5fafe"/>
<rect x="612.27" y="785.2" width="34.39" height="13.51" fill="#f6faff"/>
<rect x="646.06" y="785.2" width="34.39" height="13.51" fill="#f6faff"/>
<rect x="679.85" y="785.2" width="34.39" height="13.51" fill="#f5fafe"/>
<rect x="713.64" y="785.2" width="34.39" height="13.51" fill="#f5fafe"/>
<rect x="747.43" y="785.2" width="34.39" height="13.51" fill="#f5fafe"/>
<rect x="781.22" y="785.2" width="34.39" height="13.51" fill="#f5fafe"/>
<rect x="815.01" y="785.2" width="34.39" height="13.51" fill="#f5fafe"/>
<rect x="848.8" y="785.2" width="34.39" height="13.51" fill="#f5fafe"/>
<rect x="882.59" y="785.2" width="34.39" height="13.51" fill="#f5fafe"/>
<rect x="916.38" y="785.2" width="34.39" height="13.51" fill="#f5fafe"/>
<rect x="950.17" y="785.2" width="34.39" height="13.51" fill="#f5fafe"/>
<rect x="983.96" y="785.2" width="34.39" height="13.51" fill="#f5fafe"/>
<rect x="1017.75" y="785.2" width="34.39" height="13.51" fill="#f5fafe"/>
<rect x="1051.54" y="785.2" width="34.39" height="13.51" fill="#f5fafe"/>
<rect x="1085.33" y="785.2" width="34.39" height="13.51" fill="#f5fafe"/>
<rect x="1119.12" y="785.2" width="34.39" height="13.51" fill="#f5fafe"/>
<rect x="1152.91" y="785.2" width="34.39" height="13.51" fill="#f5fafe"/>
<rect x="1186.7" y="785.2" width="34.39" height="13.51" fill="#f5fafe"/>
<rect x="1220.49" y="785.2" width="34.39" height="13.51" fill="#f5fafe"/>
<rect x="1254.28" y="785.2" width="34.39" height="13.51" fill="#f5fafe"/>
<rect x="1288.07" y="785.2" width="34.39" height="13.51" fill="#f5fafe"/>
<rect x="1321.86" y="785.2" width="34.39" height="13.51" fill="#f5fafe"/>
<rect x="1355.65" y="785.2" width="34.39" height="13.51" fill="#f5fafe"/>
<rect x="1389.44" y="785.2" width="34.39" height="13.51" fill="#f5fafe"/>
<rect x="1423.23" y="785.2" width="34.39" height="13.51" fill="#f5fafe"/>
<rect x="173" y="798.11" width="34.39" height="13.51" fill="#f5faff"/>
<rect x="206.79" y="798.11" width="34.39" height="13.51" fill="#f5faff"/>
<rect x="240.58" y="798.11" width="34.39" height="13.51" fill="#f5faff"/>
<rect x="274.37" y="798.11" width="34.39" height="13.51" fill="#f5faff"/>
<rect x="308.16" y="798.11" width="34.39" height="13.51" fill="#f5faff"/>
<rect x="341.95" y="798.11" width="34.39" height="13.51" fill="#f5faff"/>
<rect x="375.74" y="798.11" width="34.39" height="13.51" fill="#f5faff"/>
<rect x="409.53" y="798.11" width="34.39" height="13.51" fill="#f0f7fd"/>
<rect x="443.32" y="798.11" width="34.39" height="13.51" fill="#f5faff"/>
<rect x="477.11" y="798.11" width="34.39" height="13.51" fill="#f5faff"/>
<rect x="510.9" y="798.11" width="34.39" height="13.51" fill="#f5faff"/>
<rect x="544.69" y="798.11" width="34.39" height="13.51" fill="#f5fafe"/>
<rect x="578.48" y="798.11" width="34.39" height="13.51" fill="#f5fafe"/>
<rect x="612.27" y="798.11" width="34.39" height="13.51" fill="#f6faff"/>
<rect x="646.06" y="798.11" width="34.39" height="13.51" fill="#f6faff"/>
<rect x="679.85" y="798.11" width="34.39" height="13.51" fill="#e8f1fa"/>
<rect x="713.64" y="798.11" width="34.39" height="13.51" fill="#f5fafe"/>
<rect x="747.43" y="798.11" width="34.39" height="13.51" fill="#f5fafe"/>
<rect x="781.22" y="798.11" width="34.39" height="13.51" fill="#f5fafe"/>
<rect x="815.01" y="798.11" width="34.39" height="13.51" fill="#f5fafe"/>
<rect x="848.8" y="798.11" width="34.39" height="13.51" fill="#f5fafe"/>
<rect x="882.59" y="798.11" width="34.39" height="13.51" fill="#f5fafe"/>
<rect x="916.38" y="798.11" width="34.39" height="13.51" fill="#f5fafe"/>
<rect x="950.17" y="798.11" width="34.39" height="13.51" fill="#f5fafe"/>
<rect x="983.96" y="798.11" width="34.39" height="13.51" fill="#f5fafe"/>
<rect x="1017.75" y="798.11" width="34.39" height="13.51" fill="#f5fafe"/>
<rect x="1051.54" y="798.11" width="34.39" height="13.51" fill="#f5fafe"/>
<rect x="1085.33" y="798.11" width="34.39" height="13.51" fill="#f5fafe"/>
<rect x="1119.12" y="798.11" width="34.39" height="13.51" fill="#f5fafe"/>
<rect x="1152.91" y="798.11" width="34.39" height="13.51" fill="#f5fafe"/>
<rect x="1186.7" y="798.11" width="34.39" height="13.51" fill="#f5fafe"/>
<rect x="1220.49" y="798.11" width="34.39" height="13.51" fill="#f5fafe"/>
<rect x="1254.28" y="798.11" width="34.39" height="13.51" fill="#f5fafe"/>
<rect x="1288.07" y="798.11" width="34.39" height="13.51" fill="#f5fafe"/>
<rect x="1321.86" y="798.11" width="34.39" height="13.51" fill="#f5fafe"/>
<rect x="1355.65" y="798.11" width="34.39" height="13.51" fill="#f5fafe"/>
<rect x="1389.44" y="798.11" width="34.39" height="13.51" fill="#f5fafe"/>
<rect x="1423.23" y="798.11" width="34.39" height="13.51" fill="#f5fafe"/>
<rect x="173" y="811.02" width="34.39" height="13.51" fill="#f5faff"/>
<rect x="206.79" y="811.02" width="34.39" height="13.51" fill="#f5faff"/>
<rect x="240.58" y="811.02" width="34.39" height="13.51" fill="#f5faff"/>
<rect x="274.37" y="811.02" width="34.39" height="13.51" fill="#f5faff"/>
<rect x="308.16" y="811.02" width="34.39" height="13.51" fill="#f5faff"/>
<rect x="341.95" y="811.02" width="34.39" height="13.51" fill="#f0f7fd"/>
<rect x="375.74" y="811.02" width="34.39" height="13.51" fill="#f5faff"/>
<rect x="409.53" y="811.02" width="34.39" height="13.51" fill="#f5faff"/>
<rect x="443.32" y="811.02" width="34.39" height="13.51" fill="#f5faff"/>
<rect x="477.11" y="811.02" width="34.39" height="13.51" fill="#f5faff"/>
<rect x="510.9" y="811.02" width="34.39" height="13.51" fill="#f5faff"/>
<rect x="544.69" y="811.02" width="34.39" height="13.51" fill="#f5fafe"/>
<rect x="578.48" y="811.02" width="34.39" height="13.51" fill="#f5fafe"/>
<rect x="612.27" y="811.02" width="34.39" height="13.51" fill="#f6faff"/>
<rect x="646.06" y="811.02" width="34.39" height="13.51" fill="#f6faff"/>
<rect x="679.85" y="811.02" width="34.39" height="13.51" fill="#f5fafe"/>
<rect x="713.64" y="811.02" width="34.39" height="13.51" fill="#f5fafe"/>
<rect x="747.43" y="811.02" width="34.39" height="13.51" fill="#f5fafe"/>
<rect x="781.22" y="811.02" width="34.39" height="13.51" fill="#f5fafe"/>
<rect x="815.01" y="811.02" width="34.39" height="13.51" fill="#f5fafe"/>
<rect x="848.8" y="811.02" width="34.39" height="13.51" fill="#f5fafe"/>
<rect x="882.59" y="811.02" width="34.39" height="13.51" fill="#f5fafe"/>
<rect x="916.38" y="811.02" width="34.39" height="13.51" fill="#f5fafe"/>
<rect x="950.17" y="811.02" width="34.39" height="13.51" fill="#f5fafe"/>
<rect x="983.96" y="811.02" width="34.39" height="13.51" fill="#f5fafe"/>
<rect x="1017.75" y="811.02" width="34.39" height="13.51" fill="#f5fafe"/>
<rect x="1051.54" y="811.02" width="34.39" height="13.51" fill="#f5fafe"/>
<rect x="1085.33" y="811.02" width="34.39" height="13.51" fill="#f5fafe"/>
<rect x="1119.12" y="811.02" width="34.39" height="13.51" fill="#f5fafe"/>
<rect x="1152.91" y="811.02" width="34.39" height="13.51" fill="#f5fafe"/>
<rect x="1186.7" y="811.02" width="34.39" height="13.51" fill="#f5fafe"/>
<rect x="1220.49" y="811.02" width="34.39" height="13.51" fill="#f5fafe"/>
<rect x="1254.28" y="811.02" width="34.39" height="13.51" fill="#f5fafe"/>
<rect x="1288.07" y="811.02" width="34.39" height="13.51" fill="#f5fafe"/>
<rect x="1321.86" y="811.02" width="34.39" height="13.51" fill="#f5fafe"/>
<rect x="1355.65" y="811.02" width="34.39" height="13.51" fill="#f5fafe"/>
<rect x="1389.44" y="811.02" width="34.39" height="13.51" fill="#f5fafe"/>
<rect x="1423.23" y="811.02" width="34.39" height="13.51" fill="#f5fafe"/>
<rect x="173" y="823.93" width="34.39" height="13.51" fill="#f5faff"/>
<rect x="206.79" y="823.93" width="34.39" height="13.51" fill="#f5faff"/>
<rect x="240.58" y="823.93" width="34.39" height="13.51" fill="#f5faff"/>
<rect x="274.37" y="823.93" width="34.39" height="13.51" fill="#f5faff"/>
<rect x="308.16" y="823.93" width="34.39" height="13.51" fill="#f5faff"/>
<rect x="341.95" y="823.93" width="34.39" height="13.51" fill="#f5faff"/>
<rect x="375.74" y="823.93" width="34.39" height="13.51" fill="#f5faff"/>
<rect x="409.53" y="823.93" width="34.39" height="13.51" fill="#f5faff"/>
<rect x="443.32" y="823.93" width="34.39" height="13.51" fill="#f5faff"/>
<rect x="477.11" y="823.93" width="34.39" height="13.51" fill="#f5faff"/>
<rect x="510.9" y="823.93" width="34.39" height="13.51" fill="#f5faff"/>
<rect x="544.69" y="823.93" width="34.39" height="13.51" fill="#f5fafe"/>
<rect x="578.48" y="823.93" width="34.39" height="13.51" fill="#f5fafe"/>
<rect x="612.27" y="823.93" width="34.39" height="13.51" fill="#f6faff"/>
<rect x="646.06" y="823.93" width="34.39" height="13.51" fill="#f6faff"/>
<rect x="679.85" y="823.93" width="34.39" height="13.51" fill="#eff6fc"/>
<rect x="713.64" y="823.93" width="34.39" height="13.51" fill="#ebf3fb"/>
<rect x="747.43" y="823.93" width="34.39" height="13.51" fill="#f5fafe"/>
<rect x="781.22" y="823.93" width="34.39" height="13.51" fill="#f5fafe"/>
<rect x="815.01" y="823.93" width="34.39" height="13.51" fill="#f5fafe"/>
<rect x="848.8" y="823.93" width="34.39" height="13.51" fill="#f5fafe"/>
<rect x="882.59" y="823.93" width="34.39" height="13.51" fill="#f5fafe"/>
<rect x="916.38" y="823.93" width="34.39" height="13.51" fill="#f5fafe"/>
<rect x="950.17" y="823.93" width="34.39" height="13.51" fill="#f5fafe"/>
<rect x="983.96" y="823.93" width="34.39" height="13.51" fill="#f5fafe"/>
<rect x="1017.75" y="823.93" width="34.39" height="13.51" fill="#f5fafe"/>
<rect x="1051.54" y="823.93" width="34.39" height="13.51" fill="#f5fafe"/>
<rect x="1085.33" y="823.93" width="34.39" height="13.51" fill="#f5fafe"/>
<rect x="1119.12" y="823.93" width="34.39" height="13.51" fill="#f5fafe"/>
<rect x="1152.91" y="823.93" width="34.39" height="13.51" fill="#f5fafe"/>
<rect x="1186.7" y="823.93" width="34.39" height="13.51" fill="#f5fafe"/>
<rect x="1220.49" y="823.93" width="34.39" height="13.51" fill="#f5fafe"/>
<rect x="1254.28" y="823.93" width="34.39" height="13.51" fill="#f5fafe"/>
<rect x="1288.07" y="823.93" width="34.39" height="13.51" fill="#f5fafe"/>
<rect x="1321.86" y="823.93" width="34.39" height="13.51" fill="#f5fafe"/>
<rect x="1355.65" y="823.93" width="34.39" height="13.51" fill="#f5fafe"/>
<rect x="1389.44" y="823.93" width="34.39" height="13.51" fill="#f5fafe"/>
<rect x="1423.23" y="823.93" width="34.39" height="13.51" fill="#f5fafe"/>
<rect x="173" y="836.84" width="34.39" height="13.51" fill="#f5faff"/>
<rect x="206.79" y="836.84" width="34.39" height="13.51" fill="#f5faff"/>
<rect x="240.58" y="836.84" width="34.39" height="13.51" fill="#f5faff"/>
<rect x="274.37" y="836.84" width="34.39" height="13.51" fill="#f5faff"/>
<rect x="308.16" y="836.84" width="34.39" height="13.51" fill="#f5faff"/>
<rect x="341.95" y="836.84" width="34.39" height="13.51" fill="#f5faff"/>
<rect x="375.74" y="836.84" width="34.39" height="13.51" fill="#f5faff"/>
<rect x="409.53" y="836.84" width="34.39" height="13.51" fill="#f5faff"/>
<rect x="443.32" y="836.84" width="34.39" height="13.51" fill="#f5faff"/>
<rect x="477.11" y="836.84" width="34.39" height="13.51" fill="#f5faff"/>
<rect x="510.9" y="836.84" width="34.39" height="13.51" fill="#f5faff"/>
<rect x="544.69" y="836.84" width="34.39" height="13.51" fill="#f5fafe"/>
<rect x="578.48" y="836.84" width="34.39" height="13.51" fill="#f5fafe"/>
<rect x="612.27" y="836.84" width="34.39" height="13.51" fill="#f6faff"/>
<rect x="646.06" y="836.84" width="34.39" height="13.51" fill="#f6faff"/>
<rect x="679.85" y="836.84" width="34.39" height="13.51" fill="#f5fafe"/>
<rect x="713.64" y="836.84" width="34.39" height="13.51" fill="#f5fafe"/>
<rect x="747.43" y="836.84" width="34.39" height="13.51" fill="#f5fafe"/>
<rect x="781.22" y="836.84" width="34.39" height="13.51" fill="#f5fafe"/>
<rect x="815.01" y="836.84" width="34.39" height="13.51" fill="#eff6fc"/>
<rect x="848.8" y="836.84" width="34.39" height="13.51" fill="#f5fafe"/>
<rect x="882.59" y="836.84" width="34.39" height="13.51" fill="#f5fafe"/>
<rect x="916.38" y="836.84" width="34.39" height="13.51" fill="#f5fafe"/>
<rect x="950.17" y="836.84" width="34.39" height="13.51" fill="#f5fafe"/>
<rect x="983.96" y="836.84" width="34.39" height="13.51" fill="#f5fafe"/>
<rect x="1017.75" y="836.84" width="34.39" height="13.51" fill="#f5fafe"/>
<rect x="1051.54" y="836.84" width="34.39" height="13.51" fill="#f5fafe"/>
<rect x="1085.33" y="836.84" width="34.39" height="13.51" fill="#f5fafe"/>
<rect x="1119.12" y="836.84" width="34.39" height="13.51" fill="#f5fafe"/>
<rect x="1152.91" y="836.84" width="34.39" height="13.51" fill="#f5fafe"/>
<rect x="1186.7" y="836.84" width="34.39" height="13.51" fill="#f5fafe"/>
<rect x="1220.49" y="836.84" width="34.39" height="13.51" fill="#f5fafe"/>
<rect x="1254.28" y="836.84" width="34.39" height="13.51" fill="#f5fafe"/>
<rect x="1288.07" y="836.84" width="34.39" height="13.51" fill="#f5fafe"/>
<rect x="1321.86" y="836.84" width="34.39" height="13.51" fill="#f5fafe"/>
<rect x="1355.65" y="836.84" width="34.39" height="13.51" fill="#f5fafe"/>
<rect x="1389.44" y="836.84" width="34.39" height="13.51" fill="#f5fafe"/>
<rect x="1423.23" y="836.84" width="34.39" height="13.51" fill="#f5fafe"/>
<rect x="173" y="849.75" width="34.39" height="13.51" fill="#f5faff"/>
<rect x="206.79" y="849.75" width="34.39" height="13.51" fill="#f5faff"/>
<rect x="240.58" y="849.75" width="34.39" height="13.51" fill="#f5faff"/>
<rect x="274.37" y="849.75" width="34.39" height="13.51" fill="#f5faff"/>
<rect x="308.16" y="849.75" width="34.39" height="13.51" fill="#f5faff"/>
<rect x="341.95" y="849.75" width="34.39" height="13.51" fill="#f5faff"/>
<rect x="375.74" y="849.75" width="34.39" height="13.51" fill="#f5faff"/>
<rect x="409.53" y="849.75" width="34.39" height="13.51" fill="#f0f7fd"/>
<rect x="443.32" y="849.75" width="34.39" height="13.51" fill="#f5faff"/>
<rect x="477.11" y="849.75" width="34.39" height="13.51" fill="#f5faff"/>
<rect x="510.9" y="849.75" width="34.39" height="13.51" fill="#f5faff"/>
<rect x="544.69" y="849.75" width="34.39" height="13.51" fill="#f5fafe"/>
<rect x="578.48" y="849.75" width="34.39" height="13.51" fill="#f5fafe"/>
<rect x="612.27" y="849.75" width="34.39" height="13.51" fill="#f6faff"/>
<rect x="646.06" y="849.75" width="34.39" height="13.51" fill="#f6faff"/>
<rect x="679.85" y="849.75" width="34.39" height="13.51" fill="#f5fafe"/>
<rect x="713.64" y="849.75" width="34.39" height="13.51" fill="#f5fafe"/>
<rect x="747.43" y="849.75" width="34.39" height="13.51" fill="#f5fafe"/>
<rect x="781.22" y="849.75" width="34.39" height="13.51" fill="#f5fafe"/>
<rect x="815.01" y="849.75" width="34.39" height="13.51" fill="#f5fafe"/>
<rect x="848.8" y="849.75" width="34.39" height="13.51" fill="#f5fafe"/>
<rect x="882.59" y="849.75" width="34.39" height="13.51" fill="#f5fafe"/>
<rect x="916.38" y="849.75" width="34.39" height="13.51" fill="#f5fafe"/>
<rect x="950.17" y="849.75" width="34.39" height="13.51" fill="#f5fafe"/>
<rect x="983.96" y="849.75" width="34.39" height="13.51" fill="#f5fafe"/>
<rect x="1017.75" y="849.75" width="34.39" height="13.51" fill="#f5fafe"/>
<rect x="1051.54" y="849.75" width="34.39" height="13.51" fill="#f5fafe"/>
<rect x="1085.33" y="849.75" width="34.39" height="13.51" fill="#f5fafe"/>
<rect x="1119.12" y="849.75" width="34.39" height="13.51" fill="#f5fafe"/>
<rect x="1152.91" y="849.75" width="34.39" height="13.51" fill="#f5fafe"/>
<rect x="1186.7" y="849.75" width="34.39" height="13.51" fill="#f5fafe"/>
<rect x="1220.49" y="849.75" width="34.39" height="13.51" fill="#f5fafe"/>
<rect x="1254.28" y="849.75" width="34.39" height="13.51" fill="#f5fafe"/>
<rect x="1288.07" y="849.75" width="34.39" height="13.51" fill="#f5fafe"/>
<rect x="1321.86" y="849.75" width="34.39" height="13.51" fill="#f5fafe"/>
<rect x="1355.65" y="849.75" width="34.39" height="13.51" fill="#f5fafe"/>
<rect x="1389.44" y="849.75" width="34.39" height="13.51" fill="#f5fafe"/>
<rect x="1423.23" y="849.75" width="34.39" height="13.51" fill="#f5fafe"/>
<rect x="173" y="862.66" width="34.39" height="13.51" fill="#f5faff"/>
<rect x="206.79" y="862.66" width="34.39" height="13.51" fill="#f5faff"/>
<rect x="240.58" y="862.66" width="34.39" height="13.51" fill="#f5faff"/>
<rect x="274.37" y="862.66" width="34.39" height="13.51" fill="#f5faff"/>
<rect x="308.16" y="862.66" width="34.39" height="13.51" fill="#f5faff"/>
<rect x="341.95" y="862.66" width="34.39" height="13.51" fill="#f5faff"/>
<rect x="375.74" y="862.66" width="34.39" height="13.51" fill="#f5faff"/>
<rect x="409.53" y="862.66" width="34.39" height="13.51" fill="#f5faff"/>
<rect x="443.32" y="862.66" width="34.39" height="13.51" fill="#f5faff"/>
<rect x="477.11" y="862.66" width="34.39" height="13.51" fill="#f5faff"/>
<rect x="510.9" y="862.66" width="34.39" height="13.51" fill="#f5faff"/>
<rect x="544.69" y="862.66" width="34.39" height="13.51" fill="#f5fafe"/>
<rect x="578.48" y="862.66" width="34.39" height="13.51" fill="#f5fafe"/>
<rect x="612.27" y="862.66" width="34.39" height="13.51" fill="#f6faff"/>
<rect x="646.06" y="862.66" width="34.39" height="13.51" fill="#f6faff"/>
<rect x="679.85" y="862.66" width="34.39" height="13.51" fill="#f5fafe"/>
<rect x="713.64" y="862.66" width="34.39" height="13.51" fill="#eff6fc"/>
<rect x="747.43" y="862.66" width="34.39" height="13.51" fill="#f5fafe"/>
<rect x="781.22" y="862.66" width="34.39" height="13.51" fill="#f5fafe"/>
<rect x="815.01" y="862.66" width="34.39" height="13.51" fill="#f5fafe"/>
<rect x="848.8" y="862.66" width="34.39" height="13.51" fill="#f5fafe"/>
<rect x="882.59" y="862.66" width="34.39" height="13.51" fill="#f5fafe"/>
<rect x="916.38" y="862.66" width="34.39" height="13.51" fill="#f5fafe"/>
<rect x="950.17" y="862.66" width="34.39" height="13.51" fill="#f5fafe"/>
<rect x="983.96" y="862.66" width="34.39" height="13.51" fill="#f5fafe"/>
<rect x="1017.75" y="862.66" width="34.39" height="13.51" fill="#f5fafe"/>
<rect x="1051.54" y="862.66" width="34.39" height="13.51" fill="#f5fafe"/>
<rect x="1085.33" y="862.66" width="34.39" height="13.51" fill="#f5fafe"/>
<rect x="1119.12" y="862.66" width="34.39" height="13.51" fill="#f5fafe"/>
<rect x="1152.91" y="862.66" width="34.39" height="13.51" fill="#f5fafe"/>
<rect x="1186.7" y="862.66" width="34.39" height="13.51" fill="#f5fafe"/>
<rect x="1220.49" y="862.66" width="34.39" height="13.51" fill="#f5fafe"/>
<rect x="1254.28" y="862.66" width="34.39" height="13.51" fill="#f5fafe"/>
<rect x="1288.07" y="862.66" width="34.39" height="13.51" fill="#f5fafe"/>
<rect x="1321.86" y="862.66" width="34.39" height="13.51" fill="#f5fafe"/>
<rect x="1355.65" y="862.66" width="34.39" height="13.51" fill="#f5fafe"/>
<rect x="1389.44" y="862.66" width="34.39" height="13.51" fill="#f5fafe"/>
<rect x="1423.23" y="862.66" width="34.39" height="13.51" fill="#f5fafe"/>
<rect x="173" y="875.57" width="34.39" height="13.51" fill="#f5faff"/>
<rect x="206.79" y="875.57" width="34.39" height="13.51" fill="#f5faff"/>
<rect x="240.58" y="875.57" width="34.39" height="13.51" fill="#f5faff"/>
<rect x="274.37" y="875.57" width="34.39" height="13.51" fill="#f5faff"/>
<rect x="308.16" y="875.57" width="34.39" height="13.51" fill="#f5faff"/>
<rect x="341.95" y="875.57" width="34.39" height="13.51" fill="#f5faff"/>
<rect x="375.74" y="875.57" width="34.39" height="13.51" fill="#f5faff"/>
<rect x="409.53" y="875.57" width="34.39" height="13.51" fill="#f5faff"/>
<rect x="443.32" y="875.57" width="34.39" height="13.51" fill="#f5faff"/>
<rect x="477.11" y="875.57" width="34.39" height="13.51" fill="#f5faff"/>
<rect x="510.9" y="875.57" width="34.39" height="13.51" fill="#f5faff"/>
<rect x="544.69" y="875.57" width="34.39" height="13.51" fill="#f5fafe"/>
<rect x="578.48" y="875.57" width="34.39" height="13.51" fill="#f5fafe"/>
<rect x="612.27" y="875.57" width="34.39" height="13.51" fill="#f6faff"/>
<rect x="646.06" y="875.57" width="34.39" height="13.51" fill="#f6faff"/>
<rect x="679.85" y="875.57" width="34.39" height="13.51" fill="#f5fafe"/>
<rect x="713.64" y="875.57" width="34.39" height="13.51" fill="#f5fafe"/>
<rect x="747.43" y="875.57" width="34.39" height="13.51" fill="#f5fafe"/>
<rect x="781.22" y="875.57" width="34.39" height="13.51" fill="#f5fafe"/>
<rect x="815.01" y="875.57" width="34.39" height="13.51" fill="#f5fafe"/>
<rect x="848.8" y="875.57" width="34.39" height="13.51" fill="#f5fafe"/>
<rect x="882.59" y="875.57" width="34.39" height="13.51" fill="#f5fafe"/>
<rect x="916.38" y="875.57" width="34.39" height="13.51" fill="#f5fafe"/>
<rect x="950.17" y="875.57" width="34.39" height="13.51" fill="#f5fafe"/>
<rect x="983.96" y="875.57" width="34.39" height="13.51" fill="#f5fafe"/>
<rect x="1017.75" y="875.57" width="34.39" height="13.51" fill="#f5fafe"/>
<rect x="1051.54" y="875.57" width="34.39" height="13.51" fill="#f5fafe"/>
<rect x="1085.33" y="875.57" width="34.39" height="13.51" fill="#f5fafe"/>
<rect x="1119.12" y="875.57" width="34.39" height="13.51" fill="#f5fafe"/>
<rect x="1152.91" y="875.57" width="34.39" height="13.51" fill="#f5fafe"/>
<rect x="1186.7" y="875.57" width="34.39" height="13.51" fill="#f5fafe"/>
<rect x="1220.49" y="875.57" width="34.39" height="13.51" fill="#f5fafe"/>
<rect x="1254.28" y="875.57" width="34.39" height="13.51" fill="#f5fafe"/>
<rect x="1288.07" y="875.57" width="34.39" height="13.51" fill="#f5fafe"/>
<rect x="1321.86" y="875.57" width="34.39" height="13.51" fill="#f5fafe"/>
<rect x="1355.65" y="875.57" width="34.39" height="13.51" fill="#f5fafe"/>
<rect x="1389.44" y="875.57" width="34.39" height="13.51" fill="#f5fafe"/>
<rect x="1423.23" y="875.57" width="34.39" height="13.51" fill="#f5fafe"/>
<rect x="173" y="888.48" width="34.39" height="13.51" fill="#eff6fc"/>
<rect x="206.79" y="888.48" width="34.39" height="13.51" fill="#f5faff"/>
<rect x="240.58" y="888.48" width="34.39" height="13.51" fill="#f5faff"/>
<rect x="274.37" y="888.48" width="34.39" height="13.51" fill="#f5faff"/>
<rect x="308.16" y="888.48" width="34.39" height="13.51" fill="#f5faff"/>
<rect x="341.95" y="888.48" width="34.39" height="13.51" fill="#f5faff"/>
<rect x="375.74" y="888.48" width="34.39" height="13.51" fill="#f5faff"/>
<rect x="409.53" y="888.48" width="34.39" height="13.51" fill="#f5faff"/>
<rect x="443.32" y="888.48" width="34.39" height="13.51" fill="#f5faff"/>
<rect x="477.11" y="888.48" width="34.39" height="13.51" fill="#f5faff"/>
<rect x="510.9" y="888.48" width="34.39" height="13.51" fill="#f5faff"/>
<rect x="544.69" y="888.48" width="34.39" height="13.51" fill="#f5fafe"/>
<rect x="578.48" y="888.48" width="34.39" height="13.51" fill="#f5fafe"/>
<rect x="612.27" y="888.48" width="34.39" height="13.51" fill="#f6faff"/>
<rect x="646.06" y="888.48" width="34.39" height="13.51" fill="#f6faff"/>
<rect x="679.85" y="888.48" width="34.39" height="13.51" fill="#ebf3fb"/>
<rect x="713.64" y="888.48" width="34.39" height="13.51" fill="#f5fafe"/>
<rect x="747.43" y="888.48" width="34.39" height="13.51" fill="#f5fafe"/>
<rect x="781.22" y="888.48" width="34.39" height="13.51" fill="#f5fafe"/>
<rect x="815.01" y="888.48" width="34.39" height="13.51" fill="#f5fafe"/>
<rect x="848.8" y="888.48" width="34.39" height="13.51" fill="#f5fafe"/>
<rect x="882.59" y="888.48" width="34.39" height="13.51" fill="#f5fafe"/>
<rect x="916.38" y="888.48" width="34.39" height="13.51" fill="#f5fafe"/>
<rect x="950.17" y="888.48" width="34.39" height="13.51" fill="#f5fafe"/>
<rect x="983.96" y="888.48" width="34.39" height="13.51" fill="#f5fafe"/>
<rect x="1017.75" y="888.48" width="34.39" height="13.51" fill="#f5fafe"/>
<rect x="1051.54" y="888.48" width="34.39" height="13.51" fill="#f5fafe"/>
<rect x="1085.33" y="888.48" width="34.39" height="13.51" fill="#f5fafe"/>
<rect x="1119.12" y="888.48" width="34.39" height="13.51" fill="#f5fafe"/>
<rect x="1152.91" y="888.48" width="34.39" height="13.51" fill="#f5fafe"/>
<rect x="1186.7" y="888.48" width="34.39" height="13.51" fill="#f5fafe"/>
<rect x="1220.49" y="888.48" width="34.39" height="13.51" fill="#f5fafe"/>
<rect x="1254.28" y="888.48" width="34.39" height="13.51" fill="#f5fafe"/>
<rect x="1288.07" y="888.48" width="34.39" height="13.51" fill="#f5fafe"/>
<rect x="1321.86" y="888.48" width="34.39" height="13.51" fill="#f5fafe"/>
<rect x="1355.65" y="888.48" width="34.39" height="13.51" fill="#f5fafe"/>
<rect x="1389.44" y="888.48" width="34.39" height="13.51" fill="#f5fafe"/>
<rect x="1423.23" y="888.48" width="34.39" height="13.51" fill="#f5fafe"/>
<rect x="173" y="901.39" width="34.39" height="13.51" fill="#ecf4fc"/>
<rect x="206.79" y="901.39" width="34.39" height="13.51" fill="#f5faff"/>
<rect x="240.58" y="901.39" width="34.39" height="13.51" fill="#f5faff"/>
<rect x="274.37" y="901.39" width="34.39" height="13.51" fill="#f5faff"/>
<rect x="308.16" y="901.39" width="34.39" height="13.51" fill="#f5faff"/>
<rect x="341.95" y="901.39" width="34.39" height="13.51" fill="#f5faff"/>
<rect x="375.74" y="901.39" width="34.39" height="13.51" fill="#f5faff"/>
<rect x="409.53" y="901.39" width="34.39" height="13.51" fill="#f5faff"/>
<rect x="443.32" y="901.39" width="34.39" height="13.51" fill="#f5faff"/>
<rect x="477.11" y="901.39" width="34.39" height="13.51" fill="#f5faff"/>
<rect x="510.9" y="901.39" width="34.39" height="13.51" fill="#f5faff"/>
<rect x="544.69" y="901.39" width="34.39" height="13.51" fill="#edf5fc"/>
<rect x="578.48" y="901.39" width="34.39" height="13.51" fill="#f5fafe"/>
<rect x="612.27" y="901.39" width="34.39" height="13.51" fill="#f6faff"/>
<rect x="646.06" y="901.39" width="34.39" height="13.51" fill="#f6faff"/>
<rect x="679.85" y="901.39" width="34.39" height="13.51" fill="#f5fafe"/>
<rect x="713.64" y="901.39" width="34.39" height="13.51" fill="#f5fafe"/>
<rect x="747.43" y="901.39" width="34.39" height="13.51" fill="#f5fafe"/>
<rect x="781.22" y="901.39" width="34.39" height="13.51" fill="#f5fafe"/>
<rect x="815.01" y="901.39" width="34.39" height="13.51" fill="#f5fafe"/>
<rect x="848.8" y="901.39" width="34.39" height="13.51" fill="#f5fafe"/>
<rect x="882.59" y="901.39" width="34.39" height="13.51" fill="#f5fafe"/>
<rect x="916.38" y="901.39" width="34.39" height="13.51" fill="#f5fafe"/>
<rect x="950.17" y="901.39" width="34.39" height="13.51" fill="#f5fafe"/>
<rect x="983.96" y="901.39" width="34.39" height="13.51" fill="#f5fafe"/>
<rect x="1017.75" y="901.39" width="34.39" height="13.51" fill="#f5fafe"/>
<rect x="1051.54" y="901.39" width="34.39" height="13.51" fill="#f5fafe"/>
<rect x="1085.33" y="901.39" width="34.39" height="13.51" fill="#f5fafe"/>
<rect x="1119.12" y="901.39" width="34.39" height="13.51" fill="#f5fafe"/>
<rect x="1152.91" y="901.39" width="34.39" height="13.51" fill="#f5fafe"/>
<rect x="1186.7" y="901.39" width="34.39" height="13.51" fill="#ecf4fb"/>
<rect x="1220.49" y="901.39" width="34.39" height="13.51" fill="#f5fafe"/>
<rect x="1254.28" y="901.39" width="34.39" height="13.51" fill="#f5fafe"/>
<rect x="1288.07" y="901.39" width="34.39" height="13.51" fill="#f5fafe"/>
<rect x="1321.86" y="901.39" width="34.39" height="13.51" fill="#f5fafe"/>
<rect x="1355.65" y="901.39" width="34.39" height="13.51" fill="#f5fafe"/>
<rect x="1389.44" y="901.39" width="34.39" height="13.51" fill="#f5fafe"/>
<rect x="1423.23" y="901.39" width="34.39" height="13.51" fill="#f5fafe"/>
</g>
<rect x="184.25" y="66.3" width="11.3" height="6.3" fill="#8a8a8a"/>
<rect x="218.03" y="58.8" width="11.3" height="13.8" fill="#8a8a8a"/>
<rect x="251.82" y="60.1" width="11.3" height="12.5" fill="#8a8a8a"/>
<rect x="285.62" y="59.1" width="11.3" height="13.5" fill="#8a8a8a"/>
<rect x="319.4" y="64.6" width="11.3" height="8" fill="#8a8a8a"/>
<rect x="353.19" y="50.7" width="11.3" height="21.9" fill="#8a8a8a"/>
<rect x="386.99" y="65.6" width="11.3" height="7" fill="#8a8a8a"/>
<rect x="420.77" y="60.1" width="11.3" height="12.5" fill="#8a8a8a"/>
<rect x="454.56" y="61.4" width="11.3" height="11.2" fill="#8a8a8a"/>
<rect x="488.36" y="62.4" width="11.3" height="10.2" fill="#8a8a8a"/>
<rect x="522.14" y="61.7" width="11.3" height="10.9" fill="#8a8a8a"/>
<rect x="555.94" y="63.3" width="11.3" height="9.3" fill="#8a8a8a"/>
<rect x="589.73" y="60.1" width="11.3" height="12.5" fill="#8a8a8a"/>
<rect x="623.51" y="58.2" width="11.3" height="14.4" fill="#8a8a8a"/>
<rect x="657.3" y="58.2" width="11.3" height="14.4" fill="#8a8a8a"/>
<rect x="691.09" y="50.7" width="11.3" height="21.9" fill="#8a8a8a"/>
<rect x="724.88" y="49.8" width="11.3" height="22.8" fill="#8a8a8a"/>
<rect x="758.67" y="44.3" width="11.3" height="28.3" fill="#8a8a8a"/>
<rect x="792.47" y="51.8" width="11.3" height="20.8" fill="#8a8a8a"/>
<rect x="826.25" y="48.6" width="11.3" height="24" fill="#8a8a8a"/>
<rect x="860.04" y="42" width="11.3" height="30.6" fill="#8a8a8a"/>
<rect x="893.84" y="63.3" width="11.3" height="9.3" fill="#8a8a8a"/>
<rect x="927.62" y="62.3" width="11.3" height="10.3" fill="#8a8a8a"/>
<rect x="961.41" y="62.3" width="11.3" height="10.3" fill="#8a8a8a"/>
<rect x="995.21" y="66" width="11.3" height="6.6" fill="#8a8a8a"/>
<rect x="1028.99" y="45.9" width="11.3" height="26.7" fill="#8a8a8a"/>
<rect x="1062.78" y="59" width="11.3" height="13.6" fill="#8a8a8a"/>
<rect x="1096.57" y="41.7" width="11.3" height="30.9" fill="#8a8a8a"/>
<rect x="1130.36" y="60" width="11.3" height="12.6" fill="#8a8a8a"/>
<rect x="1164.15" y="27.2" width="11.3" height="45.4" fill="#8a8a8a"/>
<rect x="1197.94" y="42.7" width="11.3" height="29.9" fill="#8a8a8a"/>
<rect x="1231.73" y="48.6" width="11.3" height="24" fill="#8a8a8a"/>
<rect x="1265.52" y="44.3" width="11.3" height="28.3" fill="#8a8a8a"/>
<rect x="1299.31" y="57.1" width="11.3" height="15.5" fill="#8a8a8a"/>
<rect x="1333.1" y="52.8" width="11.3" height="19.8" fill="#8a8a8a"/>
<rect x="1366.89" y="52.8" width="11.3" height="19.8" fill="#8a8a8a"/>
<rect x="1400.68" y="41" width="11.3" height="31.6" fill="#8a8a8a"/>
<rect x="1434.47" y="66.6" width="11.3" height="6" fill="#8a8a8a"/>
<line x1="544.7" y1="10.1" x2="544.7" y2="72.5" stroke="#000" stroke-width="2.4" stroke-dasharray="4.4,4.4"/>
<line x1="544.7" y1="100.1" x2="544.7" y2="241" stroke="#000" stroke-width="2.4" stroke-dasharray="4.4,4.4"/>
<line x1="544.7" y1="268.6" x2="544.7" y2="913" stroke="#000" stroke-width="2.4" stroke-dasharray="4.4,4.4"/>
<line x1="950.2" y1="10.1" x2="950.2" y2="72.5" stroke="#000" stroke-width="2.4" stroke-dasharray="4.4,4.4"/>
<line x1="950.2" y1="100.1" x2="950.2" y2="241" stroke="#000" stroke-width="2.4" stroke-dasharray="4.4,4.4"/>
<line x1="950.2" y1="268.6" x2="950.2" y2="913" stroke="#000" stroke-width="2.4" stroke-dasharray="4.4,4.4"/>
<rect x="172.5" y="9.6" width="1284.1" height="64.4" fill="none" stroke="#000" stroke-width="3.5"/>
<rect x="172.5" y="100.4" width="1284.1" height="141.9" fill="none" stroke="#000" stroke-width="3.5"/>
<rect x="172.5" y="268.8" width="1284.1" height="645.5" fill="none" stroke="#000" stroke-width="3.5"/>
<line x1="166.5" y1="9.6" x2="172" y2="9.6" stroke="#000" stroke-width="3.2"/>
<line x1="166.5" y1="74" x2="172" y2="74" stroke="#000" stroke-width="3.2"/>
<line x1="160.8" y1="100.3" x2="172" y2="100.3" stroke="#000" stroke-width="3.4"/>
<line x1="160.8" y1="113.21" x2="172" y2="113.21" stroke="#000" stroke-width="3.4"/>
<line x1="160.8" y1="126.12" x2="172" y2="126.12" stroke="#000" stroke-width="3.4"/>
<line x1="160.8" y1="139.03" x2="172" y2="139.03" stroke="#000" stroke-width="3.4"/>
<line x1="160.8" y1="151.94" x2="172" y2="151.94" stroke="#000" stroke-width="3.4"/>
<line x1="160.8" y1="164.85" x2="172" y2="164.85" stroke="#000" stroke-width="3.4"/>
<line x1="160.8" y1="177.76" x2="172" y2="177.76" stroke="#000" stroke-width="3.4"/>
<line x1="160.8" y1="190.67" x2="172" y2="190.67" stroke="#000" stroke-width="3.4"/>
<line x1="160.8" y1="203.58" x2="172" y2="203.58" stroke="#000" stroke-width="3.4"/>
<line x1="160.8" y1="216.49" x2="172" y2="216.49" stroke="#000" stroke-width="3.4"/>
<line x1="160.8" y1="229.4" x2="172" y2="229.4" stroke="#000" stroke-width="3.4"/>
<line x1="160.8" y1="242.31" x2="172" y2="242.31" stroke="#000" stroke-width="3.4"/>
<line x1="160.8" y1="268.8" x2="172" y2="268.8" stroke="#000" stroke-width="3.4"/>
<line x1="160.8" y1="281.71" x2="172" y2="281.71" stroke="#000" stroke-width="3.4"/>
<line x1="160.8" y1="294.62" x2="172" y2="294.62" stroke="#000" stroke-width="3.4"/>
<line x1="160.8" y1="307.53" x2="172" y2="307.53" stroke="#000" stroke-width="3.4"/>
<line x1="160.8" y1="320.44" x2="172" y2="320.44" stroke="#000" stroke-width="3.4"/>
<line x1="160.8" y1="333.35" x2="172" y2="333.35" stroke="#000" stroke-width="3.4"/>
<line x1="160.8" y1="346.26" x2="172" y2="346.26" stroke="#000" stroke-width="3.4"/>
<line x1="160.8" y1="359.17" x2="172" y2="359.17" stroke="#000" stroke-width="3.4"/>
<line x1="160.8" y1="372.08" x2="172" y2="372.08" stroke="#000" stroke-width="3.4"/>
<line x1="160.8" y1="384.99" x2="172" y2="384.99" stroke="#000" stroke-width="3.4"/>
<line x1="160.8" y1="397.9" x2="172" y2="397.9" stroke="#000" stroke-width="3.4"/>
<line x1="160.8" y1="410.81" x2="172" y2="410.81" stroke="#000" stroke-width="3.4"/>
<line x1="160.8" y1="423.72" x2="172" y2="423.72" stroke="#000" stroke-width="3.4"/>
<line x1="160.8" y1="436.63" x2="172" y2="436.63" stroke="#000" stroke-width="3.4"/>
<line x1="160.8" y1="449.54" x2="172" y2="449.54" stroke="#000" stroke-width="3.4"/>
<line x1="160.8" y1="462.45" x2="172" y2="462.45" stroke="#000" stroke-width="3.4"/>
<line x1="160.8" y1="475.36" x2="172" y2="475.36" stroke="#000" stroke-width="3.4"/>
<line x1="160.8" y1="488.27" x2="172" y2="488.27" stroke="#000" stroke-width="3.4"/>
<line x1="160.8" y1="501.18" x2="172" y2="501.18" stroke="#000" stroke-width="3.4"/>
<line x1="160.8" y1="514.09" x2="172" y2="514.09" stroke="#000" stroke-width="3.4"/>
<line x1="160.8" y1="527" x2="172" y2="527" stroke="#000" stroke-width="3.4"/>
<line x1="160.8" y1="539.91" x2="172" y2="539.91" stroke="#000" stroke-width="3.4"/>
<line x1="160.8" y1="552.82" x2="172" y2="552.82" stroke="#000" stroke-width="3.4"/>
<line x1="160.8" y1="565.73" x2="172" y2="565.73" stroke="#000" stroke-width="3.4"/>
<line x1="160.8" y1="578.64" x2="172" y2="578.64" stroke="#000" stroke-width="3.4"/>
<line x1="160.8" y1="591.55" x2="172" y2="591.55" stroke="#000" stroke-width="3.4"/>
<line x1="160.8" y1="604.46" x2="172" y2="604.46" stroke="#000" stroke-width="3.4"/>
<line x1="160.8" y1="617.37" x2="172" y2="617.37" stroke="#000" stroke-width="3.4"/>
<line x1="160.8" y1="630.28" x2="172" y2="630.28" stroke="#000" stroke-width="3.4"/>
<line x1="160.8" y1="643.19" x2="172" y2="643.19" stroke="#000" stroke-width="3.4"/>
<line x1="160.8" y1="656.1" x2="172" y2="656.1" stroke="#000" stroke-width="3.4"/>
<line x1="160.8" y1="669.01" x2="172" y2="669.01" stroke="#000" stroke-width="3.4"/>
<line x1="160.8" y1="681.92" x2="172" y2="681.92" stroke="#000" stroke-width="3.4"/>
<line x1="160.8" y1="694.83" x2="172" y2="694.83" stroke="#000" stroke-width="3.4"/>
<line x1="160.8" y1="707.74" x2="172" y2="707.74" stroke="#000" stroke-width="3.4"/>
<line x1="160.8" y1="720.65" x2="172" y2="720.65" stroke="#000" stroke-width="3.4"/>
<line x1="160.8" y1="733.56" x2="172" y2="733.56" stroke="#000" stroke-width="3.4"/>
<line x1="160.8" y1="746.47" x2="172" y2="746.47" stroke="#000" stroke-width="3.4"/>
<line x1="160.8" y1="759.38" x2="172" y2="759.38" stroke="#000" stroke-width="3.4"/>
<line x1="160.8" y1="772.29" x2="172" y2="772.29" stroke="#000" stroke-width="3.4"/>
<line x1="160.8" y1="785.2" x2="172" y2="785.2" stroke="#000" stroke-width="3.4"/>
<line x1="160.8" y1="798.11" x2="172" y2="798.11" stroke="#000" stroke-width="3.4"/>
<line x1="160.8" y1="811.02" x2="172" y2="811.02" stroke="#000" stroke-width="3.4"/>
<line x1="160.8" y1="823.93" x2="172" y2="823.93" stroke="#000" stroke-width="3.4"/>
<line x1="160.8" y1="836.84" x2="172" y2="836.84" stroke="#000" stroke-width="3.4"/>
<line x1="160.8" y1="849.75" x2="172" y2="849.75" stroke="#000" stroke-width="3.4"/>
<line x1="160.8" y1="862.66" x2="172" y2="862.66" stroke="#000" stroke-width="3.4"/>
<line x1="160.8" y1="875.57" x2="172" y2="875.57" stroke="#000" stroke-width="3.4"/>
<line x1="160.8" y1="888.48" x2="172" y2="888.48" stroke="#000" stroke-width="3.4"/>
<line x1="160.8" y1="901.39" x2="172" y2="901.39" stroke="#000" stroke-width="3.4"/>
<line x1="160.8" y1="914.3" x2="172" y2="914.3" stroke="#000" stroke-width="3.4"/>
<line x1="172.2" y1="914" x2="172.2" y2="931" stroke="#000" stroke-width="3.9"/>
<line x1="205.99" y1="914" x2="205.99" y2="931" stroke="#000" stroke-width="3.9"/>
<line x1="239.78" y1="914" x2="239.78" y2="931" stroke="#000" stroke-width="3.9"/>
<line x1="273.57" y1="914" x2="273.57" y2="931" stroke="#000" stroke-width="3.9"/>
<line x1="307.36" y1="914" x2="307.36" y2="931" stroke="#000" stroke-width="3.9"/>
<line x1="341.15" y1="914" x2="341.15" y2="931" stroke="#000" stroke-width="3.9"/>
<line x1="374.94" y1="914" x2="374.94" y2="931" stroke="#000" stroke-width="3.9"/>
<line x1="408.73" y1="914" x2="408.73" y2="931" stroke="#000" stroke-width="3.9"/>
<line x1="442.52" y1="914" x2="442.52" y2="931" stroke="#000" stroke-width="3.9"/>
<line x1="476.31" y1="914" x2="476.31" y2="931" stroke="#000" stroke-width="3.9"/>
<line x1="510.1" y1="914" x2="510.1" y2="931" stroke="#000" stroke-width="3.9"/>
<line x1="543.89" y1="914" x2="543.89" y2="931" stroke="#000" stroke-width="3.9"/>
<line x1="577.68" y1="914" x2="577.68" y2="931" stroke="#000" stroke-width="3.9"/>
<line x1="611.47" y1="914" x2="611.47" y2="931" stroke="#000" stroke-width="3.9"/>
<line x1="645.26" y1="914" x2="645.26" y2="931" stroke="#000" stroke-width="3.9"/>
<line x1="679.05" y1="914" x2="679.05" y2="931" stroke="#000" stroke-width="3.9"/>
<line x1="712.84" y1="914" x2="712.84" y2="931" stroke="#000" stroke-width="3.9"/>
<line x1="746.63" y1="914" x2="746.63" y2="931" stroke="#000" stroke-width="3.9"/>
<line x1="780.42" y1="914" x2="780.42" y2="931" stroke="#000" stroke-width="3.9"/>
<line x1="814.21" y1="914" x2="814.21" y2="931" stroke="#000" stroke-width="3.9"/>
<line x1="848" y1="914" x2="848" y2="931" stroke="#000" stroke-width="3.9"/>
<line x1="881.79" y1="914" x2="881.79" y2="931" stroke="#000" stroke-width="3.9"/>
<line x1="915.58" y1="914" x2="915.58" y2="931" stroke="#000" stroke-width="3.9"/>
<line x1="949.37" y1="914" x2="949.37" y2="931" stroke="#000" stroke-width="3.9"/>
<line x1="983.16" y1="914" x2="983.16" y2="931" stroke="#000" stroke-width="3.9"/>
<line x1="1016.95" y1="914" x2="1016.95" y2="931" stroke="#000" stroke-width="3.9"/>
<line x1="1050.74" y1="914" x2="1050.74" y2="931" stroke="#000" stroke-width="3.9"/>
<line x1="1084.53" y1="914" x2="1084.53" y2="931" stroke="#000" stroke-width="3.9"/>
<line x1="1118.32" y1="914" x2="1118.32" y2="931" stroke="#000" stroke-width="3.9"/>
<line x1="1152.11" y1="914" x2="1152.11" y2="931" stroke="#000" stroke-width="3.9"/>
<line x1="1185.9" y1="914" x2="1185.9" y2="931" stroke="#000" stroke-width="3.9"/>
<line x1="1219.69" y1="914" x2="1219.69" y2="931" stroke="#000" stroke-width="3.9"/>
<line x1="1253.48" y1="914" x2="1253.48" y2="931" stroke="#000" stroke-width="3.9"/>
<line x1="1287.27" y1="914" x2="1287.27" y2="931" stroke="#000" stroke-width="3.9"/>
<line x1="1321.06" y1="914" x2="1321.06" y2="931" stroke="#000" stroke-width="3.9"/>
<line x1="1354.85" y1="914" x2="1354.85" y2="931" stroke="#000" stroke-width="3.9"/>
<line x1="1388.64" y1="914" x2="1388.64" y2="931" stroke="#000" stroke-width="3.9"/>
<line x1="1422.43" y1="914" x2="1422.43" y2="931" stroke="#000" stroke-width="3.9"/>
<line x1="1456.22" y1="914" x2="1456.22" y2="931" stroke="#000" stroke-width="3.9"/>
<text x="160.6" y="19" font-size="22" text-anchor="end" >100</text>
<text x="159.5" y="80.8" font-size="22" text-anchor="end" >0</text>
<text x="1.2" y="48.8" font-size="22.4" text-anchor="start" >Edit Eff (%)</text>
<text x="63.6" y="127.7" font-size="22" text-anchor="end" >1</text>
<line x1="72.2" y1="93.5" x2="72.2" y2="151.7" stroke="#000" stroke-width="1.5"/>
<text x="83.2" y="114.9" font-size="22.4" text-anchor="start" >A</text>
<text x="100.4" y="128.1" font-size="22.4" text-anchor="start" >T</text>
<text x="114.6" y="138.5" font-size="22.4" text-anchor="start" >C</text>
<text x="130.8" y="147" font-size="22.4" text-anchor="start" >G</text>
<text x="151" y="167.79" font-size="22" text-anchor="end" >2</text>
<text x="151" y="205.53" font-size="22" text-anchor="end" >5</text>
<text x="151" y="243.76" font-size="22" text-anchor="end" >8</text>
<text x="150.8" y="282.45" font-size="22" text-anchor="end" >1</text>
<text x="150.8" y="334.09" font-size="22" text-anchor="end" >5</text>
<text x="150.8" y="398.64" font-size="22" text-anchor="end" >10</text>
<text x="150.8" y="463.19" font-size="22" text-anchor="end" >15</text>
<text x="150.8" y="527.75" font-size="22" text-anchor="end" >20</text>
<text x="150.8" y="592.3" font-size="22" text-anchor="end" >25</text>
<text x="150.8" y="656.85" font-size="22" text-anchor="end" >30</text>
<text x="150.8" y="721.39" font-size="22" text-anchor="end" >35</text>
<text x="150.8" y="785.95" font-size="22" text-anchor="end" >40</text>
<text x="150.8" y="850.5" font-size="22" text-anchor="end" >45</text>
<text x="150.8" y="911.05" font-size="22" text-anchor="end" >50</text>
<text transform="translate(27.4,159.4) rotate(-90)" font-size="21.9" text-anchor="middle">Insertions</text>
<text transform="translate(24.7,584.5) rotate(-90)" font-size="21.6" text-anchor="middle">Deletions</text>
<text x="189.9" y="949.6" font-size="22" text-anchor="middle" >1</text>
<text x="222.19" y="949.6" font-size="22" text-anchor="middle" >3</text>
<text x="255.27" y="949.6" font-size="22" text-anchor="middle" >4</text>
<text x="288.46" y="949.6" font-size="22" text-anchor="middle" >6</text>
<text x="322.25" y="949.6" font-size="22" text-anchor="middle" >8</text>
<text x="359.74" y="949.6" font-size="22" text-anchor="middle" >9</text>
<text x="393.24" y="949.6" font-size="22" text-anchor="middle" >10</text>
<text x="425.82" y="949.6" font-size="22" text-anchor="middle" >11</text>
<text x="460.21" y="949.6" font-size="22" text-anchor="middle" >12</text>
<text x="493.11" y="949.6" font-size="22" text-anchor="middle" >13</text>
<text x="525.79" y="949.6" font-size="22" text-anchor="middle" >14</text>
<text x="564.79" y="949.6" font-size="22" text-anchor="middle" >1</text>
<text x="596.98" y="949.6" font-size="22" text-anchor="middle" >2</text>
<text x="630.56" y="949.6" font-size="22" text-anchor="middle" >3</text>
<text x="663.35" y="949.6" font-size="22" text-anchor="middle" >4</text>
<text x="696.74" y="949.6" font-size="22" text-anchor="middle" >8</text>
<text x="730.13" y="949.6" font-size="22" text-anchor="middle" >9</text>
<text x="763.52" y="949.6" font-size="22" text-anchor="middle" >10</text>
<text x="796.12" y="949.6" font-size="22" text-anchor="middle" >11</text>
<text x="830.3" y="949.6" font-size="22" text-anchor="middle" >12</text>
<text x="863.29" y="949.6" font-size="22" text-anchor="middle" >13</text>
<text x="896.49" y="949.6" font-size="22" text-anchor="middle" >14</text>
<text x="929.27" y="949.6" font-size="22" text-anchor="middle" >15</text>
<text x="965.36" y="949.6" font-size="22" text-anchor="middle" >1</text>
<text x="1002.56" y="949.6" font-size="22" text-anchor="middle" >2</text>
<text x="1035.64" y="949.6" font-size="22" text-anchor="middle" >3</text>
<text x="1068.43" y="949.6" font-size="22" text-anchor="middle" >4</text>
<text x="1101.97" y="949.6" font-size="22" text-anchor="middle" >6</text>
<text x="1135.31" y="949.6" font-size="22" text-anchor="middle" >7</text>
<text x="1168.6" y="949.6" font-size="22" text-anchor="middle" >8</text>
<text x="1202.09" y="949.6" font-size="22" text-anchor="middle" >9</text>
<text x="1235.38" y="949.6" font-size="22" text-anchor="middle" >10</text>
<text x="1269.97" y="949.6" font-size="22" text-anchor="middle" >11</text>
<text x="1306.16" y="949.6" font-size="22" text-anchor="middle" >12</text>
<text x="1339.25" y="949.6" font-size="22" text-anchor="middle" >13</text>
<text x="1372.54" y="949.6" font-size="22" text-anchor="middle" >14</text>
<text x="1406.34" y="949.6" font-size="22" text-anchor="middle" >15</text>
<text x="1439.62" y="949.6" font-size="22" text-anchor="middle" >16</text>
<line x1="165.9" y1="964.4" x2="515" y2="964.4" stroke="#000" stroke-width="2"/>
<line x1="532" y1="964.4" x2="938.6" y2="964.4" stroke="#000" stroke-width="2"/>
<line x1="960.8" y1="964.4" x2="1445.6" y2="964.4" stroke="#000" stroke-width="2"/>
<text x="331.4" y="998.5" font-size="21.6" text-anchor="middle" >FokI-PseCascade</text>
<text x="746" y="997" font-size="21.6" text-anchor="middle" >FokI-dCas9</text>
<text x="1227.8" y="997.3" font-size="21.8" text-anchor="middle" >Cas9</text>
<defs><linearGradient id="gG" x1="0" x2="1" y1="0" y2="0"><stop offset="0" stop-color="#f7fcf5"/><stop offset="0.12" stop-color="#e5f5e0"/><stop offset="0.25" stop-color="#c7e9c0"/><stop offset="0.38" stop-color="#a1d99b"/><stop offset="0.5" stop-color="#74c476"/><stop offset="0.62" stop-color="#41ab5d"/><stop offset="0.75" stop-color="#238b45"/><stop offset="0.88" stop-color="#006d2c"/><stop offset="1" stop-color="#00441b"/></linearGradient><linearGradient id="gB" x1="0" x2="1" y1="0" y2="0"><stop offset="0" stop-color="#f7fbff"/><stop offset="0.12" stop-color="#deebf7"/><stop offset="0.25" stop-color="#c6dbef"/><stop offset="0.38" stop-color="#9ecae1"/><stop offset="0.5" stop-color="#6baed6"/><stop offset="0.62" stop-color="#4292c6"/><stop offset="0.75" stop-color="#2171b5"/><stop offset="0.88" stop-color="#08519c"/><stop offset="1" stop-color="#08306b"/></linearGradient></defs>
<rect x="147" y="1080" width="155.3" height="9" fill="url(#gG)" stroke="#111" stroke-width="1.3"/>
<line x1="147" y1="1089" x2="147" y2="1097" stroke="#222" stroke-width="1.3"/>
<line x1="224.65" y1="1089" x2="224.65" y2="1097" stroke="#222" stroke-width="1.3"/>
<line x1="302.3" y1="1089" x2="302.3" y2="1097" stroke="#222" stroke-width="1.3"/>
<text x="148" y="1120.2" font-size="22" text-anchor="middle" >0</text>
<text x="223.05" y="1120.2" font-size="22" text-anchor="middle" >10</text>
<text x="292.3" y="1120.2" font-size="22.5" text-anchor="middle" >&#8805;20</text>
<rect x="359" y="1080" width="155" height="9" fill="url(#gB)" stroke="#111" stroke-width="1.3"/>
<line x1="359" y1="1089" x2="359" y2="1097" stroke="#222" stroke-width="1.3"/>
<line x1="436.5" y1="1089" x2="436.5" y2="1097" stroke="#222" stroke-width="1.3"/>
<line x1="514" y1="1089" x2="514" y2="1097" stroke="#222" stroke-width="1.3"/>
<text x="360" y="1120.2" font-size="22" text-anchor="middle" >0</text>
<text x="434.9" y="1120.2" font-size="22" text-anchor="middle" >10</text>
<text x="504" y="1120.2" font-size="22.5" text-anchor="middle" >&#8805;20</text>
<text x="222.3" y="1154" font-size="22.8" text-anchor="middle" >Ins Freq (%)</text>
<text x="439.5" y="1159.3" font-size="22.7" text-anchor="middle" >Del Freq (%)</text>
<line x1="1593.6" y1="45.6" x2="1593.6" y2="343" stroke="#000" stroke-width="2"/>
<line x1="1584.3" y1="342.2" x2="2037.4" y2="342.2" stroke="#000" stroke-width="2"/>
<line x1="1584.3" y1="342.2" x2="1593.6" y2="342.2" stroke="#000" stroke-width="2"/>
<text x="1580" y="351" font-size="21.5" text-anchor="end" >0</text>
<line x1="1584.3" y1="243.34" x2="1593.6" y2="243.34" stroke="#000" stroke-width="2"/>
<text x="1580" y="252.14" font-size="21.5" text-anchor="end" >20</text>
<line x1="1584.3" y1="144.48" x2="1593.6" y2="144.48" stroke="#000" stroke-width="2"/>
<text x="1580" y="153.28" font-size="21.5" text-anchor="end" >40</text>
<line x1="1584.3" y1="45.62" x2="1593.6" y2="45.62" stroke="#000" stroke-width="2"/>
<text x="1580" y="54.42" font-size="21.5" text-anchor="end" >60</text>
<text transform="translate(1542,192.2) rotate(-90)" font-size="21.4" text-anchor="middle">Editing efficiency (%)</text>
<rect x="1638.2" y="291.78" width="88.8" height="50.42" fill="#fff" stroke="#000" stroke-width="2"/>
<line x1="1682.6" y1="291.78" x2="1682.6" y2="256.19" stroke="#000" stroke-width="2"/>
<line x1="1662.6" y1="256.19" x2="1702.6" y2="256.19" stroke="#000" stroke-width="2"/>
<line x1="1682.6" y1="342.2" x2="1682.6" y2="353" stroke="#000" stroke-width="2"/>
<circle cx="1682.6" cy="219.2" r="5.6" fill="#ebebeb" stroke="#000" stroke-width="1.9"/>
<circle cx="1664.6" cy="254.1" r="5.6" fill="#ebebeb" stroke="#000" stroke-width="1.9"/>
<circle cx="1682.6" cy="256.1" r="5.6" fill="#ebebeb" stroke="#000" stroke-width="1.9"/>
<circle cx="1708.8" cy="255.5" r="5.6" fill="#ebebeb" stroke="#000" stroke-width="1.9"/>
<circle cx="1700.1" cy="267.7" r="5.6" fill="#ebebeb" stroke="#000" stroke-width="1.9"/>
<circle cx="1655.6" cy="275" r="5.6" fill="#ebebeb" stroke="#000" stroke-width="1.9"/>
<circle cx="1682.6" cy="277.3" r="5.6" fill="#ebebeb" stroke="#000" stroke-width="1.9"/>
<circle cx="1664.6" cy="288.1" r="5.6" fill="#ebebeb" stroke="#000" stroke-width="1.9"/>
<circle cx="1682.6" cy="301.5" r="5.6" fill="#ebebeb" stroke="#000" stroke-width="1.9"/>
<circle cx="1700.1" cy="303.5" r="5.6" fill="#ebebeb" stroke="#000" stroke-width="1.9"/>
<circle cx="1708.8" cy="300.6" r="5.6" fill="#ebebeb" stroke="#000" stroke-width="1.9"/>
<circle cx="1655.6" cy="319.5" r="5.6" fill="#ebebeb" stroke="#000" stroke-width="1.9"/>
<circle cx="1664.6" cy="323.9" r="5.6" fill="#ebebeb" stroke="#000" stroke-width="1.9"/>
<circle cx="1682.6" cy="319.5" r="5.6" fill="#ebebeb" stroke="#000" stroke-width="1.9"/>
<circle cx="1700.1" cy="331.7" r="5.6" fill="#ebebeb" stroke="#000" stroke-width="1.9"/>
<circle cx="1682.6" cy="339.9" r="5.6" fill="#ebebeb" stroke="#000" stroke-width="1.9"/>
<rect x="1771.1" y="242.85" width="88.8" height="99.35" fill="#fff" stroke="#000" stroke-width="2"/>
<line x1="1815.5" y1="242.85" x2="1815.5" y2="173.15" stroke="#000" stroke-width="2"/>
<line x1="1793" y1="173.15" x2="1838" y2="173.15" stroke="#000" stroke-width="2"/>
<line x1="1815.5" y1="342.2" x2="1815.5" y2="353" stroke="#000" stroke-width="2"/>
<circle cx="1806.8" cy="128.2" r="5.6" fill="#ebebeb" stroke="#000" stroke-width="1.9"/>
<circle cx="1824.5" cy="143.6" r="5.6" fill="#ebebeb" stroke="#000" stroke-width="1.9"/>
<circle cx="1824.5" cy="166.8" r="5.6" fill="#ebebeb" stroke="#000" stroke-width="1.9"/>
<circle cx="1806.8" cy="176.2" r="5.6" fill="#ebebeb" stroke="#000" stroke-width="1.9"/>
<circle cx="1806.8" cy="197.4" r="5.6" fill="#ebebeb" stroke="#000" stroke-width="1.9"/>
<circle cx="1824.5" cy="210.5" r="5.6" fill="#ebebeb" stroke="#000" stroke-width="1.9"/>
<circle cx="1797.8" cy="243" r="5.6" fill="#ebebeb" stroke="#000" stroke-width="1.9"/>
<circle cx="1833.5" cy="248.3" r="5.6" fill="#ebebeb" stroke="#000" stroke-width="1.9"/>
<circle cx="1815.5" cy="260.5" r="5.6" fill="#ebebeb" stroke="#000" stroke-width="1.9"/>
<circle cx="1797.8" cy="282.6" r="5.6" fill="#ebebeb" stroke="#000" stroke-width="1.9"/>
<circle cx="1815.5" cy="286.1" r="5.6" fill="#ebebeb" stroke="#000" stroke-width="1.9"/>
<circle cx="1833.5" cy="278.8" r="5.6" fill="#ebebeb" stroke="#000" stroke-width="1.9"/>
<circle cx="1797.8" cy="321" r="5.6" fill="#ebebeb" stroke="#000" stroke-width="1.9"/>
<circle cx="1833.5" cy="329.7" r="5.6" fill="#ebebeb" stroke="#000" stroke-width="1.9"/>
<circle cx="1815.5" cy="336.4" r="5.6" fill="#ebebeb" stroke="#000" stroke-width="1.9"/>
<rect x="1904.3" y="206.76" width="88.8" height="135.44" fill="#fff" stroke="#000" stroke-width="2"/>
<line x1="1948.7" y1="206.76" x2="1948.7" y2="126.69" stroke="#000" stroke-width="2"/>
<line x1="1926.7" y1="126.69" x2="1970.7" y2="126.69" stroke="#000" stroke-width="2"/>
<line x1="1948.7" y1="342.2" x2="1948.7" y2="353" stroke="#000" stroke-width="2"/>
<circle cx="1948.7" cy="50" r="5.6" fill="#ebebeb" stroke="#000" stroke-width="1.9"/>
<circle cx="1948.7" cy="132.8" r="5.6" fill="#ebebeb" stroke="#000" stroke-width="1.9"/>
<circle cx="1922.2" cy="139.8" r="5.6" fill="#ebebeb" stroke="#000" stroke-width="1.9"/>
<circle cx="1975.7" cy="139.2" r="5.6" fill="#ebebeb" stroke="#000" stroke-width="1.9"/>
<circle cx="1958" cy="148.5" r="5.6" fill="#ebebeb" stroke="#000" stroke-width="1.9"/>
<circle cx="1939.9" cy="153.8" r="5.6" fill="#ebebeb" stroke="#000" stroke-width="1.9"/>
<circle cx="1948.7" cy="191" r="5.6" fill="#ebebeb" stroke="#000" stroke-width="1.9"/>
<circle cx="1939.9" cy="211.3" r="5.6" fill="#ebebeb" stroke="#000" stroke-width="1.9"/>
<circle cx="1958" cy="211.3" r="5.6" fill="#ebebeb" stroke="#000" stroke-width="1.9"/>
<circle cx="1948.7" cy="241" r="5.6" fill="#ebebeb" stroke="#000" stroke-width="1.9"/>
<circle cx="1948.7" cy="261.3" r="5.6" fill="#ebebeb" stroke="#000" stroke-width="1.9"/>
<circle cx="1939.9" cy="280.8" r="5.6" fill="#ebebeb" stroke="#000" stroke-width="1.9"/>
<circle cx="1958" cy="283.2" r="5.6" fill="#ebebeb" stroke="#000" stroke-width="1.9"/>
<circle cx="1939.9" cy="317.5" r="5.6" fill="#ebebeb" stroke="#000" stroke-width="1.9"/>
<circle cx="1958" cy="310.2" r="5.6" fill="#ebebeb" stroke="#000" stroke-width="1.9"/>
<text transform="translate(1685,372.5) rotate(-45)" font-size="21.9" text-anchor="end">FokI-PseCascade</text>
<text transform="translate(1819,371.3) rotate(-45)" font-size="21.9" text-anchor="end">FokI-dCas9</text>
<text transform="translate(1953.5,370) rotate(-45)" font-size="21.9" text-anchor="end">Cas9</text>
</svg>
</body></html>
